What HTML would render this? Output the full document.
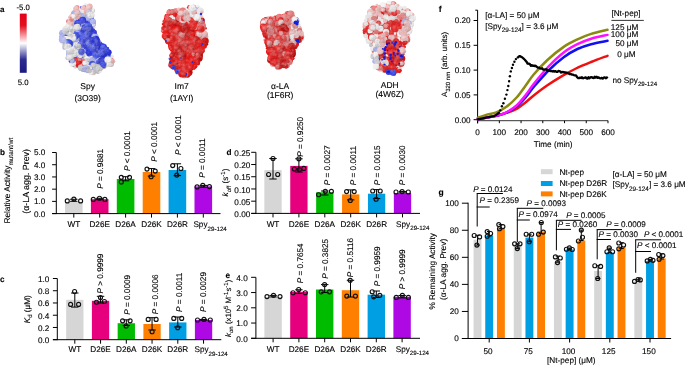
<!DOCTYPE html>
<html><head><meta charset="utf-8"><style>
html,body{margin:0;padding:0;background:#fff;}
body{width:685px;height:365px;overflow:hidden;font-family:"Liberation Sans", sans-serif;}
svg{display:block;will-change:transform;}
text{stroke:#000;stroke-width:0.12px;text-rendering:geometricPrecision;}
</style></head><body>
<svg width="685" height="365" viewBox="0 0 685 365" font-family='"Liberation Sans", sans-serif' font-size="8.2" fill="#000">
<defs><radialGradient id="sh" cx="0.35" cy="0.32" r="0.75"><stop offset="0" stop-color="#fff" stop-opacity="0.14"/><stop offset="0.5" stop-color="#fff" stop-opacity="0"/><stop offset="1" stop-color="#000" stop-opacity="0.1"/></radialGradient><filter id="bl" x="-10%" y="-10%" width="120%" height="120%"><feGaussianBlur stdDeviation="0.55"/></filter></defs>
<g filter="url(#bl)"><g>
<polygon points="83.52,5.63 88.2,5.07 91.89,7.58 93.78,12.42 93.87,18.28 94.5,24.04 95.13,29.9 96.93,36.69 102.87,43.48 107.82,49.24 110.7,55.1 112.5,60.87 109.71,64.78 102.24,66.73 98.46,71.56 90.99,72.49 83.52,69.61 75.96,66.73 70.38,62.82 66.6,56.96 66.6,51.2 63.81,45.34 61.92,39.57 61.02,33.71 64.71,29.9 67.5,24.04 70.38,16.32 74.07,10.46 78.75,6.65" fill="#3242ec"/>
<circle cx="92.9" cy="10.75" r="2.13" fill="#c8c8cd"/>
<circle cx="77.87" cy="11.23" r="3.71" fill="#f2f0f0"/>
<circle cx="79.81" cy="10.4" r="2.05" fill="#f1bbbb"/>
<circle cx="75.77" cy="14.85" r="3.12" fill="#c3c3c8"/>
<circle cx="80.01" cy="11.92" r="2.83" fill="#eae8e8"/>
<circle cx="72.76" cy="16.75" r="3.44" fill="#f0bbbb"/>
<circle cx="83.45" cy="11.04" r="3.08" fill="#e2aeae"/>
<circle cx="84.52" cy="16.26" r="2.54" fill="#202ad9"/>
<circle cx="88.92" cy="8.92" r="3.49" fill="#e7b2b2"/>
<circle cx="83.05" cy="13.95" r="3.29" fill="#eae8e8"/>
<circle cx="89.53" cy="20.65" r="2.49" fill="#3c4bed"/>
<circle cx="92.5" cy="15.58" r="2.04" fill="#eeecec"/>
<circle cx="89.51" cy="21.77" r="2.19" fill="#2f3edf"/>
<circle cx="91.23" cy="10.73" r="3.03" fill="#f2f1f1"/>
<circle cx="83.6" cy="28.89" r="3.35" fill="#a1a8e3"/>
<circle cx="85.41" cy="4.18" r="1.22" fill="#f1efef"/>
<circle cx="75.12" cy="20.87" r="2.86" fill="#ebe9e9"/>
<circle cx="64.23" cy="29.58" r="1.91" fill="#a4abe7"/>
<circle cx="77.53" cy="12.85" r="2.46" fill="#f3f1f1"/>
<circle cx="78.72" cy="14.2" r="2.8" fill="#acb4f0"/>
<circle cx="74.67" cy="20.78" r="2.76" fill="#a0a8e2"/>
<circle cx="72.68" cy="19.43" r="2.38" fill="#e4e2e2"/>
<circle cx="78" cy="7.54" r="2.29" fill="#f1efef"/>
<circle cx="68.38" cy="20.67" r="2.39" fill="#f3f1f1"/>
<circle cx="86.54" cy="26.43" r="2.23" fill="#303fe2"/>
<circle cx="84.56" cy="22.02" r="2.99" fill="#303fe2"/>
<circle cx="80.64" cy="24.74" r="2.59" fill="#1e28cf"/>
<circle cx="74.8" cy="13.77" r="3.75" fill="#a4abe7"/>
<circle cx="73.58" cy="18.04" r="2.66" fill="#eceaea"/>
<circle cx="88.17" cy="6.91" r="2.64" fill="#f2f0f0"/>
<circle cx="78.6" cy="12.53" r="2.23" fill="#e67474"/>
<circle cx="91.24" cy="25.79" r="3.14" fill="#3140e6"/>
<circle cx="80.93" cy="27.05" r="2.46" fill="#3242eb"/>
<circle cx="89.1" cy="7.88" r="2.43" fill="#f3f1f1"/>
<circle cx="93.37" cy="27.33" r="2.1" fill="#e4e2e2"/>
<circle cx="73.44" cy="29.52" r="2.42" fill="#edebeb"/>
<circle cx="75.62" cy="26.74" r="2.98" fill="#efeded"/>
<circle cx="81.16" cy="38.39" r="2.68" fill="#2630db"/>
<circle cx="75.82" cy="37.85" r="3.71" fill="#3a4aed"/>
<circle cx="92.02" cy="23.32" r="3.8" fill="#a1a9e3"/>
<circle cx="80.81" cy="14.85" r="2.9" fill="#a2aae5"/>
<circle cx="85.47" cy="39.65" r="2.64" fill="#3141e9"/>
<circle cx="89.06" cy="30.83" r="2.01" fill="#2f3edf"/>
<circle cx="86.99" cy="32.78" r="2.3" fill="#3747ec"/>
<circle cx="77.17" cy="12.61" r="2.45" fill="#cfcfd4"/>
<circle cx="69.57" cy="28.58" r="3.58" fill="#f2f0f0"/>
<circle cx="86.96" cy="40.64" r="2.27" fill="#3342ec"/>
<circle cx="84.04" cy="36.66" r="3.5" fill="#303fe2"/>
<circle cx="86.01" cy="31.08" r="2.97" fill="#3242eb"/>
<circle cx="83.5" cy="41.8" r="3.03" fill="#3a4aed"/>
<circle cx="64.41" cy="39.79" r="3.65" fill="#c1c1c6"/>
<circle cx="88.1" cy="31.01" r="2.88" fill="#2933dc"/>
<circle cx="84.59" cy="23.51" r="2.04" fill="#3444ec"/>
<circle cx="104.94" cy="46.4" r="1.58" fill="#1f28d2"/>
<circle cx="77.04" cy="7.49" r="2.26" fill="#e67474"/>
<circle cx="89.25" cy="33.47" r="3.6" fill="#2c35dc"/>
<circle cx="90.67" cy="29.21" r="2.72" fill="#acb4f0"/>
<circle cx="61.38" cy="36.45" r="2.2" fill="#a1a9e3"/>
<circle cx="82.6" cy="20.29" r="3" fill="#3242eb"/>
<circle cx="89.71" cy="6.41" r="2.92" fill="#ecb6b6"/>
<circle cx="76.59" cy="45.44" r="2.83" fill="#3444ec"/>
<circle cx="81.9" cy="16.95" r="3.58" fill="#a9b1ee"/>
<circle cx="68.61" cy="26.24" r="2.56" fill="#a7afec"/>
<circle cx="89.98" cy="30.87" r="2.35" fill="#abb3f0"/>
<circle cx="77.89" cy="44.2" r="3.51" fill="#ceced3"/>
<circle cx="82.38" cy="10.88" r="2.3" fill="#f2f0f0"/>
<circle cx="64.29" cy="47.86" r="1.92" fill="#adb5f1"/>
<circle cx="88.26" cy="44.23" r="3.79" fill="#3241ea"/>
<circle cx="97.61" cy="43.3" r="3.63" fill="#2f3fe0"/>
<circle cx="85.25" cy="38.22" r="3.39" fill="#2b34dc"/>
<circle cx="73.05" cy="39.75" r="3.33" fill="#adb4f0"/>
<circle cx="95.41" cy="48.15" r="2.73" fill="#3242eb"/>
<circle cx="88.3" cy="9.05" r="3.44" fill="#f1bcbc"/>
<circle cx="91.14" cy="29.02" r="2.53" fill="#1f29d4"/>
<circle cx="66.04" cy="42.46" r="2.19" fill="#adb4f0"/>
<circle cx="84.76" cy="44.55" r="2.38" fill="#1f28d0"/>
<circle cx="75.15" cy="48.44" r="2.09" fill="#f2f0f0"/>
<circle cx="90.06" cy="35.32" r="2.6" fill="#2630db"/>
<circle cx="87.34" cy="11.31" r="3.63" fill="#edb6b6"/>
<circle cx="73.93" cy="44.97" r="2.45" fill="#e9b4b4"/>
<circle cx="93.66" cy="34.37" r="3.47" fill="#2f3edf"/>
<circle cx="64.2" cy="42.58" r="2.76" fill="#f2f0f0"/>
<circle cx="86.89" cy="26.09" r="3.57" fill="#3040e4"/>
<circle cx="78.47" cy="26.08" r="3.35" fill="#a3abe7"/>
<circle cx="104.51" cy="48.06" r="2.48" fill="#242ddb"/>
<circle cx="83.32" cy="49.04" r="2.64" fill="#3242eb"/>
<circle cx="86.29" cy="34.82" r="2.83" fill="#202ad9"/>
<circle cx="70.98" cy="34.25" r="2.89" fill="#cfcfd4"/>
<circle cx="79.56" cy="53.34" r="3.33" fill="#abb3f0"/>
<circle cx="82.75" cy="35.7" r="2.99" fill="#1e28ce"/>
<circle cx="76.72" cy="36.85" r="2.04" fill="#2f3edf"/>
<circle cx="84.92" cy="39.29" r="2.3" fill="#3343ec"/>
<circle cx="73.48" cy="22.71" r="2.86" fill="#acb4f0"/>
<circle cx="81.88" cy="43.13" r="3.63" fill="#3b4aed"/>
<circle cx="68.14" cy="21.37" r="2.13" fill="#e77b7b"/>
<circle cx="95.66" cy="54.22" r="3.47" fill="#2933dc"/>
<circle cx="89.05" cy="16.88" r="2.77" fill="#a0a8e2"/>
<circle cx="77.8" cy="47.1" r="3.41" fill="#a8b0ed"/>
<circle cx="77.17" cy="15.58" r="3.64" fill="#e8b3b3"/>
<circle cx="98.6" cy="51.67" r="2.98" fill="#1f28d1"/>
<circle cx="90.47" cy="28.43" r="2.29" fill="#3343ec"/>
<circle cx="67.42" cy="58.04" r="2.15" fill="#c5c5c9"/>
<circle cx="83.41" cy="39.36" r="3.4" fill="#1f29d3"/>
<circle cx="76.51" cy="41.26" r="2.81" fill="#3646ec"/>
<circle cx="99.75" cy="53.27" r="3.24" fill="#f0eeee"/>
<circle cx="64.16" cy="39.85" r="2.92" fill="#abb3f0"/>
<circle cx="68.44" cy="44.87" r="3.55" fill="#3141e9"/>
<circle cx="89.43" cy="41.99" r="3.52" fill="#3140e6"/>
<circle cx="66.97" cy="43.6" r="3.52" fill="#f3f1f1"/>
<circle cx="88.37" cy="41.8" r="3.47" fill="#3a4aed"/>
<circle cx="103.14" cy="53.46" r="3.34" fill="#a3abe6"/>
<circle cx="90.39" cy="15" r="3.42" fill="#f3f1f1"/>
<circle cx="70.07" cy="51.38" r="2.78" fill="#f2f0f0"/>
<circle cx="84.01" cy="24.6" r="2.72" fill="#303fe3"/>
<circle cx="100.82" cy="54.78" r="3.35" fill="#f2f0f0"/>
<circle cx="91.42" cy="45.71" r="2.44" fill="#1f29d6"/>
<circle cx="83.07" cy="7.88" r="2.37" fill="#f1bcbc"/>
<circle cx="76.54" cy="56.26" r="3.02" fill="#a6adea"/>
<circle cx="80.41" cy="33.02" r="2.34" fill="#3343ec"/>
<circle cx="87.77" cy="25.83" r="3.71" fill="#252fdb"/>
<circle cx="88.47" cy="14.69" r="2.49" fill="#e4e2e2"/>
<circle cx="73.6" cy="41.69" r="2.79" fill="#a5ade9"/>
<circle cx="69.79" cy="26.26" r="3.78" fill="#a3abe6"/>
<circle cx="96.94" cy="41.97" r="3.7" fill="#adb5f1"/>
<circle cx="90.28" cy="48.57" r="3.3" fill="#1e28cd"/>
<circle cx="78" cy="45.24" r="2.8" fill="#303fe1"/>
<circle cx="83.6" cy="63.06" r="2.1" fill="#e71414"/>
<circle cx="76.1" cy="38.97" r="2.64" fill="#303fe1"/>
<circle cx="74.01" cy="53.7" r="2.74" fill="#f2f0f0"/>
<circle cx="76.35" cy="61.39" r="3.72" fill="#da6d6d"/>
<circle cx="69.88" cy="56.6" r="2.21" fill="#f1efef"/>
<circle cx="80.56" cy="33.38" r="2.73" fill="#1f29d2"/>
<circle cx="76.76" cy="28" r="2.71" fill="#a2aae5"/>
<circle cx="86.02" cy="36.36" r="2.08" fill="#2a34dc"/>
<circle cx="72.7" cy="16.62" r="2.63" fill="#efeded"/>
<circle cx="78.58" cy="32.6" r="2.03" fill="#3a49ed"/>
<circle cx="103.97" cy="60.29" r="3.47" fill="#3141e8"/>
<circle cx="95.68" cy="41.41" r="2.45" fill="#3747ec"/>
<circle cx="72.11" cy="56.44" r="2.19" fill="#cbcbd0"/>
<circle cx="91.68" cy="23.69" r="2.99" fill="#303fe2"/>
<circle cx="103.09" cy="52.05" r="2.89" fill="#3d4ced"/>
<circle cx="87.76" cy="14.45" r="3.31" fill="#e4afaf"/>
<circle cx="89.43" cy="13.53" r="3.5" fill="#d0d0d5"/>
<circle cx="94.33" cy="24.81" r="1.53" fill="#afb6f1"/>
<circle cx="66.11" cy="38.78" r="3.03" fill="#f2f0f0"/>
<circle cx="69.75" cy="23.91" r="2.99" fill="#a2aae5"/>
<circle cx="66.85" cy="45.23" r="3.53" fill="#f3f1f1"/>
<circle cx="80.47" cy="34.65" r="2.33" fill="#3545ec"/>
<circle cx="73.12" cy="62.6" r="2.72" fill="#3747ec"/>
<circle cx="91.25" cy="46.62" r="3.22" fill="#3140e6"/>
<circle cx="74.15" cy="59.56" r="3.49" fill="#303fe2"/>
<circle cx="88.62" cy="36.81" r="2.73" fill="#3242ec"/>
<circle cx="70.12" cy="23.15" r="2.98" fill="#e4e3e3"/>
<circle cx="80.17" cy="60.7" r="2.78" fill="#e61414"/>
<circle cx="101.76" cy="63.57" r="2.41" fill="#3c4bed"/>
<circle cx="75.21" cy="45.75" r="2.81" fill="#ceced2"/>
<circle cx="81.18" cy="66.3" r="3.37" fill="#eb1e1e"/>
<circle cx="88.23" cy="29.2" r="2.92" fill="#2b34dc"/>
<circle cx="86.9" cy="61.25" r="2.01" fill="#f2f0f0"/>
<circle cx="71.98" cy="58.69" r="3.68" fill="#d0d0d4"/>
<circle cx="78.46" cy="60.76" r="3.15" fill="#e57373"/>
<circle cx="69.16" cy="34.31" r="2.04" fill="#e4e2e2"/>
<circle cx="80.92" cy="30.71" r="2.36" fill="#3140e6"/>
<circle cx="89.78" cy="38.83" r="2.86" fill="#202ad7"/>
<circle cx="70.25" cy="17.56" r="2.16" fill="#e9b4b4"/>
<circle cx="74.21" cy="32.63" r="3.07" fill="#f1bdbd"/>
<circle cx="95.6" cy="49.15" r="3.69" fill="#2029d7"/>
<circle cx="78.69" cy="49.93" r="3.02" fill="#efeded"/>
<circle cx="83.17" cy="29.78" r="2.53" fill="#3847ed"/>
<circle cx="92.51" cy="66.42" r="3.49" fill="#f2f0f0"/>
<circle cx="79.51" cy="42.66" r="3.57" fill="#3747ec"/>
<circle cx="87.36" cy="28.33" r="2.49" fill="#1f29d5"/>
<circle cx="99.38" cy="54.59" r="2.55" fill="#aeb5f1"/>
<circle cx="111.31" cy="63.38" r="2.27" fill="#e77676"/>
<circle cx="80.04" cy="49.97" r="3.32" fill="#ceced2"/>
<circle cx="87.48" cy="17.66" r="3.09" fill="#a6aeeb"/>
<circle cx="110.75" cy="60.14" r="3.01" fill="#e77878"/>
<circle cx="89.28" cy="24.78" r="2.44" fill="#3848ed"/>
<circle cx="93.61" cy="24.84" r="1.8" fill="#f2f1f1"/>
<circle cx="67.49" cy="26.06" r="2.39" fill="#f2f0f0"/>
<circle cx="76.07" cy="8.77" r="2.89" fill="#eeb7b7"/>
<circle cx="71.17" cy="61.3" r="2.39" fill="#3b4aed"/>
<circle cx="76.11" cy="39.53" r="3.62" fill="#a0a8e2"/>
<circle cx="90.28" cy="12.32" r="2.12" fill="#adb5f0"/>
<circle cx="87.2" cy="45.2" r="2.06" fill="#3848ed"/>
<circle cx="101.28" cy="56.3" r="2.55" fill="#3141e9"/>
<circle cx="72.43" cy="63.97" r="2.59" fill="#f3f1f1"/>
<circle cx="70.78" cy="19.97" r="2.36" fill="#f2f0f0"/>
<circle cx="82.98" cy="69.72" r="2.39" fill="#cfcfd4"/>
<circle cx="76.41" cy="33.8" r="3.37" fill="#3444ec"/>
<circle cx="88.67" cy="28.56" r="2.01" fill="#222cda"/>
<circle cx="85.81" cy="32.63" r="2.13" fill="#a5ade9"/>
<circle cx="106.47" cy="49.34" r="2.71" fill="#3948ed"/>
<circle cx="64.39" cy="31.28" r="2.89" fill="#f3f1f1"/>
<circle cx="67.72" cy="26.1" r="2.23" fill="#e8e6e6"/>
<circle cx="83.05" cy="57.77" r="2" fill="#efeded"/>
<circle cx="87.26" cy="45" r="2.99" fill="#3c4bed"/>
<circle cx="85.14" cy="29.34" r="3.77" fill="#242edb"/>
<circle cx="70.35" cy="22.59" r="2.86" fill="#f0baba"/>
<circle cx="86.64" cy="35.09" r="3.17" fill="#3d4ced"/>
<circle cx="94.82" cy="51.19" r="3.66" fill="#2029d7"/>
<circle cx="86.97" cy="65.59" r="3.35" fill="#adb5f1"/>
<circle cx="87.72" cy="37.81" r="2.73" fill="#1f28d1"/>
<circle cx="77.56" cy="29.21" r="2.99" fill="#a5ade9"/>
<circle cx="62.44" cy="42.46" r="2.13" fill="#ebe9e9"/>
<circle cx="87.66" cy="25.52" r="3.09" fill="#303fe1"/>
<circle cx="68.86" cy="32.31" r="3.31" fill="#cfcfd4"/>
<circle cx="80.22" cy="44.57" r="3.65" fill="#f3f1f1"/>
<circle cx="90.13" cy="60.4" r="2.12" fill="#cfcfd4"/>
<circle cx="71.07" cy="49.52" r="2.71" fill="#e6e4e4"/>
<circle cx="97.33" cy="45.35" r="2.23" fill="#303fe1"/>
<circle cx="73.73" cy="46.7" r="2.42" fill="#f2f0f0"/>
<circle cx="95.06" cy="37.84" r="2.61" fill="#3141ea"/>
<circle cx="80.13" cy="23.21" r="3.19" fill="#a2aae5"/>
<circle cx="88.51" cy="17.68" r="2.52" fill="#aeb6f1"/>
<circle cx="92.98" cy="21.49" r="2.95" fill="#abb3f0"/>
<circle cx="81.97" cy="22.78" r="3.25" fill="#a3abe6"/>
<circle cx="84.48" cy="47.98" r="2.24" fill="#3b4bed"/>
<circle cx="67.28" cy="29.35" r="2.94" fill="#a3abe7"/>
<circle cx="88.09" cy="32.7" r="3.6" fill="#2029d7"/>
<circle cx="81.24" cy="46.9" r="2.42" fill="#adb5f1"/>
<circle cx="84.7" cy="63.01" r="2.74" fill="#e17171"/>
<circle cx="93.17" cy="51.65" r="3.56" fill="#3d4ced"/>
<circle cx="88.49" cy="43.42" r="2.96" fill="#1e28ce"/>
<circle cx="69.73" cy="39.09" r="2.87" fill="#f2f0f0"/>
<circle cx="79.36" cy="63.95" r="3.28" fill="#de1313"/>
<circle cx="78.71" cy="27.59" r="2.97" fill="#2f3edf"/>
<circle cx="81.35" cy="28.58" r="2.09" fill="#eceaea"/>
<circle cx="74.19" cy="65.21" r="2.05" fill="#3d4ced"/>
<circle cx="96.04" cy="53.28" r="2.8" fill="#3242eb"/>
<circle cx="87.41" cy="29.9" r="2.62" fill="#3d4ded"/>
<circle cx="89.74" cy="41.25" r="2.62" fill="#3545ec"/>
<circle cx="90.94" cy="30.29" r="2.51" fill="#202ada"/>
<circle cx="82.67" cy="20.23" r="3.49" fill="#2c35dc"/>
<circle cx="90.92" cy="14.93" r="3.56" fill="#f2f0f0"/>
<circle cx="83.02" cy="65.68" r="3.05" fill="#e81414"/>
<circle cx="84.86" cy="60.2" r="2.67" fill="#e07070"/>
<circle cx="69.26" cy="28.31" r="3.73" fill="#f2f0f0"/>
<circle cx="71.63" cy="19.24" r="2.39" fill="#e77a7a"/>
<circle cx="76.38" cy="37.33" r="2.07" fill="#3040e4"/>
<circle cx="98.13" cy="47.87" r="2.69" fill="#3040e4"/>
<circle cx="83.71" cy="53.21" r="3.67" fill="#3141e8"/>
<circle cx="73.27" cy="48.33" r="2.95" fill="#f2f0f0"/>
<circle cx="73.43" cy="53.83" r="3.57" fill="#f2f0f0"/>
<circle cx="86.36" cy="29.42" r="2.71" fill="#2f3edf"/>
<circle cx="110.72" cy="63.75" r="3.23" fill="#f0b9b9"/>
<circle cx="85.22" cy="27.03" r="3.09" fill="#3040e4"/>
<circle cx="84.04" cy="30.76" r="3.64" fill="#1f29d3"/>
<circle cx="73.55" cy="16.73" r="2.1" fill="#f3f1f1"/>
<circle cx="94.99" cy="37.22" r="3.76" fill="#adb5f0"/>
<circle cx="82.35" cy="40.66" r="2.83" fill="#3948ed"/>
<circle cx="89.36" cy="43.97" r="2.99" fill="#3949ed"/>
<circle cx="70.69" cy="33.1" r="2.05" fill="#eae8e8"/>
<circle cx="98.3" cy="48.53" r="2.93" fill="#1f28d1"/>
<circle cx="97.81" cy="72.06" r="1.86" fill="#adb5f1"/>
<circle cx="62.54" cy="32.96" r="3.26" fill="#adb5f1"/>
<circle cx="72.78" cy="37.28" r="3.71" fill="#ebe9e9"/>
<circle cx="97.4" cy="59.85" r="3.46" fill="#a6aeeb"/>
<circle cx="86.95" cy="49.54" r="2.79" fill="#3444ec"/>
<circle cx="78.28" cy="22.74" r="2.84" fill="#3040e4"/>
<circle cx="88.18" cy="43.61" r="3.57" fill="#2b34dc"/>
<circle cx="86.62" cy="37.21" r="2.41" fill="#2f3ede"/>
<circle cx="111.05" cy="60.6" r="2.24" fill="#f1bdbd"/>
<circle cx="81.13" cy="54.95" r="3.5" fill="#3746ec"/>
<circle cx="92.85" cy="71.69" r="3.6" fill="#f3f1f1"/>
<circle cx="75.64" cy="44.64" r="2.56" fill="#f2f0f0"/>
<circle cx="102.87" cy="45.9" r="2.76" fill="#3141e8"/>
<circle cx="108.79" cy="60.23" r="3.05" fill="#e9e7e7"/>
<circle cx="77.76" cy="23.61" r="3.56" fill="#2c35dc"/>
<circle cx="69.83" cy="57.84" r="2.68" fill="#edebeb"/>
<circle cx="93.07" cy="47.27" r="3.13" fill="#3141e8"/>
<circle cx="70.25" cy="36.1" r="2.52" fill="#ceced3"/>
<circle cx="104.74" cy="67.13" r="1.54" fill="#f0bbbb"/>
<circle cx="101.19" cy="66.8" r="2.07" fill="#eeecec"/>
<circle cx="92.25" cy="68.44" r="3.79" fill="#f2f1f1"/>
<circle cx="86.37" cy="64.54" r="3.38" fill="#3040e4"/>
<circle cx="76.42" cy="63.92" r="3.61" fill="#e61414"/>
<circle cx="77.18" cy="27.05" r="3.41" fill="#e4e2e2"/>
<circle cx="102.12" cy="50.87" r="3.44" fill="#3d4ced"/>
<circle cx="103.13" cy="61.99" r="3.6" fill="#3848ed"/>
<circle cx="87.06" cy="64.51" r="3.74" fill="#3343ec"/>
<circle cx="106.05" cy="53.34" r="2.96" fill="#a8b0ee"/>
<circle cx="89.27" cy="64.22" r="2.82" fill="#a1a9e4"/>
<circle cx="86.78" cy="51.46" r="2.06" fill="#222cda"/>
<circle cx="76.95" cy="52.53" r="3.16" fill="#3242eb"/>
<circle cx="84.4" cy="28.01" r="2.71" fill="#202ada"/>
<circle cx="70.58" cy="57.58" r="2.61" fill="#f2f1f1"/>
<circle cx="104.39" cy="46.54" r="2.47" fill="#3c4bed"/>
<circle cx="94.19" cy="46.41" r="3.5" fill="#3040e4"/>
<circle cx="66.98" cy="29.65" r="2.58" fill="#f2f0f0"/>
<circle cx="98.56" cy="61.58" r="3.74" fill="#3140e6"/>
<circle cx="72.23" cy="31.11" r="2.38" fill="#c7c7cc"/>
<circle cx="82.56" cy="50.52" r="3.28" fill="#a6aeea"/>
<circle cx="105.78" cy="51.1" r="2.55" fill="#1f29d6"/>
<circle cx="86.16" cy="34.79" r="3.33" fill="#3140e6"/>
<circle cx="80.94" cy="35.07" r="3.5" fill="#3c4bed"/>
<circle cx="65.74" cy="45.04" r="2.22" fill="#aab2f0"/>
<circle cx="80.28" cy="55.61" r="2.56" fill="#eceaea"/>
<circle cx="83.67" cy="68.7" r="3.31" fill="#a7aeeb"/>
<circle cx="69.17" cy="39.46" r="2.94" fill="#efeded"/>
<circle cx="95.11" cy="31.69" r="1.7" fill="#2c35dc"/>
<circle cx="82.8" cy="42.37" r="3.6" fill="#202ada"/>
<circle cx="74.93" cy="59.93" r="2.89" fill="#eb1f1f"/>
<circle cx="87.34" cy="65.6" r="3.54" fill="#f2f0f0"/>
<circle cx="98.01" cy="41.27" r="2.1" fill="#a6aeeb"/>
<circle cx="70.49" cy="51.4" r="3.51" fill="#eceaea"/>
<circle cx="66.05" cy="29.24" r="3.6" fill="#e7e5e5"/>
<circle cx="65.63" cy="31.15" r="3.27" fill="#ceced3"/>
<circle cx="86.48" cy="56.57" r="3.15" fill="#e4e2e2"/>
<circle cx="98.98" cy="70.39" r="2.76" fill="#eeecec"/>
<circle cx="109.6" cy="62.79" r="2.52" fill="#f2f0f0"/>
<circle cx="69.82" cy="56.64" r="3.39" fill="#e4e3e3"/>
<circle cx="67.91" cy="43.59" r="3.57" fill="#f0eeee"/>
<circle cx="100.85" cy="66.24" r="2" fill="#f2f1f1"/>
<circle cx="80.4" cy="68.14" r="2.36" fill="#adb5f1"/>
<circle cx="103.95" cy="55.12" r="3.47" fill="#1f29d2"/>
<circle cx="78.62" cy="50.12" r="2.04" fill="#3140e6"/>
<circle cx="73.73" cy="50.85" r="3.44" fill="#e5e3e3"/>
<circle cx="92.69" cy="40.09" r="2.04" fill="#3d4ced"/>
<circle cx="90.41" cy="33.39" r="2.1" fill="#242edb"/>
<circle cx="94.92" cy="57.71" r="2.39" fill="#cbcbd0"/>
<circle cx="91.78" cy="39.7" r="2.77" fill="#2d37dc"/>
<circle cx="96.95" cy="40.52" r="3.01" fill="#3444ec"/>
<circle cx="92" cy="59.55" r="3.57" fill="#a4ace7"/>
<circle cx="75.92" cy="51.97" r="2.28" fill="#a2a9e4"/>
<circle cx="68.68" cy="52.12" r="2.53" fill="#cbcbd0"/>
<circle cx="90.46" cy="56.3" r="2.3" fill="#adb5f1"/>
<circle cx="98.72" cy="63.67" r="2.05" fill="#f3f1f1"/>
<circle cx="94.59" cy="63.92" r="2.8" fill="#f0b9b9"/>
<circle cx="108.77" cy="52.32" r="2.87" fill="#242edb"/>
<circle cx="60.74" cy="33.14" r="1.68" fill="#a4ace8"/>
<circle cx="68.2" cy="42.29" r="3.27" fill="#3140e6"/>
<circle cx="76.14" cy="52.71" r="3.53" fill="#e6e4e4"/>
<circle cx="62.39" cy="39.6" r="3.58" fill="#adb4f0"/>
<circle cx="107.18" cy="64.28" r="2.1" fill="#a6aeea"/>
<circle cx="77.55" cy="35.57" r="2.21" fill="#2f3edf"/>
<circle cx="75.83" cy="64.74" r="2.56" fill="#e31313"/>
<circle cx="102.34" cy="51.89" r="2.07" fill="#1e28ce"/>
<circle cx="87.31" cy="43.82" r="3.26" fill="#2f3ede"/>
<circle cx="110.19" cy="63.45" r="3.34" fill="#e4e2e2"/>
<circle cx="80.59" cy="50.98" r="2.53" fill="#c3c3c8"/>
<circle cx="106.44" cy="64" r="2.6" fill="#f2f0f0"/>
<circle cx="97.22" cy="44.24" r="3.54" fill="#2831db"/>
<circle cx="89.08" cy="41.37" r="2.57" fill="#242edb"/>
<circle cx="91.95" cy="50.61" r="3.57" fill="#3747ed"/>
<circle cx="94.29" cy="48.45" r="3.69" fill="#202ad8"/>
<circle cx="75.09" cy="67.3" r="1.35" fill="#e4e2e2"/>
<circle cx="93.96" cy="46.9" r="2.82" fill="#232ddb"/>
<circle cx="84.27" cy="66.1" r="2.19" fill="#f1bcbc"/>
<circle cx="82.71" cy="45.18" r="2.57" fill="#3c4bed"/>
<circle cx="97.66" cy="50.48" r="2.47" fill="#202ad8"/>
<circle cx="82.13" cy="43.87" r="2.11" fill="#303fe0"/>
<circle cx="85.87" cy="46.98" r="2.48" fill="#212bda"/>
<circle cx="65.71" cy="43.06" r="2.82" fill="#acb4f0"/>
<circle cx="72.9" cy="63.53" r="3.21" fill="#f2f0f0"/>
<circle cx="95.86" cy="59.38" r="2.83" fill="#a5ade9"/>
<circle cx="102.95" cy="47.6" r="3.32" fill="#1f29d4"/>
<circle cx="112.03" cy="56.43" r="1.65" fill="#e8e6e6"/>
<circle cx="95.73" cy="39.44" r="3.78" fill="#1f29d6"/>
<circle cx="100.89" cy="52.29" r="3.52" fill="#3242ec"/>
<circle cx="100.15" cy="64.31" r="2.12" fill="#f3f1f1"/>
<circle cx="76.05" cy="46.33" r="2.08" fill="#a0a8e2"/>
<circle cx="103.69" cy="50.7" r="2.21" fill="#1f28d1"/>
<circle cx="88.78" cy="46.65" r="2.27" fill="#1f28d1"/>
<circle cx="95.76" cy="60.65" r="3.48" fill="#abb3f0"/>
<circle cx="83.78" cy="54.81" r="2.41" fill="#c7c7cc"/>
<circle cx="86.47" cy="67.39" r="2.98" fill="#cacacf"/>
<circle cx="91.12" cy="47.35" r="2.13" fill="#3b4aed"/>
<circle cx="94.55" cy="55.87" r="3.64" fill="#3d4ced"/>
<circle cx="79.92" cy="43.88" r="2.4" fill="#3b4aed"/>
<circle cx="103.68" cy="64.69" r="3.42" fill="#cfcfd4"/>
<circle cx="100.28" cy="67.6" r="3.35" fill="#c8c8cd"/>
<circle cx="97.29" cy="54.49" r="2.63" fill="#3b4aed"/>
<circle cx="97.64" cy="50.52" r="2.55" fill="#1f28d1"/>
<circle cx="106.96" cy="49.13" r="2.31" fill="#303fe2"/>
<circle cx="94.76" cy="44.75" r="2.87" fill="#1f29d4"/>
<circle cx="69.71" cy="43.65" r="3.59" fill="#3040e4"/>
<circle cx="91.91" cy="66.48" r="3.52" fill="#a1a8e3"/>
<circle cx="90.88" cy="57.44" r="2.09" fill="#e4e2e2"/>
<circle cx="90.38" cy="45.89" r="3.73" fill="#3545ec"/>
<circle cx="103.92" cy="66.7" r="1.77" fill="#3a49ed"/>
<circle cx="93.41" cy="72.46" r="2.38" fill="#eeb7b7"/>
<circle cx="89.17" cy="64.87" r="2.42" fill="#ceced3"/>
<circle cx="95.9" cy="69.62" r="3.74" fill="#c5c5ca"/>
<circle cx="78.3" cy="46.39" r="3.01" fill="#cacacf"/>
<circle cx="65.12" cy="46.05" r="2.73" fill="#c3c3c7"/>
<circle cx="72.15" cy="51.77" r="2.49" fill="#ceced3"/>
<circle cx="87.35" cy="68.12" r="2.21" fill="#f0baba"/>
<circle cx="103.02" cy="47.96" r="3.2" fill="#303fe1"/>
<circle cx="72.18" cy="60.31" r="2.75" fill="#2f3edf"/>
<circle cx="81.29" cy="52.45" r="3.09" fill="#a2aae5"/>
<circle cx="90.75" cy="72.81" r="2.31" fill="#f2f0f0"/>
<circle cx="68.01" cy="47.13" r="3.72" fill="#f2f0f0"/>
<circle cx="112.79" cy="61.34" r="2.4" fill="#e4b0b0"/>
<circle cx="87.49" cy="56.49" r="2.76" fill="#f2f0f0"/>
<circle cx="84.47" cy="67.16" r="2.42" fill="#aeb5f1"/>
<circle cx="97.57" cy="55.53" r="2.43" fill="#3d4ced"/>
<circle cx="92.16" cy="59.59" r="2.51" fill="#a4abe7"/>
<circle cx="87.31" cy="71.09" r="1.95" fill="#ceced3"/>
<circle cx="87.69" cy="71.55" r="1.82" fill="#a2aae5"/>
<circle cx="99.66" cy="52.13" r="2.05" fill="#3343ec"/>
<circle cx="98.79" cy="61.9" r="2.69" fill="#3140e6"/>
<circle cx="81.48" cy="51.73" r="3.12" fill="#2f3edf"/>
<circle cx="84.28" cy="65.89" r="3.19" fill="#f2f0f0"/>
<circle cx="103.06" cy="63.85" r="3.38" fill="#3747ec"/>
<circle cx="80.82" cy="67.63" r="3.14" fill="#c7c7cc"/>
<circle cx="92.31" cy="64.58" r="3.61" fill="#2f3fe0"/>
<circle cx="89.12" cy="53.46" r="3.01" fill="#2731db"/>
<circle cx="100.66" cy="61.16" r="2.93" fill="#1f29d3"/>
<circle cx="86.98" cy="60.14" r="2.14" fill="#cfcfd4"/>
<circle cx="70.48" cy="57.54" r="3.08" fill="#e5e3e3"/>
<circle cx="83.98" cy="64.33" r="2.07" fill="#e21313"/>
<circle cx="72.32" cy="61.1" r="2.43" fill="#a5ade9"/>
<circle cx="89.16" cy="68.01" r="2.98" fill="#f2f0f0"/>
<circle cx="107.84" cy="59.64" r="3.49" fill="#f2f0f0"/>
<circle cx="84.52" cy="62.97" r="2.32" fill="#f3f1f1"/>
<circle cx="85.74" cy="68.68" r="3.67" fill="#abb3f0"/>
<circle cx="93.51" cy="65.18" r="2.7" fill="#c3c3c7"/>
<circle cx="89.27" cy="70.59" r="2.69" fill="#c5c5ca"/>
<circle cx="96.61" cy="67.66" r="3.67" fill="#cbcbd0"/>
<circle cx="92.9" cy="10.75" r="2.13" fill="url(#sh)"/>
<circle cx="77.87" cy="11.23" r="3.71" fill="url(#sh)"/>
<circle cx="79.81" cy="10.4" r="2.05" fill="url(#sh)"/>
<circle cx="75.77" cy="14.85" r="3.12" fill="url(#sh)"/>
<circle cx="80.01" cy="11.92" r="2.83" fill="url(#sh)"/>
<circle cx="72.76" cy="16.75" r="3.44" fill="url(#sh)"/>
<circle cx="83.45" cy="11.04" r="3.08" fill="url(#sh)"/>
<circle cx="84.52" cy="16.26" r="2.54" fill="url(#sh)"/>
<circle cx="88.92" cy="8.92" r="3.49" fill="url(#sh)"/>
<circle cx="83.05" cy="13.95" r="3.29" fill="url(#sh)"/>
<circle cx="89.53" cy="20.65" r="2.49" fill="url(#sh)"/>
<circle cx="92.5" cy="15.58" r="2.04" fill="url(#sh)"/>
<circle cx="89.51" cy="21.77" r="2.19" fill="url(#sh)"/>
<circle cx="91.23" cy="10.73" r="3.03" fill="url(#sh)"/>
<circle cx="83.6" cy="28.89" r="3.35" fill="url(#sh)"/>
<circle cx="85.41" cy="4.18" r="1.22" fill="url(#sh)"/>
<circle cx="75.12" cy="20.87" r="2.86" fill="url(#sh)"/>
<circle cx="64.23" cy="29.58" r="1.91" fill="url(#sh)"/>
<circle cx="77.53" cy="12.85" r="2.46" fill="url(#sh)"/>
<circle cx="78.72" cy="14.2" r="2.8" fill="url(#sh)"/>
<circle cx="74.67" cy="20.78" r="2.76" fill="url(#sh)"/>
<circle cx="72.68" cy="19.43" r="2.38" fill="url(#sh)"/>
<circle cx="78" cy="7.54" r="2.29" fill="url(#sh)"/>
<circle cx="68.38" cy="20.67" r="2.39" fill="url(#sh)"/>
<circle cx="86.54" cy="26.43" r="2.23" fill="url(#sh)"/>
<circle cx="84.56" cy="22.02" r="2.99" fill="url(#sh)"/>
<circle cx="80.64" cy="24.74" r="2.59" fill="url(#sh)"/>
<circle cx="74.8" cy="13.77" r="3.75" fill="url(#sh)"/>
<circle cx="73.58" cy="18.04" r="2.66" fill="url(#sh)"/>
<circle cx="88.17" cy="6.91" r="2.64" fill="url(#sh)"/>
<circle cx="78.6" cy="12.53" r="2.23" fill="url(#sh)"/>
<circle cx="91.24" cy="25.79" r="3.14" fill="url(#sh)"/>
<circle cx="80.93" cy="27.05" r="2.46" fill="url(#sh)"/>
<circle cx="89.1" cy="7.88" r="2.43" fill="url(#sh)"/>
<circle cx="93.37" cy="27.33" r="2.1" fill="url(#sh)"/>
<circle cx="73.44" cy="29.52" r="2.42" fill="url(#sh)"/>
<circle cx="75.62" cy="26.74" r="2.98" fill="url(#sh)"/>
<circle cx="81.16" cy="38.39" r="2.68" fill="url(#sh)"/>
<circle cx="75.82" cy="37.85" r="3.71" fill="url(#sh)"/>
<circle cx="92.02" cy="23.32" r="3.8" fill="url(#sh)"/>
<circle cx="80.81" cy="14.85" r="2.9" fill="url(#sh)"/>
<circle cx="85.47" cy="39.65" r="2.64" fill="url(#sh)"/>
<circle cx="89.06" cy="30.83" r="2.01" fill="url(#sh)"/>
<circle cx="86.99" cy="32.78" r="2.3" fill="url(#sh)"/>
<circle cx="77.17" cy="12.61" r="2.45" fill="url(#sh)"/>
<circle cx="69.57" cy="28.58" r="3.58" fill="url(#sh)"/>
<circle cx="86.96" cy="40.64" r="2.27" fill="url(#sh)"/>
<circle cx="84.04" cy="36.66" r="3.5" fill="url(#sh)"/>
<circle cx="86.01" cy="31.08" r="2.97" fill="url(#sh)"/>
<circle cx="83.5" cy="41.8" r="3.03" fill="url(#sh)"/>
<circle cx="64.41" cy="39.79" r="3.65" fill="url(#sh)"/>
<circle cx="88.1" cy="31.01" r="2.88" fill="url(#sh)"/>
<circle cx="84.59" cy="23.51" r="2.04" fill="url(#sh)"/>
<circle cx="104.94" cy="46.4" r="1.58" fill="url(#sh)"/>
<circle cx="77.04" cy="7.49" r="2.26" fill="url(#sh)"/>
<circle cx="89.25" cy="33.47" r="3.6" fill="url(#sh)"/>
<circle cx="90.67" cy="29.21" r="2.72" fill="url(#sh)"/>
<circle cx="61.38" cy="36.45" r="2.2" fill="url(#sh)"/>
<circle cx="82.6" cy="20.29" r="3" fill="url(#sh)"/>
<circle cx="89.71" cy="6.41" r="2.92" fill="url(#sh)"/>
<circle cx="76.59" cy="45.44" r="2.83" fill="url(#sh)"/>
<circle cx="81.9" cy="16.95" r="3.58" fill="url(#sh)"/>
<circle cx="68.61" cy="26.24" r="2.56" fill="url(#sh)"/>
<circle cx="89.98" cy="30.87" r="2.35" fill="url(#sh)"/>
<circle cx="77.89" cy="44.2" r="3.51" fill="url(#sh)"/>
<circle cx="82.38" cy="10.88" r="2.3" fill="url(#sh)"/>
<circle cx="64.29" cy="47.86" r="1.92" fill="url(#sh)"/>
<circle cx="88.26" cy="44.23" r="3.79" fill="url(#sh)"/>
<circle cx="97.61" cy="43.3" r="3.63" fill="url(#sh)"/>
<circle cx="85.25" cy="38.22" r="3.39" fill="url(#sh)"/>
<circle cx="73.05" cy="39.75" r="3.33" fill="url(#sh)"/>
<circle cx="95.41" cy="48.15" r="2.73" fill="url(#sh)"/>
<circle cx="88.3" cy="9.05" r="3.44" fill="url(#sh)"/>
<circle cx="91.14" cy="29.02" r="2.53" fill="url(#sh)"/>
<circle cx="66.04" cy="42.46" r="2.19" fill="url(#sh)"/>
<circle cx="84.76" cy="44.55" r="2.38" fill="url(#sh)"/>
<circle cx="75.15" cy="48.44" r="2.09" fill="url(#sh)"/>
<circle cx="90.06" cy="35.32" r="2.6" fill="url(#sh)"/>
<circle cx="87.34" cy="11.31" r="3.63" fill="url(#sh)"/>
<circle cx="73.93" cy="44.97" r="2.45" fill="url(#sh)"/>
<circle cx="93.66" cy="34.37" r="3.47" fill="url(#sh)"/>
<circle cx="64.2" cy="42.58" r="2.76" fill="url(#sh)"/>
<circle cx="86.89" cy="26.09" r="3.57" fill="url(#sh)"/>
<circle cx="78.47" cy="26.08" r="3.35" fill="url(#sh)"/>
<circle cx="104.51" cy="48.06" r="2.48" fill="url(#sh)"/>
<circle cx="83.32" cy="49.04" r="2.64" fill="url(#sh)"/>
<circle cx="86.29" cy="34.82" r="2.83" fill="url(#sh)"/>
<circle cx="70.98" cy="34.25" r="2.89" fill="url(#sh)"/>
<circle cx="79.56" cy="53.34" r="3.33" fill="url(#sh)"/>
<circle cx="82.75" cy="35.7" r="2.99" fill="url(#sh)"/>
<circle cx="76.72" cy="36.85" r="2.04" fill="url(#sh)"/>
<circle cx="84.92" cy="39.29" r="2.3" fill="url(#sh)"/>
<circle cx="73.48" cy="22.71" r="2.86" fill="url(#sh)"/>
<circle cx="81.88" cy="43.13" r="3.63" fill="url(#sh)"/>
<circle cx="68.14" cy="21.37" r="2.13" fill="url(#sh)"/>
<circle cx="95.66" cy="54.22" r="3.47" fill="url(#sh)"/>
<circle cx="89.05" cy="16.88" r="2.77" fill="url(#sh)"/>
<circle cx="77.8" cy="47.1" r="3.41" fill="url(#sh)"/>
<circle cx="77.17" cy="15.58" r="3.64" fill="url(#sh)"/>
<circle cx="98.6" cy="51.67" r="2.98" fill="url(#sh)"/>
<circle cx="90.47" cy="28.43" r="2.29" fill="url(#sh)"/>
<circle cx="67.42" cy="58.04" r="2.15" fill="url(#sh)"/>
<circle cx="83.41" cy="39.36" r="3.4" fill="url(#sh)"/>
<circle cx="76.51" cy="41.26" r="2.81" fill="url(#sh)"/>
<circle cx="99.75" cy="53.27" r="3.24" fill="url(#sh)"/>
<circle cx="64.16" cy="39.85" r="2.92" fill="url(#sh)"/>
<circle cx="68.44" cy="44.87" r="3.55" fill="url(#sh)"/>
<circle cx="89.43" cy="41.99" r="3.52" fill="url(#sh)"/>
<circle cx="66.97" cy="43.6" r="3.52" fill="url(#sh)"/>
<circle cx="88.37" cy="41.8" r="3.47" fill="url(#sh)"/>
<circle cx="103.14" cy="53.46" r="3.34" fill="url(#sh)"/>
<circle cx="90.39" cy="15" r="3.42" fill="url(#sh)"/>
<circle cx="70.07" cy="51.38" r="2.78" fill="url(#sh)"/>
<circle cx="84.01" cy="24.6" r="2.72" fill="url(#sh)"/>
<circle cx="100.82" cy="54.78" r="3.35" fill="url(#sh)"/>
<circle cx="91.42" cy="45.71" r="2.44" fill="url(#sh)"/>
<circle cx="83.07" cy="7.88" r="2.37" fill="url(#sh)"/>
<circle cx="76.54" cy="56.26" r="3.02" fill="url(#sh)"/>
<circle cx="80.41" cy="33.02" r="2.34" fill="url(#sh)"/>
<circle cx="87.77" cy="25.83" r="3.71" fill="url(#sh)"/>
<circle cx="88.47" cy="14.69" r="2.49" fill="url(#sh)"/>
<circle cx="73.6" cy="41.69" r="2.79" fill="url(#sh)"/>
<circle cx="69.79" cy="26.26" r="3.78" fill="url(#sh)"/>
<circle cx="96.94" cy="41.97" r="3.7" fill="url(#sh)"/>
<circle cx="90.28" cy="48.57" r="3.3" fill="url(#sh)"/>
<circle cx="78" cy="45.24" r="2.8" fill="url(#sh)"/>
<circle cx="83.6" cy="63.06" r="2.1" fill="url(#sh)"/>
<circle cx="76.1" cy="38.97" r="2.64" fill="url(#sh)"/>
<circle cx="74.01" cy="53.7" r="2.74" fill="url(#sh)"/>
<circle cx="76.35" cy="61.39" r="3.72" fill="url(#sh)"/>
<circle cx="69.88" cy="56.6" r="2.21" fill="url(#sh)"/>
<circle cx="80.56" cy="33.38" r="2.73" fill="url(#sh)"/>
<circle cx="76.76" cy="28" r="2.71" fill="url(#sh)"/>
<circle cx="86.02" cy="36.36" r="2.08" fill="url(#sh)"/>
<circle cx="72.7" cy="16.62" r="2.63" fill="url(#sh)"/>
<circle cx="78.58" cy="32.6" r="2.03" fill="url(#sh)"/>
<circle cx="103.97" cy="60.29" r="3.47" fill="url(#sh)"/>
<circle cx="95.68" cy="41.41" r="2.45" fill="url(#sh)"/>
<circle cx="72.11" cy="56.44" r="2.19" fill="url(#sh)"/>
<circle cx="91.68" cy="23.69" r="2.99" fill="url(#sh)"/>
<circle cx="103.09" cy="52.05" r="2.89" fill="url(#sh)"/>
<circle cx="87.76" cy="14.45" r="3.31" fill="url(#sh)"/>
<circle cx="89.43" cy="13.53" r="3.5" fill="url(#sh)"/>
<circle cx="94.33" cy="24.81" r="1.53" fill="url(#sh)"/>
<circle cx="66.11" cy="38.78" r="3.03" fill="url(#sh)"/>
<circle cx="69.75" cy="23.91" r="2.99" fill="url(#sh)"/>
<circle cx="66.85" cy="45.23" r="3.53" fill="url(#sh)"/>
<circle cx="80.47" cy="34.65" r="2.33" fill="url(#sh)"/>
<circle cx="73.12" cy="62.6" r="2.72" fill="url(#sh)"/>
<circle cx="91.25" cy="46.62" r="3.22" fill="url(#sh)"/>
<circle cx="74.15" cy="59.56" r="3.49" fill="url(#sh)"/>
<circle cx="88.62" cy="36.81" r="2.73" fill="url(#sh)"/>
<circle cx="70.12" cy="23.15" r="2.98" fill="url(#sh)"/>
<circle cx="80.17" cy="60.7" r="2.78" fill="url(#sh)"/>
<circle cx="101.76" cy="63.57" r="2.41" fill="url(#sh)"/>
<circle cx="75.21" cy="45.75" r="2.81" fill="url(#sh)"/>
<circle cx="81.18" cy="66.3" r="3.37" fill="url(#sh)"/>
<circle cx="88.23" cy="29.2" r="2.92" fill="url(#sh)"/>
<circle cx="86.9" cy="61.25" r="2.01" fill="url(#sh)"/>
<circle cx="71.98" cy="58.69" r="3.68" fill="url(#sh)"/>
<circle cx="78.46" cy="60.76" r="3.15" fill="url(#sh)"/>
<circle cx="69.16" cy="34.31" r="2.04" fill="url(#sh)"/>
<circle cx="80.92" cy="30.71" r="2.36" fill="url(#sh)"/>
<circle cx="89.78" cy="38.83" r="2.86" fill="url(#sh)"/>
<circle cx="70.25" cy="17.56" r="2.16" fill="url(#sh)"/>
<circle cx="74.21" cy="32.63" r="3.07" fill="url(#sh)"/>
<circle cx="95.6" cy="49.15" r="3.69" fill="url(#sh)"/>
<circle cx="78.69" cy="49.93" r="3.02" fill="url(#sh)"/>
<circle cx="83.17" cy="29.78" r="2.53" fill="url(#sh)"/>
<circle cx="92.51" cy="66.42" r="3.49" fill="url(#sh)"/>
<circle cx="79.51" cy="42.66" r="3.57" fill="url(#sh)"/>
<circle cx="87.36" cy="28.33" r="2.49" fill="url(#sh)"/>
<circle cx="99.38" cy="54.59" r="2.55" fill="url(#sh)"/>
<circle cx="111.31" cy="63.38" r="2.27" fill="url(#sh)"/>
<circle cx="80.04" cy="49.97" r="3.32" fill="url(#sh)"/>
<circle cx="87.48" cy="17.66" r="3.09" fill="url(#sh)"/>
<circle cx="110.75" cy="60.14" r="3.01" fill="url(#sh)"/>
<circle cx="89.28" cy="24.78" r="2.44" fill="url(#sh)"/>
<circle cx="93.61" cy="24.84" r="1.8" fill="url(#sh)"/>
<circle cx="67.49" cy="26.06" r="2.39" fill="url(#sh)"/>
<circle cx="76.07" cy="8.77" r="2.89" fill="url(#sh)"/>
<circle cx="71.17" cy="61.3" r="2.39" fill="url(#sh)"/>
<circle cx="76.11" cy="39.53" r="3.62" fill="url(#sh)"/>
<circle cx="90.28" cy="12.32" r="2.12" fill="url(#sh)"/>
<circle cx="87.2" cy="45.2" r="2.06" fill="url(#sh)"/>
<circle cx="101.28" cy="56.3" r="2.55" fill="url(#sh)"/>
<circle cx="72.43" cy="63.97" r="2.59" fill="url(#sh)"/>
<circle cx="70.78" cy="19.97" r="2.36" fill="url(#sh)"/>
<circle cx="82.98" cy="69.72" r="2.39" fill="url(#sh)"/>
<circle cx="76.41" cy="33.8" r="3.37" fill="url(#sh)"/>
<circle cx="88.67" cy="28.56" r="2.01" fill="url(#sh)"/>
<circle cx="85.81" cy="32.63" r="2.13" fill="url(#sh)"/>
<circle cx="106.47" cy="49.34" r="2.71" fill="url(#sh)"/>
<circle cx="64.39" cy="31.28" r="2.89" fill="url(#sh)"/>
<circle cx="67.72" cy="26.1" r="2.23" fill="url(#sh)"/>
<circle cx="83.05" cy="57.77" r="2" fill="url(#sh)"/>
<circle cx="87.26" cy="45" r="2.99" fill="url(#sh)"/>
<circle cx="85.14" cy="29.34" r="3.77" fill="url(#sh)"/>
<circle cx="70.35" cy="22.59" r="2.86" fill="url(#sh)"/>
<circle cx="86.64" cy="35.09" r="3.17" fill="url(#sh)"/>
<circle cx="94.82" cy="51.19" r="3.66" fill="url(#sh)"/>
<circle cx="86.97" cy="65.59" r="3.35" fill="url(#sh)"/>
<circle cx="87.72" cy="37.81" r="2.73" fill="url(#sh)"/>
<circle cx="77.56" cy="29.21" r="2.99" fill="url(#sh)"/>
<circle cx="62.44" cy="42.46" r="2.13" fill="url(#sh)"/>
<circle cx="87.66" cy="25.52" r="3.09" fill="url(#sh)"/>
<circle cx="68.86" cy="32.31" r="3.31" fill="url(#sh)"/>
<circle cx="80.22" cy="44.57" r="3.65" fill="url(#sh)"/>
<circle cx="90.13" cy="60.4" r="2.12" fill="url(#sh)"/>
<circle cx="71.07" cy="49.52" r="2.71" fill="url(#sh)"/>
<circle cx="97.33" cy="45.35" r="2.23" fill="url(#sh)"/>
<circle cx="73.73" cy="46.7" r="2.42" fill="url(#sh)"/>
<circle cx="95.06" cy="37.84" r="2.61" fill="url(#sh)"/>
<circle cx="80.13" cy="23.21" r="3.19" fill="url(#sh)"/>
<circle cx="88.51" cy="17.68" r="2.52" fill="url(#sh)"/>
<circle cx="92.98" cy="21.49" r="2.95" fill="url(#sh)"/>
<circle cx="81.97" cy="22.78" r="3.25" fill="url(#sh)"/>
<circle cx="84.48" cy="47.98" r="2.24" fill="url(#sh)"/>
<circle cx="67.28" cy="29.35" r="2.94" fill="url(#sh)"/>
<circle cx="88.09" cy="32.7" r="3.6" fill="url(#sh)"/>
<circle cx="81.24" cy="46.9" r="2.42" fill="url(#sh)"/>
<circle cx="84.7" cy="63.01" r="2.74" fill="url(#sh)"/>
<circle cx="93.17" cy="51.65" r="3.56" fill="url(#sh)"/>
<circle cx="88.49" cy="43.42" r="2.96" fill="url(#sh)"/>
<circle cx="69.73" cy="39.09" r="2.87" fill="url(#sh)"/>
<circle cx="79.36" cy="63.95" r="3.28" fill="url(#sh)"/>
<circle cx="78.71" cy="27.59" r="2.97" fill="url(#sh)"/>
<circle cx="81.35" cy="28.58" r="2.09" fill="url(#sh)"/>
<circle cx="74.19" cy="65.21" r="2.05" fill="url(#sh)"/>
<circle cx="96.04" cy="53.28" r="2.8" fill="url(#sh)"/>
<circle cx="87.41" cy="29.9" r="2.62" fill="url(#sh)"/>
<circle cx="89.74" cy="41.25" r="2.62" fill="url(#sh)"/>
<circle cx="90.94" cy="30.29" r="2.51" fill="url(#sh)"/>
<circle cx="82.67" cy="20.23" r="3.49" fill="url(#sh)"/>
<circle cx="90.92" cy="14.93" r="3.56" fill="url(#sh)"/>
<circle cx="83.02" cy="65.68" r="3.05" fill="url(#sh)"/>
<circle cx="84.86" cy="60.2" r="2.67" fill="url(#sh)"/>
<circle cx="69.26" cy="28.31" r="3.73" fill="url(#sh)"/>
<circle cx="71.63" cy="19.24" r="2.39" fill="url(#sh)"/>
<circle cx="76.38" cy="37.33" r="2.07" fill="url(#sh)"/>
<circle cx="98.13" cy="47.87" r="2.69" fill="url(#sh)"/>
<circle cx="83.71" cy="53.21" r="3.67" fill="url(#sh)"/>
<circle cx="73.27" cy="48.33" r="2.95" fill="url(#sh)"/>
<circle cx="73.43" cy="53.83" r="3.57" fill="url(#sh)"/>
<circle cx="86.36" cy="29.42" r="2.71" fill="url(#sh)"/>
<circle cx="110.72" cy="63.75" r="3.23" fill="url(#sh)"/>
<circle cx="85.22" cy="27.03" r="3.09" fill="url(#sh)"/>
<circle cx="84.04" cy="30.76" r="3.64" fill="url(#sh)"/>
<circle cx="73.55" cy="16.73" r="2.1" fill="url(#sh)"/>
<circle cx="94.99" cy="37.22" r="3.76" fill="url(#sh)"/>
<circle cx="82.35" cy="40.66" r="2.83" fill="url(#sh)"/>
<circle cx="89.36" cy="43.97" r="2.99" fill="url(#sh)"/>
<circle cx="70.69" cy="33.1" r="2.05" fill="url(#sh)"/>
<circle cx="98.3" cy="48.53" r="2.93" fill="url(#sh)"/>
<circle cx="97.81" cy="72.06" r="1.86" fill="url(#sh)"/>
<circle cx="62.54" cy="32.96" r="3.26" fill="url(#sh)"/>
<circle cx="72.78" cy="37.28" r="3.71" fill="url(#sh)"/>
<circle cx="97.4" cy="59.85" r="3.46" fill="url(#sh)"/>
<circle cx="86.95" cy="49.54" r="2.79" fill="url(#sh)"/>
<circle cx="78.28" cy="22.74" r="2.84" fill="url(#sh)"/>
<circle cx="88.18" cy="43.61" r="3.57" fill="url(#sh)"/>
<circle cx="86.62" cy="37.21" r="2.41" fill="url(#sh)"/>
<circle cx="111.05" cy="60.6" r="2.24" fill="url(#sh)"/>
<circle cx="81.13" cy="54.95" r="3.5" fill="url(#sh)"/>
<circle cx="92.85" cy="71.69" r="3.6" fill="url(#sh)"/>
<circle cx="75.64" cy="44.64" r="2.56" fill="url(#sh)"/>
<circle cx="102.87" cy="45.9" r="2.76" fill="url(#sh)"/>
<circle cx="108.79" cy="60.23" r="3.05" fill="url(#sh)"/>
<circle cx="77.76" cy="23.61" r="3.56" fill="url(#sh)"/>
<circle cx="69.83" cy="57.84" r="2.68" fill="url(#sh)"/>
<circle cx="93.07" cy="47.27" r="3.13" fill="url(#sh)"/>
<circle cx="70.25" cy="36.1" r="2.52" fill="url(#sh)"/>
<circle cx="104.74" cy="67.13" r="1.54" fill="url(#sh)"/>
<circle cx="101.19" cy="66.8" r="2.07" fill="url(#sh)"/>
<circle cx="92.25" cy="68.44" r="3.79" fill="url(#sh)"/>
<circle cx="86.37" cy="64.54" r="3.38" fill="url(#sh)"/>
<circle cx="76.42" cy="63.92" r="3.61" fill="url(#sh)"/>
<circle cx="77.18" cy="27.05" r="3.41" fill="url(#sh)"/>
<circle cx="102.12" cy="50.87" r="3.44" fill="url(#sh)"/>
<circle cx="103.13" cy="61.99" r="3.6" fill="url(#sh)"/>
<circle cx="87.06" cy="64.51" r="3.74" fill="url(#sh)"/>
<circle cx="106.05" cy="53.34" r="2.96" fill="url(#sh)"/>
<circle cx="89.27" cy="64.22" r="2.82" fill="url(#sh)"/>
<circle cx="86.78" cy="51.46" r="2.06" fill="url(#sh)"/>
<circle cx="76.95" cy="52.53" r="3.16" fill="url(#sh)"/>
<circle cx="84.4" cy="28.01" r="2.71" fill="url(#sh)"/>
<circle cx="70.58" cy="57.58" r="2.61" fill="url(#sh)"/>
<circle cx="104.39" cy="46.54" r="2.47" fill="url(#sh)"/>
<circle cx="94.19" cy="46.41" r="3.5" fill="url(#sh)"/>
<circle cx="66.98" cy="29.65" r="2.58" fill="url(#sh)"/>
<circle cx="98.56" cy="61.58" r="3.74" fill="url(#sh)"/>
<circle cx="72.23" cy="31.11" r="2.38" fill="url(#sh)"/>
<circle cx="82.56" cy="50.52" r="3.28" fill="url(#sh)"/>
<circle cx="105.78" cy="51.1" r="2.55" fill="url(#sh)"/>
<circle cx="86.16" cy="34.79" r="3.33" fill="url(#sh)"/>
<circle cx="80.94" cy="35.07" r="3.5" fill="url(#sh)"/>
<circle cx="65.74" cy="45.04" r="2.22" fill="url(#sh)"/>
<circle cx="80.28" cy="55.61" r="2.56" fill="url(#sh)"/>
<circle cx="83.67" cy="68.7" r="3.31" fill="url(#sh)"/>
<circle cx="69.17" cy="39.46" r="2.94" fill="url(#sh)"/>
<circle cx="95.11" cy="31.69" r="1.7" fill="url(#sh)"/>
<circle cx="82.8" cy="42.37" r="3.6" fill="url(#sh)"/>
<circle cx="74.93" cy="59.93" r="2.89" fill="url(#sh)"/>
<circle cx="87.34" cy="65.6" r="3.54" fill="url(#sh)"/>
<circle cx="98.01" cy="41.27" r="2.1" fill="url(#sh)"/>
<circle cx="70.49" cy="51.4" r="3.51" fill="url(#sh)"/>
<circle cx="66.05" cy="29.24" r="3.6" fill="url(#sh)"/>
<circle cx="65.63" cy="31.15" r="3.27" fill="url(#sh)"/>
<circle cx="86.48" cy="56.57" r="3.15" fill="url(#sh)"/>
<circle cx="98.98" cy="70.39" r="2.76" fill="url(#sh)"/>
<circle cx="109.6" cy="62.79" r="2.52" fill="url(#sh)"/>
<circle cx="69.82" cy="56.64" r="3.39" fill="url(#sh)"/>
<circle cx="67.91" cy="43.59" r="3.57" fill="url(#sh)"/>
<circle cx="100.85" cy="66.24" r="2" fill="url(#sh)"/>
<circle cx="80.4" cy="68.14" r="2.36" fill="url(#sh)"/>
<circle cx="103.95" cy="55.12" r="3.47" fill="url(#sh)"/>
<circle cx="78.62" cy="50.12" r="2.04" fill="url(#sh)"/>
<circle cx="73.73" cy="50.85" r="3.44" fill="url(#sh)"/>
<circle cx="92.69" cy="40.09" r="2.04" fill="url(#sh)"/>
<circle cx="90.41" cy="33.39" r="2.1" fill="url(#sh)"/>
<circle cx="94.92" cy="57.71" r="2.39" fill="url(#sh)"/>
<circle cx="91.78" cy="39.7" r="2.77" fill="url(#sh)"/>
<circle cx="96.95" cy="40.52" r="3.01" fill="url(#sh)"/>
<circle cx="92" cy="59.55" r="3.57" fill="url(#sh)"/>
<circle cx="75.92" cy="51.97" r="2.28" fill="url(#sh)"/>
<circle cx="68.68" cy="52.12" r="2.53" fill="url(#sh)"/>
<circle cx="90.46" cy="56.3" r="2.3" fill="url(#sh)"/>
<circle cx="98.72" cy="63.67" r="2.05" fill="url(#sh)"/>
<circle cx="94.59" cy="63.92" r="2.8" fill="url(#sh)"/>
<circle cx="108.77" cy="52.32" r="2.87" fill="url(#sh)"/>
<circle cx="60.74" cy="33.14" r="1.68" fill="url(#sh)"/>
<circle cx="68.2" cy="42.29" r="3.27" fill="url(#sh)"/>
<circle cx="76.14" cy="52.71" r="3.53" fill="url(#sh)"/>
<circle cx="62.39" cy="39.6" r="3.58" fill="url(#sh)"/>
<circle cx="107.18" cy="64.28" r="2.1" fill="url(#sh)"/>
<circle cx="77.55" cy="35.57" r="2.21" fill="url(#sh)"/>
<circle cx="75.83" cy="64.74" r="2.56" fill="url(#sh)"/>
<circle cx="102.34" cy="51.89" r="2.07" fill="url(#sh)"/>
<circle cx="87.31" cy="43.82" r="3.26" fill="url(#sh)"/>
<circle cx="110.19" cy="63.45" r="3.34" fill="url(#sh)"/>
<circle cx="80.59" cy="50.98" r="2.53" fill="url(#sh)"/>
<circle cx="106.44" cy="64" r="2.6" fill="url(#sh)"/>
<circle cx="97.22" cy="44.24" r="3.54" fill="url(#sh)"/>
<circle cx="89.08" cy="41.37" r="2.57" fill="url(#sh)"/>
<circle cx="91.95" cy="50.61" r="3.57" fill="url(#sh)"/>
<circle cx="94.29" cy="48.45" r="3.69" fill="url(#sh)"/>
<circle cx="75.09" cy="67.3" r="1.35" fill="url(#sh)"/>
<circle cx="93.96" cy="46.9" r="2.82" fill="url(#sh)"/>
<circle cx="84.27" cy="66.1" r="2.19" fill="url(#sh)"/>
<circle cx="82.71" cy="45.18" r="2.57" fill="url(#sh)"/>
<circle cx="97.66" cy="50.48" r="2.47" fill="url(#sh)"/>
<circle cx="82.13" cy="43.87" r="2.11" fill="url(#sh)"/>
<circle cx="85.87" cy="46.98" r="2.48" fill="url(#sh)"/>
<circle cx="65.71" cy="43.06" r="2.82" fill="url(#sh)"/>
<circle cx="72.9" cy="63.53" r="3.21" fill="url(#sh)"/>
<circle cx="95.86" cy="59.38" r="2.83" fill="url(#sh)"/>
<circle cx="102.95" cy="47.6" r="3.32" fill="url(#sh)"/>
<circle cx="112.03" cy="56.43" r="1.65" fill="url(#sh)"/>
<circle cx="95.73" cy="39.44" r="3.78" fill="url(#sh)"/>
<circle cx="100.89" cy="52.29" r="3.52" fill="url(#sh)"/>
<circle cx="100.15" cy="64.31" r="2.12" fill="url(#sh)"/>
<circle cx="76.05" cy="46.33" r="2.08" fill="url(#sh)"/>
<circle cx="103.69" cy="50.7" r="2.21" fill="url(#sh)"/>
<circle cx="88.78" cy="46.65" r="2.27" fill="url(#sh)"/>
<circle cx="95.76" cy="60.65" r="3.48" fill="url(#sh)"/>
<circle cx="83.78" cy="54.81" r="2.41" fill="url(#sh)"/>
<circle cx="86.47" cy="67.39" r="2.98" fill="url(#sh)"/>
<circle cx="91.12" cy="47.35" r="2.13" fill="url(#sh)"/>
<circle cx="94.55" cy="55.87" r="3.64" fill="url(#sh)"/>
<circle cx="79.92" cy="43.88" r="2.4" fill="url(#sh)"/>
<circle cx="103.68" cy="64.69" r="3.42" fill="url(#sh)"/>
<circle cx="100.28" cy="67.6" r="3.35" fill="url(#sh)"/>
<circle cx="97.29" cy="54.49" r="2.63" fill="url(#sh)"/>
<circle cx="97.64" cy="50.52" r="2.55" fill="url(#sh)"/>
<circle cx="106.96" cy="49.13" r="2.31" fill="url(#sh)"/>
<circle cx="94.76" cy="44.75" r="2.87" fill="url(#sh)"/>
<circle cx="69.71" cy="43.65" r="3.59" fill="url(#sh)"/>
<circle cx="91.91" cy="66.48" r="3.52" fill="url(#sh)"/>
<circle cx="90.88" cy="57.44" r="2.09" fill="url(#sh)"/>
<circle cx="90.38" cy="45.89" r="3.73" fill="url(#sh)"/>
<circle cx="103.92" cy="66.7" r="1.77" fill="url(#sh)"/>
<circle cx="93.41" cy="72.46" r="2.38" fill="url(#sh)"/>
<circle cx="89.17" cy="64.87" r="2.42" fill="url(#sh)"/>
<circle cx="95.9" cy="69.62" r="3.74" fill="url(#sh)"/>
<circle cx="78.3" cy="46.39" r="3.01" fill="url(#sh)"/>
<circle cx="65.12" cy="46.05" r="2.73" fill="url(#sh)"/>
<circle cx="72.15" cy="51.77" r="2.49" fill="url(#sh)"/>
<circle cx="87.35" cy="68.12" r="2.21" fill="url(#sh)"/>
<circle cx="103.02" cy="47.96" r="3.2" fill="url(#sh)"/>
<circle cx="72.18" cy="60.31" r="2.75" fill="url(#sh)"/>
<circle cx="81.29" cy="52.45" r="3.09" fill="url(#sh)"/>
<circle cx="90.75" cy="72.81" r="2.31" fill="url(#sh)"/>
<circle cx="68.01" cy="47.13" r="3.72" fill="url(#sh)"/>
<circle cx="112.79" cy="61.34" r="2.4" fill="url(#sh)"/>
<circle cx="87.49" cy="56.49" r="2.76" fill="url(#sh)"/>
<circle cx="84.47" cy="67.16" r="2.42" fill="url(#sh)"/>
<circle cx="97.57" cy="55.53" r="2.43" fill="url(#sh)"/>
<circle cx="92.16" cy="59.59" r="2.51" fill="url(#sh)"/>
<circle cx="87.31" cy="71.09" r="1.95" fill="url(#sh)"/>
<circle cx="87.69" cy="71.55" r="1.82" fill="url(#sh)"/>
<circle cx="99.66" cy="52.13" r="2.05" fill="url(#sh)"/>
<circle cx="98.79" cy="61.9" r="2.69" fill="url(#sh)"/>
<circle cx="81.48" cy="51.73" r="3.12" fill="url(#sh)"/>
<circle cx="84.28" cy="65.89" r="3.19" fill="url(#sh)"/>
<circle cx="103.06" cy="63.85" r="3.38" fill="url(#sh)"/>
<circle cx="80.82" cy="67.63" r="3.14" fill="url(#sh)"/>
<circle cx="92.31" cy="64.58" r="3.61" fill="url(#sh)"/>
<circle cx="89.12" cy="53.46" r="3.01" fill="url(#sh)"/>
<circle cx="100.66" cy="61.16" r="2.93" fill="url(#sh)"/>
<circle cx="86.98" cy="60.14" r="2.14" fill="url(#sh)"/>
<circle cx="70.48" cy="57.54" r="3.08" fill="url(#sh)"/>
<circle cx="83.98" cy="64.33" r="2.07" fill="url(#sh)"/>
<circle cx="72.32" cy="61.1" r="2.43" fill="url(#sh)"/>
<circle cx="89.16" cy="68.01" r="2.98" fill="url(#sh)"/>
<circle cx="107.84" cy="59.64" r="3.49" fill="url(#sh)"/>
<circle cx="84.52" cy="62.97" r="2.32" fill="url(#sh)"/>
<circle cx="85.74" cy="68.68" r="3.67" fill="url(#sh)"/>
<circle cx="93.51" cy="65.18" r="2.7" fill="url(#sh)"/>
<circle cx="89.27" cy="70.59" r="2.69" fill="url(#sh)"/>
<circle cx="96.61" cy="67.66" r="3.67" fill="url(#sh)"/>
</g></g>
<g filter="url(#bl)"><g>
<polygon points="170.07,11.17 176.1,10.15 182.22,8.66 190.32,6.99 198.42,6.99 201.39,11.17 202.02,19.54 204.45,27.91 206.43,36.28 205.44,44.65 202.38,50.89 200.4,57.12 197.34,63.44 192.3,69.67 188.25,74.88 182.22,74.88 177.09,71.81 173.13,67.63 169.08,63.44 170.07,57.12 172.05,50.89 169.08,44.65 165.03,38.33 162.96,32.1 163.95,23.73 166.02,17.41" fill="#ea1414"/>
<circle cx="193.47" cy="6.72" r="2.01" fill="#e4e3e3"/>
<circle cx="195.09" cy="8.24" r="2.59" fill="#aab2f0"/>
<circle cx="188.3" cy="15.07" r="2.79" fill="#dc6e6e"/>
<circle cx="190.62" cy="6.54" r="1.53" fill="#e5e3e3"/>
<circle cx="168.67" cy="17.8" r="3.21" fill="#dc1313"/>
<circle cx="188.67" cy="16.06" r="2.78" fill="#eb2121"/>
<circle cx="183.01" cy="18.96" r="2.07" fill="#eab4b4"/>
<circle cx="170.36" cy="18.69" r="3.04" fill="#e2aeae"/>
<circle cx="197.78" cy="6.24" r="1.65" fill="#f2f0f0"/>
<circle cx="167.11" cy="16.37" r="2.69" fill="#ea1414"/>
<circle cx="171.55" cy="14.71" r="3.73" fill="#eeb7b7"/>
<circle cx="202.64" cy="18.95" r="1.54" fill="#dd1313"/>
<circle cx="176.77" cy="11.09" r="2.34" fill="#e77979"/>
<circle cx="168.84" cy="17.18" r="3.11" fill="#f1bdbd"/>
<circle cx="172.64" cy="12.2" r="2.89" fill="#eb2222"/>
<circle cx="176.47" cy="22.3" r="3.49" fill="#e17070"/>
<circle cx="167.02" cy="24.63" r="3.15" fill="#c00606"/>
<circle cx="168.07" cy="24.09" r="2.48" fill="#eb1d1d"/>
<circle cx="190.96" cy="9.41" r="2.45" fill="#f2f0f0"/>
<circle cx="190.09" cy="25.64" r="3.77" fill="#eb1e1e"/>
<circle cx="200.84" cy="23.61" r="2.05" fill="#ebb5b5"/>
<circle cx="185.83" cy="12.27" r="2.71" fill="#e77a7a"/>
<circle cx="163.08" cy="24.04" r="1.3" fill="#e41313"/>
<circle cx="201.85" cy="22.37" r="2.38" fill="#e31313"/>
<circle cx="175.01" cy="20.38" r="3.66" fill="#dd6f6f"/>
<circle cx="193.18" cy="8.43" r="3.27" fill="#adb5f1"/>
<circle cx="163.87" cy="21.53" r="1.41" fill="#eb2222"/>
<circle cx="169.35" cy="11.35" r="2.07" fill="#e51414"/>
<circle cx="198.22" cy="18.88" r="2.33" fill="#f2f0f0"/>
<circle cx="199" cy="32.25" r="2.56" fill="#e07070"/>
<circle cx="180.34" cy="12.62" r="3.3" fill="#eab4b4"/>
<circle cx="167.05" cy="19.83" r="3.27" fill="#c90b0b"/>
<circle cx="168.19" cy="17.91" r="3.24" fill="#e77676"/>
<circle cx="165.23" cy="30.49" r="3.8" fill="#eb1f1f"/>
<circle cx="177.2" cy="33.36" r="3.08" fill="#eb2020"/>
<circle cx="171.38" cy="24.09" r="2.97" fill="#ea1919"/>
<circle cx="191.11" cy="20.36" r="2.25" fill="#eb2222"/>
<circle cx="181.95" cy="25.82" r="3.61" fill="#cb1313"/>
<circle cx="200.34" cy="23.21" r="2.88" fill="#edebeb"/>
<circle cx="181.22" cy="21.81" r="3.6" fill="#ecb6b6"/>
<circle cx="174.13" cy="17.69" r="3.36" fill="#e51414"/>
<circle cx="176.78" cy="23.99" r="2.91" fill="#df1313"/>
<circle cx="201.02" cy="26.34" r="2.02" fill="#eb2020"/>
<circle cx="191.23" cy="8.16" r="2.17" fill="#e8e6e6"/>
<circle cx="174.96" cy="35.95" r="2.77" fill="#ca1010"/>
<circle cx="175.6" cy="11.04" r="2.85" fill="#e57373"/>
<circle cx="177.54" cy="30.72" r="3.65" fill="#ea1515"/>
<circle cx="181.58" cy="23.02" r="3.02" fill="#eb2020"/>
<circle cx="174.93" cy="21.41" r="2.88" fill="#f1bdbd"/>
<circle cx="192.39" cy="6.73" r="1.8" fill="#efb8b8"/>
<circle cx="173.61" cy="20.51" r="3.35" fill="#e31313"/>
<circle cx="192.15" cy="29.67" r="2.33" fill="#eb2020"/>
<circle cx="180.91" cy="22.76" r="2.62" fill="#eb1e1e"/>
<circle cx="187.77" cy="39.01" r="2.51" fill="#ea1818"/>
<circle cx="176" cy="23.18" r="3.3" fill="#c20606"/>
<circle cx="188.95" cy="20.89" r="3.54" fill="#eb1c1c"/>
<circle cx="171.78" cy="20.37" r="2.94" fill="#e67575"/>
<circle cx="187.55" cy="10.82" r="3.21" fill="#dc1313"/>
<circle cx="202.38" cy="16.77" r="1.41" fill="#f3f1f1"/>
<circle cx="202.64" cy="27.02" r="3.17" fill="#f0bbbb"/>
<circle cx="178.65" cy="30.5" r="3.43" fill="#e31313"/>
<circle cx="188.29" cy="27.09" r="2.31" fill="#e41313"/>
<circle cx="193.09" cy="10.55" r="3.72" fill="#f2f0f0"/>
<circle cx="190.7" cy="10" r="3.48" fill="#f0baba"/>
<circle cx="195.15" cy="23.28" r="3.61" fill="#ea1515"/>
<circle cx="182.4" cy="34.48" r="2.87" fill="#c20606"/>
<circle cx="191.41" cy="15.49" r="2.57" fill="#e8b3b3"/>
<circle cx="167.27" cy="27.13" r="2.01" fill="#ea1515"/>
<circle cx="200.12" cy="17.06" r="2.68" fill="#f0b9b9"/>
<circle cx="173.01" cy="21.5" r="2.93" fill="#ea1616"/>
<circle cx="182.08" cy="22.81" r="3.06" fill="#f0bbbb"/>
<circle cx="173.13" cy="35.72" r="3.22" fill="#e51414"/>
<circle cx="170.99" cy="20.86" r="2.96" fill="#e61414"/>
<circle cx="179.69" cy="17.26" r="3.72" fill="#e67474"/>
<circle cx="185.25" cy="42.45" r="3.41" fill="#c10606"/>
<circle cx="198.63" cy="35.24" r="3.33" fill="#eb1e1e"/>
<circle cx="178.29" cy="42.4" r="3.66" fill="#eb2020"/>
<circle cx="178.75" cy="9.23" r="1.84" fill="#f1bcbc"/>
<circle cx="165.75" cy="21.44" r="2.62" fill="#eb1e1e"/>
<circle cx="182.22" cy="37.68" r="2.62" fill="#c80808"/>
<circle cx="205.04" cy="34.3" r="2.77" fill="#e77777"/>
<circle cx="194.06" cy="6.3" r="1.91" fill="#ebb5b5"/>
<circle cx="187.81" cy="47.83" r="3.13" fill="#cb1212"/>
<circle cx="183.97" cy="43.82" r="3.65" fill="#eb1e1e"/>
<circle cx="184.09" cy="39.51" r="3.14" fill="#e91414"/>
<circle cx="173.11" cy="44.99" r="2.61" fill="#c40606"/>
<circle cx="189.87" cy="12.31" r="3.41" fill="#f1bbbb"/>
<circle cx="191.88" cy="16.35" r="3.07" fill="#efeded"/>
<circle cx="199.76" cy="29.48" r="3.3" fill="#ea1414"/>
<circle cx="170.66" cy="47.48" r="2.13" fill="#eb1d1d"/>
<circle cx="194.24" cy="19.17" r="2.69" fill="#f1efef"/>
<circle cx="173.96" cy="21.99" r="2.44" fill="#ca0e0e"/>
<circle cx="201.76" cy="20.92" r="3.12" fill="#dc1313"/>
<circle cx="167.91" cy="26.35" r="3.74" fill="#df1313"/>
<circle cx="205.5" cy="28.31" r="1.31" fill="#e21313"/>
<circle cx="199.88" cy="27.06" r="2.75" fill="#f0bbbb"/>
<circle cx="186.48" cy="11.02" r="3.67" fill="#f2f0f0"/>
<circle cx="176.85" cy="31.71" r="3.38" fill="#eb1f1f"/>
<circle cx="201.86" cy="21.24" r="2.54" fill="#d96d6d"/>
<circle cx="173.59" cy="42.92" r="2.86" fill="#bc0606"/>
<circle cx="179.58" cy="42.08" r="2.26" fill="#e67474"/>
<circle cx="170.3" cy="29.17" r="2.56" fill="#e31313"/>
<circle cx="168.89" cy="15.52" r="2.19" fill="#e61414"/>
<circle cx="172.23" cy="11.78" r="2.33" fill="#da6d6d"/>
<circle cx="168.47" cy="12.2" r="2.08" fill="#e77979"/>
<circle cx="198" cy="29.26" r="3.69" fill="#e77878"/>
<circle cx="183.71" cy="13.94" r="2.26" fill="#e67474"/>
<circle cx="201.69" cy="35.87" r="3.4" fill="#e11313"/>
<circle cx="193" cy="54.22" r="2.79" fill="#eb1d1d"/>
<circle cx="172.09" cy="18.34" r="3.22" fill="#f3f1f1"/>
<circle cx="186.2" cy="22.46" r="2.47" fill="#f2f0f0"/>
<circle cx="172.51" cy="22.03" r="3.1" fill="#e21313"/>
<circle cx="200.1" cy="28.71" r="2.13" fill="#eb1d1d"/>
<circle cx="203.81" cy="33.91" r="3.64" fill="#ecb6b6"/>
<circle cx="166.72" cy="35.66" r="2.83" fill="#eb1b1b"/>
<circle cx="200.08" cy="11.11" r="3.7" fill="#e7e5e5"/>
<circle cx="189.49" cy="7.29" r="2.35" fill="#eb1c1c"/>
<circle cx="193.42" cy="38.47" r="3.41" fill="#e11313"/>
<circle cx="184.84" cy="23.12" r="2.5" fill="#e01313"/>
<circle cx="189.28" cy="34.91" r="2.58" fill="#be0606"/>
<circle cx="196.68" cy="52.17" r="3.73" fill="#c00606"/>
<circle cx="174.93" cy="52.48" r="2.31" fill="#c10606"/>
<circle cx="183.9" cy="34.06" r="3.28" fill="#ca0e0e"/>
<circle cx="176.28" cy="55.57" r="2.3" fill="#e31313"/>
<circle cx="197.65" cy="19.07" r="3.34" fill="#ebe9e9"/>
<circle cx="170.07" cy="44.88" r="2.04" fill="#c70606"/>
<circle cx="187.62" cy="31.23" r="3.3" fill="#e51414"/>
<circle cx="201.51" cy="38.21" r="3.19" fill="#e77a7a"/>
<circle cx="183.46" cy="23.08" r="2.34" fill="#ca1010"/>
<circle cx="167.3" cy="41.16" r="2.11" fill="#cb1515"/>
<circle cx="179.99" cy="42.07" r="2.18" fill="#e41313"/>
<circle cx="193.41" cy="20.57" r="3.42" fill="#f1bcbc"/>
<circle cx="183.43" cy="13.38" r="3.72" fill="#f1bbbb"/>
<circle cx="182.56" cy="12.84" r="3.7" fill="#e7b2b2"/>
<circle cx="190.12" cy="48.91" r="3.13" fill="#eb1f1f"/>
<circle cx="173.57" cy="31.91" r="2.49" fill="#e11313"/>
<circle cx="196.34" cy="33.23" r="3.5" fill="#e31313"/>
<circle cx="169.89" cy="46.22" r="1.62" fill="#e91414"/>
<circle cx="206.46" cy="44.22" r="1.68" fill="#c80606"/>
<circle cx="188.22" cy="42.2" r="2.79" fill="#e01313"/>
<circle cx="196.47" cy="59.32" r="3.56" fill="#c10606"/>
<circle cx="203.13" cy="35.37" r="3.29" fill="#f0baba"/>
<circle cx="186.19" cy="17.86" r="3.58" fill="#e61414"/>
<circle cx="192.36" cy="48.9" r="2.64" fill="#e61414"/>
<circle cx="184.76" cy="25.01" r="3.17" fill="#eb2020"/>
<circle cx="182.82" cy="11.05" r="3.51" fill="#e67474"/>
<circle cx="171.85" cy="37.9" r="2.42" fill="#e61414"/>
<circle cx="191.82" cy="21.5" r="3.12" fill="#e77878"/>
<circle cx="170.69" cy="55.82" r="1.33" fill="#ca0f0f"/>
<circle cx="195.46" cy="20.92" r="3.05" fill="#eb2020"/>
<circle cx="192.06" cy="47.42" r="2.56" fill="#e51414"/>
<circle cx="190.54" cy="33.72" r="3.64" fill="#df1313"/>
<circle cx="202.98" cy="26.75" r="3.03" fill="#e77b7b"/>
<circle cx="173.95" cy="55.6" r="2.7" fill="#eb2121"/>
<circle cx="180.05" cy="53.19" r="3.76" fill="#e31313"/>
<circle cx="198.49" cy="34.03" r="3.21" fill="#db6d6d"/>
<circle cx="170.99" cy="39.71" r="2.94" fill="#eb1b1b"/>
<circle cx="192.44" cy="13.41" r="3.26" fill="#f2f0f0"/>
<circle cx="183.35" cy="28.26" r="2" fill="#eb1b1b"/>
<circle cx="172.99" cy="35.38" r="2.95" fill="#c90808"/>
<circle cx="170.64" cy="41.87" r="3.68" fill="#e21313"/>
<circle cx="176.93" cy="60.58" r="3.1" fill="#ea1414"/>
<circle cx="193.01" cy="52.49" r="2.74" fill="#eb1e1e"/>
<circle cx="196.52" cy="17.12" r="3.64" fill="#e6e4e4"/>
<circle cx="181.73" cy="14.73" r="2.56" fill="#f0b9b9"/>
<circle cx="193.7" cy="11.88" r="2.55" fill="#f0baba"/>
<circle cx="184.71" cy="24.43" r="3.23" fill="#de1313"/>
<circle cx="182.56" cy="34.56" r="2.94" fill="#df1313"/>
<circle cx="185.27" cy="16.3" r="2.73" fill="#f2f0f0"/>
<circle cx="182.86" cy="55.84" r="2.73" fill="#c70606"/>
<circle cx="182.47" cy="14.97" r="2.96" fill="#e67575"/>
<circle cx="182.07" cy="53.81" r="3.58" fill="#eb1e1e"/>
<circle cx="182.56" cy="29.49" r="2.14" fill="#ea1919"/>
<circle cx="166.16" cy="25.94" r="3.42" fill="#e41313"/>
<circle cx="189.87" cy="35.14" r="2.03" fill="#e51414"/>
<circle cx="187.55" cy="14.76" r="2.1" fill="#e77a7a"/>
<circle cx="203.74" cy="24.87" r="2.02" fill="#e67474"/>
<circle cx="181.98" cy="40" r="3.18" fill="#e81414"/>
<circle cx="183.16" cy="19.46" r="3.74" fill="#f0baba"/>
<circle cx="183.77" cy="15.55" r="2.34" fill="#de6f6f"/>
<circle cx="199.45" cy="51.59" r="3.53" fill="#bc0606"/>
<circle cx="186.08" cy="33.93" r="2.21" fill="#c80707"/>
<circle cx="175.05" cy="14.8" r="2.2" fill="#ea1414"/>
<circle cx="171.52" cy="32.46" r="3.23" fill="#e91414"/>
<circle cx="180.49" cy="13.14" r="2.56" fill="#f0b9b9"/>
<circle cx="175.98" cy="32.24" r="3.61" fill="#ea1919"/>
<circle cx="188.91" cy="18.48" r="3.45" fill="#f2f0f0"/>
<circle cx="185.85" cy="66.82" r="3.73" fill="#ea1919"/>
<circle cx="192.5" cy="39.04" r="3.7" fill="#eb2121"/>
<circle cx="190.89" cy="19.85" r="2.68" fill="#e81414"/>
<circle cx="192.16" cy="33.19" r="3.51" fill="#c20606"/>
<circle cx="199.62" cy="42.94" r="3.44" fill="#c90b0b"/>
<circle cx="191.96" cy="8.13" r="3.62" fill="#f2f0f0"/>
<circle cx="169.35" cy="22.18" r="3.46" fill="#ea1818"/>
<circle cx="187.46" cy="43.53" r="2.83" fill="#e61414"/>
<circle cx="175.48" cy="48.73" r="3.09" fill="#c80808"/>
<circle cx="197.36" cy="58.83" r="2.16" fill="#ea1919"/>
<circle cx="185.91" cy="12.68" r="2.97" fill="#e6b1b1"/>
<circle cx="183.18" cy="17.95" r="2.09" fill="#e27171"/>
<circle cx="186.09" cy="33.93" r="3.65" fill="#ea1515"/>
<circle cx="168.21" cy="20.45" r="3.47" fill="#e41313"/>
<circle cx="169.62" cy="20.09" r="2.51" fill="#ca0d0d"/>
<circle cx="179.83" cy="62.74" r="3.46" fill="#2f3edf"/>
<circle cx="199.5" cy="26.01" r="3.04" fill="#db6d6d"/>
<circle cx="164.34" cy="37.89" r="1.38" fill="#e31313"/>
<circle cx="162.14" cy="30.95" r="1.39" fill="#e27171"/>
<circle cx="182.89" cy="43.22" r="2.88" fill="#df1313"/>
<circle cx="167.68" cy="34.92" r="2.12" fill="#eb1c1c"/>
<circle cx="192.84" cy="33.76" r="2.07" fill="#e81414"/>
<circle cx="165.53" cy="37.19" r="2.14" fill="#e01313"/>
<circle cx="178.86" cy="35.24" r="3.38" fill="#eb1d1d"/>
<circle cx="169.62" cy="28.9" r="3.41" fill="#c70606"/>
<circle cx="191.41" cy="46.09" r="2.45" fill="#e71414"/>
<circle cx="199.08" cy="58.11" r="3.63" fill="#c10606"/>
<circle cx="165.72" cy="30.1" r="2.31" fill="#eb1a1a"/>
<circle cx="198.18" cy="55.23" r="3.23" fill="#eb2222"/>
<circle cx="184.03" cy="68.2" r="2.36" fill="#dc1313"/>
<circle cx="180.99" cy="54.81" r="3.5" fill="#eb1e1e"/>
<circle cx="195.56" cy="40.02" r="2.4" fill="#e81414"/>
<circle cx="175.37" cy="62.75" r="2.02" fill="#eb1f1f"/>
<circle cx="196.95" cy="56.24" r="2.82" fill="#eb1a1a"/>
<circle cx="192.14" cy="24.44" r="2.41" fill="#eb1a1a"/>
<circle cx="166.97" cy="15.49" r="1.86" fill="#ea1818"/>
<circle cx="181.97" cy="38.4" r="2.76" fill="#e41313"/>
<circle cx="201.66" cy="51.29" r="2.24" fill="#eb1f1f"/>
<circle cx="177.76" cy="29.32" r="3.66" fill="#e31313"/>
<circle cx="193.55" cy="26.97" r="2.37" fill="#ca0d0d"/>
<circle cx="199.15" cy="29.96" r="2.26" fill="#ea1717"/>
<circle cx="194.54" cy="39.19" r="2.09" fill="#cb1111"/>
<circle cx="205.12" cy="36.77" r="3.15" fill="#e3afaf"/>
<circle cx="201.72" cy="12" r="1.51" fill="#f0baba"/>
<circle cx="194.52" cy="42.75" r="2.42" fill="#ca1010"/>
<circle cx="177.16" cy="36.66" r="2.75" fill="#e41313"/>
<circle cx="190.19" cy="47.55" r="2.19" fill="#c80808"/>
<circle cx="205.27" cy="41.06" r="3.5" fill="#cb1212"/>
<circle cx="183.01" cy="25.8" r="2.38" fill="#e31313"/>
<circle cx="172.27" cy="39.65" r="3.01" fill="#e21313"/>
<circle cx="201.36" cy="49.41" r="3.42" fill="#eb2020"/>
<circle cx="166.77" cy="30.12" r="2.04" fill="#ea1414"/>
<circle cx="200.3" cy="42.67" r="3.23" fill="#eb2121"/>
<circle cx="176.14" cy="43.75" r="3.11" fill="#e81414"/>
<circle cx="172.57" cy="53.01" r="2.07" fill="#e31313"/>
<circle cx="188.78" cy="36.06" r="2.97" fill="#eb2222"/>
<circle cx="181.68" cy="44.12" r="2.43" fill="#e11313"/>
<circle cx="180.94" cy="34.65" r="2.13" fill="#e01313"/>
<circle cx="190.75" cy="37.69" r="3.73" fill="#ea1414"/>
<circle cx="180.88" cy="41.39" r="3.62" fill="#eb1a1a"/>
<circle cx="189.42" cy="42.47" r="2.51" fill="#ea1717"/>
<circle cx="193.11" cy="26.02" r="3.63" fill="#eb2121"/>
<circle cx="180.26" cy="71.05" r="3.03" fill="#e21313"/>
<circle cx="184.77" cy="50.34" r="3.8" fill="#eb1a1a"/>
<circle cx="195.2" cy="44.19" r="2.06" fill="#c30606"/>
<circle cx="183.6" cy="18.53" r="2.84" fill="#eb2020"/>
<circle cx="171.86" cy="63.52" r="3.14" fill="#df1313"/>
<circle cx="198.14" cy="57.32" r="2.9" fill="#c20606"/>
<circle cx="183.42" cy="74.72" r="2.6" fill="#e37272"/>
<circle cx="197.02" cy="17.18" r="3.35" fill="#f1efef"/>
<circle cx="193.7" cy="47.13" r="2.84" fill="#e61414"/>
<circle cx="190.18" cy="48.11" r="3.07" fill="#ea1414"/>
<circle cx="190.67" cy="53.46" r="2.66" fill="#ea1717"/>
<circle cx="172.33" cy="34.39" r="2.78" fill="#eb2020"/>
<circle cx="177.87" cy="37.86" r="3.44" fill="#c90909"/>
<circle cx="190.68" cy="68.23" r="2.68" fill="#c60606"/>
<circle cx="178.92" cy="31.12" r="2.57" fill="#c90a0a"/>
<circle cx="201.2" cy="53.6" r="2.03" fill="#ca1111"/>
<circle cx="180.86" cy="62.21" r="2.29" fill="#3c4bed"/>
<circle cx="187.91" cy="52.19" r="2.53" fill="#eb2020"/>
<circle cx="179.93" cy="64.62" r="2.62" fill="#ea1414"/>
<circle cx="186.89" cy="18.11" r="3.72" fill="#ebb5b5"/>
<circle cx="188.66" cy="55.95" r="3.32" fill="#e61414"/>
<circle cx="192.7" cy="51.89" r="2.74" fill="#e61414"/>
<circle cx="164.66" cy="36.12" r="2.99" fill="#eb2222"/>
<circle cx="167.47" cy="19.42" r="2.45" fill="#eb1a1a"/>
<circle cx="192.37" cy="61.3" r="2.71" fill="#cb1515"/>
<circle cx="166.99" cy="38.19" r="3.09" fill="#ca0d0d"/>
<circle cx="174.33" cy="31.72" r="3.68" fill="#eb1f1f"/>
<circle cx="179.5" cy="36.34" r="3.75" fill="#c80606"/>
<circle cx="187.43" cy="36.06" r="2.7" fill="#c80808"/>
<circle cx="170.02" cy="28.14" r="2.53" fill="#e41414"/>
<circle cx="185.12" cy="69.63" r="2.29" fill="#ea1616"/>
<circle cx="190.34" cy="52.58" r="3.59" fill="#e91414"/>
<circle cx="175.11" cy="35.62" r="2.01" fill="#eb1e1e"/>
<circle cx="162.9" cy="27.93" r="1.65" fill="#de1313"/>
<circle cx="181.35" cy="57.48" r="3.2" fill="#ea1515"/>
<circle cx="184.83" cy="38.83" r="3.15" fill="#e81414"/>
<circle cx="184.95" cy="44.2" r="3.5" fill="#e11313"/>
<circle cx="196.61" cy="52.57" r="3.37" fill="#bc0606"/>
<circle cx="171.67" cy="55.83" r="1.95" fill="#ea1414"/>
<circle cx="175.29" cy="51.68" r="3.43" fill="#ca0e0e"/>
<circle cx="186.17" cy="29.14" r="3.36" fill="#ea1414"/>
<circle cx="183.81" cy="26.03" r="2.11" fill="#c80707"/>
<circle cx="184.93" cy="46.34" r="2.44" fill="#c70606"/>
<circle cx="202.87" cy="51.14" r="1.82" fill="#eb2020"/>
<circle cx="200.86" cy="32.96" r="2.51" fill="#f0baba"/>
<circle cx="203.96" cy="44.39" r="2.54" fill="#ea1414"/>
<circle cx="195.9" cy="59.86" r="2.96" fill="#de1313"/>
<circle cx="183.04" cy="26.02" r="2.02" fill="#de1313"/>
<circle cx="180.16" cy="51.72" r="3.41" fill="#e81414"/>
<circle cx="179.61" cy="45.62" r="3.34" fill="#e61414"/>
<circle cx="198.72" cy="35.1" r="3.5" fill="#e07070"/>
<circle cx="177.04" cy="65.66" r="2.01" fill="#c30606"/>
<circle cx="177.13" cy="63.36" r="2.4" fill="#dd1313"/>
<circle cx="184.07" cy="48.66" r="3.27" fill="#e81414"/>
<circle cx="179.49" cy="43.22" r="3.53" fill="#e91414"/>
<circle cx="186.54" cy="27.4" r="2.9" fill="#c20606"/>
<circle cx="183.03" cy="27.11" r="3.16" fill="#c80707"/>
<circle cx="204.19" cy="46.03" r="2.74" fill="#e81414"/>
<circle cx="175.53" cy="48.45" r="2.42" fill="#e81414"/>
<circle cx="172.08" cy="37.74" r="2.73" fill="#df1313"/>
<circle cx="170.99" cy="32.18" r="3.12" fill="#e61414"/>
<circle cx="178.79" cy="23.84" r="2.45" fill="#e01313"/>
<circle cx="180.03" cy="71.6" r="2.8" fill="#eb2121"/>
<circle cx="197.6" cy="54.3" r="2.15" fill="#c30606"/>
<circle cx="200.03" cy="33.76" r="3.27" fill="#f0b9b9"/>
<circle cx="188.9" cy="72.37" r="3.62" fill="#c20606"/>
<circle cx="179.55" cy="39.09" r="3.12" fill="#e47272"/>
<circle cx="197.05" cy="39.91" r="3.21" fill="#de1313"/>
<circle cx="169.41" cy="40.85" r="2.63" fill="#ea1515"/>
<circle cx="176.01" cy="63.84" r="2.83" fill="#e71414"/>
<circle cx="170.57" cy="65.77" r="2.06" fill="#3242ec"/>
<circle cx="180.56" cy="37.49" r="3.52" fill="#de1313"/>
<circle cx="185.98" cy="71.94" r="2.36" fill="#c00606"/>
<circle cx="190.75" cy="62.92" r="3.28" fill="#ea1919"/>
<circle cx="180.67" cy="57.09" r="2.82" fill="#c80707"/>
<circle cx="186.59" cy="32.41" r="2.8" fill="#c90909"/>
<circle cx="166.81" cy="26.14" r="2.42" fill="#c70606"/>
<circle cx="187.95" cy="42.37" r="3.06" fill="#ea1515"/>
<circle cx="180.3" cy="40.45" r="2.7" fill="#e01313"/>
<circle cx="167.43" cy="42.13" r="2" fill="#e91414"/>
<circle cx="182.87" cy="45.94" r="3.66" fill="#ea1414"/>
<circle cx="199.14" cy="50.41" r="2.55" fill="#e61414"/>
<circle cx="181.71" cy="34.51" r="3.18" fill="#e17171"/>
<circle cx="181.5" cy="57.85" r="3.22" fill="#dc1313"/>
<circle cx="166.06" cy="29.12" r="2.06" fill="#eb1d1d"/>
<circle cx="171.63" cy="49.66" r="1.89" fill="#ea1919"/>
<circle cx="200.86" cy="28.89" r="3.67" fill="#ea1919"/>
<circle cx="197.94" cy="63.39" r="2.03" fill="#ca1111"/>
<circle cx="195.41" cy="66.35" r="2.03" fill="#ea1818"/>
<circle cx="188.76" cy="51.61" r="2.51" fill="#ea1818"/>
<circle cx="176.23" cy="47.01" r="3.13" fill="#c90d0d"/>
<circle cx="187.52" cy="75.08" r="2.66" fill="#c80808"/>
<circle cx="183.44" cy="30.91" r="2.32" fill="#c20606"/>
<circle cx="177.69" cy="68.95" r="3.62" fill="#de1313"/>
<circle cx="176.69" cy="43.77" r="2.71" fill="#eb1c1c"/>
<circle cx="194.71" cy="41.31" r="2.93" fill="#eb1c1c"/>
<circle cx="177.61" cy="66.25" r="2.28" fill="#eb1e1e"/>
<circle cx="179.7" cy="65.59" r="2.02" fill="#bd0606"/>
<circle cx="195.26" cy="41.52" r="3.65" fill="#ea1919"/>
<circle cx="174.52" cy="59.25" r="3.59" fill="#dd1313"/>
<circle cx="176.91" cy="61.7" r="2.28" fill="#eb1a1a"/>
<circle cx="195.15" cy="67.44" r="1.28" fill="#e01313"/>
<circle cx="179.52" cy="39.16" r="2.68" fill="#dd1313"/>
<circle cx="186.33" cy="50.56" r="3.6" fill="#e51414"/>
<circle cx="177.7" cy="39.29" r="3.61" fill="#e61414"/>
<circle cx="181.55" cy="41.84" r="3.05" fill="#eb2020"/>
<circle cx="184.53" cy="62.96" r="3.65" fill="#e01313"/>
<circle cx="169.84" cy="58.87" r="1.26" fill="#3141e7"/>
<circle cx="195.68" cy="38.47" r="2.5" fill="#ca1010"/>
<circle cx="199.29" cy="53.92" r="3.4" fill="#ea1818"/>
<circle cx="184.88" cy="54.87" r="3.71" fill="#eb1b1b"/>
<circle cx="189" cy="43.82" r="3.77" fill="#c90a0a"/>
<circle cx="186.7" cy="49" r="2.78" fill="#eb2020"/>
<circle cx="187.06" cy="46.03" r="3.24" fill="#eb1b1b"/>
<circle cx="172.54" cy="56.49" r="2.66" fill="#c10606"/>
<circle cx="177.22" cy="49.41" r="3.34" fill="#df1313"/>
<circle cx="171.03" cy="54.91" r="1.59" fill="#eb2121"/>
<circle cx="165.36" cy="38.17" r="2.1" fill="#e11313"/>
<circle cx="180.94" cy="55.94" r="3.47" fill="#e01313"/>
<circle cx="182.27" cy="60.42" r="3.33" fill="#eb2121"/>
<circle cx="185.69" cy="43.71" r="2.48" fill="#ea1414"/>
<circle cx="173.47" cy="64.36" r="3.69" fill="#c90b0b"/>
<circle cx="167.74" cy="39.81" r="2.13" fill="#e27171"/>
<circle cx="191.76" cy="50.16" r="3.34" fill="#eb1f1f"/>
<circle cx="188.92" cy="65.92" r="3.75" fill="#eb2020"/>
<circle cx="179.61" cy="57.28" r="3.79" fill="#e91414"/>
<circle cx="186.06" cy="46.46" r="2.58" fill="#df1313"/>
<circle cx="175.24" cy="65.1" r="3.02" fill="#eb1a1a"/>
<circle cx="200.4" cy="55.67" r="2.5" fill="#c80808"/>
<circle cx="182.52" cy="74.59" r="2.11" fill="#ea1616"/>
<circle cx="170.85" cy="47.97" r="2.34" fill="#ea1717"/>
<circle cx="178.71" cy="52.1" r="2.78" fill="#de1313"/>
<circle cx="192.56" cy="49.84" r="3.28" fill="#e31313"/>
<circle cx="178.11" cy="48.67" r="3.32" fill="#ca1111"/>
<circle cx="195.83" cy="48.77" r="3.63" fill="#eb1b1b"/>
<circle cx="197.45" cy="62.15" r="2.64" fill="#e81414"/>
<circle cx="171.37" cy="49.2" r="1.38" fill="#eb1e1e"/>
<circle cx="191.99" cy="43.21" r="3.48" fill="#eb2020"/>
<circle cx="183.07" cy="55.36" r="3.42" fill="#c60606"/>
<circle cx="193.58" cy="54.39" r="2.06" fill="#e77878"/>
<circle cx="197.9" cy="55.11" r="3.42" fill="#c80707"/>
<circle cx="204.76" cy="43.17" r="2.27" fill="#c90808"/>
<circle cx="175.9" cy="65.65" r="3.08" fill="#c20606"/>
<circle cx="175.12" cy="45.85" r="3.58" fill="#e31313"/>
<circle cx="188.21" cy="61.36" r="2.41" fill="#eb1a1a"/>
<circle cx="198.5" cy="46.11" r="3.36" fill="#e31313"/>
<circle cx="185.99" cy="45.42" r="2.43" fill="#ca0d0d"/>
<circle cx="184.05" cy="65.61" r="3.19" fill="#c90909"/>
<circle cx="193.99" cy="68.48" r="1.42" fill="#ea1818"/>
<circle cx="181.01" cy="66.12" r="3.53" fill="#ea1515"/>
<circle cx="193.57" cy="47.85" r="2.07" fill="#c80606"/>
<circle cx="180.29" cy="51.5" r="3.55" fill="#ca1010"/>
<circle cx="200.88" cy="57.1" r="1.39" fill="#e71414"/>
<circle cx="187.18" cy="60.92" r="2.48" fill="#e91414"/>
<circle cx="192.1" cy="59.87" r="2.86" fill="#eb1d1d"/>
<circle cx="175.18" cy="58.25" r="2.16" fill="#de1313"/>
<circle cx="182.97" cy="59.51" r="2.71" fill="#e61414"/>
<circle cx="184.97" cy="71.76" r="3.75" fill="#ea1717"/>
<circle cx="197.58" cy="55.32" r="2.65" fill="#e21313"/>
<circle cx="188.9" cy="74.28" r="1.96" fill="#ea1414"/>
<circle cx="183.96" cy="65.99" r="3.38" fill="#e71414"/>
<circle cx="189.83" cy="67.29" r="2.4" fill="#eb2222"/>
<circle cx="170.34" cy="64.98" r="2.02" fill="#eb1a1a"/>
<circle cx="172.1" cy="67.49" r="1.83" fill="#eb1a1a"/>
<circle cx="190.19" cy="68.17" r="2.51" fill="#eb1c1c"/>
<circle cx="184.31" cy="74.52" r="3.71" fill="#e77777"/>
<circle cx="173.39" cy="67.74" r="2.01" fill="#2f3edf"/>
<circle cx="177.7" cy="71.67" r="2.61" fill="#3746ec"/>
<circle cx="183.71" cy="70.02" r="3.75" fill="#eb1c1c"/>
<circle cx="185.2" cy="75.11" r="2.05" fill="#cb1212"/>
<circle cx="181.73" cy="73.92" r="3.44" fill="#e11313"/>
<circle cx="193.47" cy="6.72" r="2.01" fill="url(#sh)"/>
<circle cx="195.09" cy="8.24" r="2.59" fill="url(#sh)"/>
<circle cx="188.3" cy="15.07" r="2.79" fill="url(#sh)"/>
<circle cx="190.62" cy="6.54" r="1.53" fill="url(#sh)"/>
<circle cx="168.67" cy="17.8" r="3.21" fill="url(#sh)"/>
<circle cx="188.67" cy="16.06" r="2.78" fill="url(#sh)"/>
<circle cx="183.01" cy="18.96" r="2.07" fill="url(#sh)"/>
<circle cx="170.36" cy="18.69" r="3.04" fill="url(#sh)"/>
<circle cx="197.78" cy="6.24" r="1.65" fill="url(#sh)"/>
<circle cx="167.11" cy="16.37" r="2.69" fill="url(#sh)"/>
<circle cx="171.55" cy="14.71" r="3.73" fill="url(#sh)"/>
<circle cx="202.64" cy="18.95" r="1.54" fill="url(#sh)"/>
<circle cx="176.77" cy="11.09" r="2.34" fill="url(#sh)"/>
<circle cx="168.84" cy="17.18" r="3.11" fill="url(#sh)"/>
<circle cx="172.64" cy="12.2" r="2.89" fill="url(#sh)"/>
<circle cx="176.47" cy="22.3" r="3.49" fill="url(#sh)"/>
<circle cx="167.02" cy="24.63" r="3.15" fill="url(#sh)"/>
<circle cx="168.07" cy="24.09" r="2.48" fill="url(#sh)"/>
<circle cx="190.96" cy="9.41" r="2.45" fill="url(#sh)"/>
<circle cx="190.09" cy="25.64" r="3.77" fill="url(#sh)"/>
<circle cx="200.84" cy="23.61" r="2.05" fill="url(#sh)"/>
<circle cx="185.83" cy="12.27" r="2.71" fill="url(#sh)"/>
<circle cx="163.08" cy="24.04" r="1.3" fill="url(#sh)"/>
<circle cx="201.85" cy="22.37" r="2.38" fill="url(#sh)"/>
<circle cx="175.01" cy="20.38" r="3.66" fill="url(#sh)"/>
<circle cx="193.18" cy="8.43" r="3.27" fill="url(#sh)"/>
<circle cx="163.87" cy="21.53" r="1.41" fill="url(#sh)"/>
<circle cx="169.35" cy="11.35" r="2.07" fill="url(#sh)"/>
<circle cx="198.22" cy="18.88" r="2.33" fill="url(#sh)"/>
<circle cx="199" cy="32.25" r="2.56" fill="url(#sh)"/>
<circle cx="180.34" cy="12.62" r="3.3" fill="url(#sh)"/>
<circle cx="167.05" cy="19.83" r="3.27" fill="url(#sh)"/>
<circle cx="168.19" cy="17.91" r="3.24" fill="url(#sh)"/>
<circle cx="165.23" cy="30.49" r="3.8" fill="url(#sh)"/>
<circle cx="177.2" cy="33.36" r="3.08" fill="url(#sh)"/>
<circle cx="171.38" cy="24.09" r="2.97" fill="url(#sh)"/>
<circle cx="191.11" cy="20.36" r="2.25" fill="url(#sh)"/>
<circle cx="181.95" cy="25.82" r="3.61" fill="url(#sh)"/>
<circle cx="200.34" cy="23.21" r="2.88" fill="url(#sh)"/>
<circle cx="181.22" cy="21.81" r="3.6" fill="url(#sh)"/>
<circle cx="174.13" cy="17.69" r="3.36" fill="url(#sh)"/>
<circle cx="176.78" cy="23.99" r="2.91" fill="url(#sh)"/>
<circle cx="201.02" cy="26.34" r="2.02" fill="url(#sh)"/>
<circle cx="191.23" cy="8.16" r="2.17" fill="url(#sh)"/>
<circle cx="174.96" cy="35.95" r="2.77" fill="url(#sh)"/>
<circle cx="175.6" cy="11.04" r="2.85" fill="url(#sh)"/>
<circle cx="177.54" cy="30.72" r="3.65" fill="url(#sh)"/>
<circle cx="181.58" cy="23.02" r="3.02" fill="url(#sh)"/>
<circle cx="174.93" cy="21.41" r="2.88" fill="url(#sh)"/>
<circle cx="192.39" cy="6.73" r="1.8" fill="url(#sh)"/>
<circle cx="173.61" cy="20.51" r="3.35" fill="url(#sh)"/>
<circle cx="192.15" cy="29.67" r="2.33" fill="url(#sh)"/>
<circle cx="180.91" cy="22.76" r="2.62" fill="url(#sh)"/>
<circle cx="187.77" cy="39.01" r="2.51" fill="url(#sh)"/>
<circle cx="176" cy="23.18" r="3.3" fill="url(#sh)"/>
<circle cx="188.95" cy="20.89" r="3.54" fill="url(#sh)"/>
<circle cx="171.78" cy="20.37" r="2.94" fill="url(#sh)"/>
<circle cx="187.55" cy="10.82" r="3.21" fill="url(#sh)"/>
<circle cx="202.38" cy="16.77" r="1.41" fill="url(#sh)"/>
<circle cx="202.64" cy="27.02" r="3.17" fill="url(#sh)"/>
<circle cx="178.65" cy="30.5" r="3.43" fill="url(#sh)"/>
<circle cx="188.29" cy="27.09" r="2.31" fill="url(#sh)"/>
<circle cx="193.09" cy="10.55" r="3.72" fill="url(#sh)"/>
<circle cx="190.7" cy="10" r="3.48" fill="url(#sh)"/>
<circle cx="195.15" cy="23.28" r="3.61" fill="url(#sh)"/>
<circle cx="182.4" cy="34.48" r="2.87" fill="url(#sh)"/>
<circle cx="191.41" cy="15.49" r="2.57" fill="url(#sh)"/>
<circle cx="167.27" cy="27.13" r="2.01" fill="url(#sh)"/>
<circle cx="200.12" cy="17.06" r="2.68" fill="url(#sh)"/>
<circle cx="173.01" cy="21.5" r="2.93" fill="url(#sh)"/>
<circle cx="182.08" cy="22.81" r="3.06" fill="url(#sh)"/>
<circle cx="173.13" cy="35.72" r="3.22" fill="url(#sh)"/>
<circle cx="170.99" cy="20.86" r="2.96" fill="url(#sh)"/>
<circle cx="179.69" cy="17.26" r="3.72" fill="url(#sh)"/>
<circle cx="185.25" cy="42.45" r="3.41" fill="url(#sh)"/>
<circle cx="198.63" cy="35.24" r="3.33" fill="url(#sh)"/>
<circle cx="178.29" cy="42.4" r="3.66" fill="url(#sh)"/>
<circle cx="178.75" cy="9.23" r="1.84" fill="url(#sh)"/>
<circle cx="165.75" cy="21.44" r="2.62" fill="url(#sh)"/>
<circle cx="182.22" cy="37.68" r="2.62" fill="url(#sh)"/>
<circle cx="205.04" cy="34.3" r="2.77" fill="url(#sh)"/>
<circle cx="194.06" cy="6.3" r="1.91" fill="url(#sh)"/>
<circle cx="187.81" cy="47.83" r="3.13" fill="url(#sh)"/>
<circle cx="183.97" cy="43.82" r="3.65" fill="url(#sh)"/>
<circle cx="184.09" cy="39.51" r="3.14" fill="url(#sh)"/>
<circle cx="173.11" cy="44.99" r="2.61" fill="url(#sh)"/>
<circle cx="189.87" cy="12.31" r="3.41" fill="url(#sh)"/>
<circle cx="191.88" cy="16.35" r="3.07" fill="url(#sh)"/>
<circle cx="199.76" cy="29.48" r="3.3" fill="url(#sh)"/>
<circle cx="170.66" cy="47.48" r="2.13" fill="url(#sh)"/>
<circle cx="194.24" cy="19.17" r="2.69" fill="url(#sh)"/>
<circle cx="173.96" cy="21.99" r="2.44" fill="url(#sh)"/>
<circle cx="201.76" cy="20.92" r="3.12" fill="url(#sh)"/>
<circle cx="167.91" cy="26.35" r="3.74" fill="url(#sh)"/>
<circle cx="205.5" cy="28.31" r="1.31" fill="url(#sh)"/>
<circle cx="199.88" cy="27.06" r="2.75" fill="url(#sh)"/>
<circle cx="186.48" cy="11.02" r="3.67" fill="url(#sh)"/>
<circle cx="176.85" cy="31.71" r="3.38" fill="url(#sh)"/>
<circle cx="201.86" cy="21.24" r="2.54" fill="url(#sh)"/>
<circle cx="173.59" cy="42.92" r="2.86" fill="url(#sh)"/>
<circle cx="179.58" cy="42.08" r="2.26" fill="url(#sh)"/>
<circle cx="170.3" cy="29.17" r="2.56" fill="url(#sh)"/>
<circle cx="168.89" cy="15.52" r="2.19" fill="url(#sh)"/>
<circle cx="172.23" cy="11.78" r="2.33" fill="url(#sh)"/>
<circle cx="168.47" cy="12.2" r="2.08" fill="url(#sh)"/>
<circle cx="198" cy="29.26" r="3.69" fill="url(#sh)"/>
<circle cx="183.71" cy="13.94" r="2.26" fill="url(#sh)"/>
<circle cx="201.69" cy="35.87" r="3.4" fill="url(#sh)"/>
<circle cx="193" cy="54.22" r="2.79" fill="url(#sh)"/>
<circle cx="172.09" cy="18.34" r="3.22" fill="url(#sh)"/>
<circle cx="186.2" cy="22.46" r="2.47" fill="url(#sh)"/>
<circle cx="172.51" cy="22.03" r="3.1" fill="url(#sh)"/>
<circle cx="200.1" cy="28.71" r="2.13" fill="url(#sh)"/>
<circle cx="203.81" cy="33.91" r="3.64" fill="url(#sh)"/>
<circle cx="166.72" cy="35.66" r="2.83" fill="url(#sh)"/>
<circle cx="200.08" cy="11.11" r="3.7" fill="url(#sh)"/>
<circle cx="189.49" cy="7.29" r="2.35" fill="url(#sh)"/>
<circle cx="193.42" cy="38.47" r="3.41" fill="url(#sh)"/>
<circle cx="184.84" cy="23.12" r="2.5" fill="url(#sh)"/>
<circle cx="189.28" cy="34.91" r="2.58" fill="url(#sh)"/>
<circle cx="196.68" cy="52.17" r="3.73" fill="url(#sh)"/>
<circle cx="174.93" cy="52.48" r="2.31" fill="url(#sh)"/>
<circle cx="183.9" cy="34.06" r="3.28" fill="url(#sh)"/>
<circle cx="176.28" cy="55.57" r="2.3" fill="url(#sh)"/>
<circle cx="197.65" cy="19.07" r="3.34" fill="url(#sh)"/>
<circle cx="170.07" cy="44.88" r="2.04" fill="url(#sh)"/>
<circle cx="187.62" cy="31.23" r="3.3" fill="url(#sh)"/>
<circle cx="201.51" cy="38.21" r="3.19" fill="url(#sh)"/>
<circle cx="183.46" cy="23.08" r="2.34" fill="url(#sh)"/>
<circle cx="167.3" cy="41.16" r="2.11" fill="url(#sh)"/>
<circle cx="179.99" cy="42.07" r="2.18" fill="url(#sh)"/>
<circle cx="193.41" cy="20.57" r="3.42" fill="url(#sh)"/>
<circle cx="183.43" cy="13.38" r="3.72" fill="url(#sh)"/>
<circle cx="182.56" cy="12.84" r="3.7" fill="url(#sh)"/>
<circle cx="190.12" cy="48.91" r="3.13" fill="url(#sh)"/>
<circle cx="173.57" cy="31.91" r="2.49" fill="url(#sh)"/>
<circle cx="196.34" cy="33.23" r="3.5" fill="url(#sh)"/>
<circle cx="169.89" cy="46.22" r="1.62" fill="url(#sh)"/>
<circle cx="206.46" cy="44.22" r="1.68" fill="url(#sh)"/>
<circle cx="188.22" cy="42.2" r="2.79" fill="url(#sh)"/>
<circle cx="196.47" cy="59.32" r="3.56" fill="url(#sh)"/>
<circle cx="203.13" cy="35.37" r="3.29" fill="url(#sh)"/>
<circle cx="186.19" cy="17.86" r="3.58" fill="url(#sh)"/>
<circle cx="192.36" cy="48.9" r="2.64" fill="url(#sh)"/>
<circle cx="184.76" cy="25.01" r="3.17" fill="url(#sh)"/>
<circle cx="182.82" cy="11.05" r="3.51" fill="url(#sh)"/>
<circle cx="171.85" cy="37.9" r="2.42" fill="url(#sh)"/>
<circle cx="191.82" cy="21.5" r="3.12" fill="url(#sh)"/>
<circle cx="170.69" cy="55.82" r="1.33" fill="url(#sh)"/>
<circle cx="195.46" cy="20.92" r="3.05" fill="url(#sh)"/>
<circle cx="192.06" cy="47.42" r="2.56" fill="url(#sh)"/>
<circle cx="190.54" cy="33.72" r="3.64" fill="url(#sh)"/>
<circle cx="202.98" cy="26.75" r="3.03" fill="url(#sh)"/>
<circle cx="173.95" cy="55.6" r="2.7" fill="url(#sh)"/>
<circle cx="180.05" cy="53.19" r="3.76" fill="url(#sh)"/>
<circle cx="198.49" cy="34.03" r="3.21" fill="url(#sh)"/>
<circle cx="170.99" cy="39.71" r="2.94" fill="url(#sh)"/>
<circle cx="192.44" cy="13.41" r="3.26" fill="url(#sh)"/>
<circle cx="183.35" cy="28.26" r="2" fill="url(#sh)"/>
<circle cx="172.99" cy="35.38" r="2.95" fill="url(#sh)"/>
<circle cx="170.64" cy="41.87" r="3.68" fill="url(#sh)"/>
<circle cx="176.93" cy="60.58" r="3.1" fill="url(#sh)"/>
<circle cx="193.01" cy="52.49" r="2.74" fill="url(#sh)"/>
<circle cx="196.52" cy="17.12" r="3.64" fill="url(#sh)"/>
<circle cx="181.73" cy="14.73" r="2.56" fill="url(#sh)"/>
<circle cx="193.7" cy="11.88" r="2.55" fill="url(#sh)"/>
<circle cx="184.71" cy="24.43" r="3.23" fill="url(#sh)"/>
<circle cx="182.56" cy="34.56" r="2.94" fill="url(#sh)"/>
<circle cx="185.27" cy="16.3" r="2.73" fill="url(#sh)"/>
<circle cx="182.86" cy="55.84" r="2.73" fill="url(#sh)"/>
<circle cx="182.47" cy="14.97" r="2.96" fill="url(#sh)"/>
<circle cx="182.07" cy="53.81" r="3.58" fill="url(#sh)"/>
<circle cx="182.56" cy="29.49" r="2.14" fill="url(#sh)"/>
<circle cx="166.16" cy="25.94" r="3.42" fill="url(#sh)"/>
<circle cx="189.87" cy="35.14" r="2.03" fill="url(#sh)"/>
<circle cx="187.55" cy="14.76" r="2.1" fill="url(#sh)"/>
<circle cx="203.74" cy="24.87" r="2.02" fill="url(#sh)"/>
<circle cx="181.98" cy="40" r="3.18" fill="url(#sh)"/>
<circle cx="183.16" cy="19.46" r="3.74" fill="url(#sh)"/>
<circle cx="183.77" cy="15.55" r="2.34" fill="url(#sh)"/>
<circle cx="199.45" cy="51.59" r="3.53" fill="url(#sh)"/>
<circle cx="186.08" cy="33.93" r="2.21" fill="url(#sh)"/>
<circle cx="175.05" cy="14.8" r="2.2" fill="url(#sh)"/>
<circle cx="171.52" cy="32.46" r="3.23" fill="url(#sh)"/>
<circle cx="180.49" cy="13.14" r="2.56" fill="url(#sh)"/>
<circle cx="175.98" cy="32.24" r="3.61" fill="url(#sh)"/>
<circle cx="188.91" cy="18.48" r="3.45" fill="url(#sh)"/>
<circle cx="185.85" cy="66.82" r="3.73" fill="url(#sh)"/>
<circle cx="192.5" cy="39.04" r="3.7" fill="url(#sh)"/>
<circle cx="190.89" cy="19.85" r="2.68" fill="url(#sh)"/>
<circle cx="192.16" cy="33.19" r="3.51" fill="url(#sh)"/>
<circle cx="199.62" cy="42.94" r="3.44" fill="url(#sh)"/>
<circle cx="191.96" cy="8.13" r="3.62" fill="url(#sh)"/>
<circle cx="169.35" cy="22.18" r="3.46" fill="url(#sh)"/>
<circle cx="187.46" cy="43.53" r="2.83" fill="url(#sh)"/>
<circle cx="175.48" cy="48.73" r="3.09" fill="url(#sh)"/>
<circle cx="197.36" cy="58.83" r="2.16" fill="url(#sh)"/>
<circle cx="185.91" cy="12.68" r="2.97" fill="url(#sh)"/>
<circle cx="183.18" cy="17.95" r="2.09" fill="url(#sh)"/>
<circle cx="186.09" cy="33.93" r="3.65" fill="url(#sh)"/>
<circle cx="168.21" cy="20.45" r="3.47" fill="url(#sh)"/>
<circle cx="169.62" cy="20.09" r="2.51" fill="url(#sh)"/>
<circle cx="179.83" cy="62.74" r="3.46" fill="url(#sh)"/>
<circle cx="199.5" cy="26.01" r="3.04" fill="url(#sh)"/>
<circle cx="164.34" cy="37.89" r="1.38" fill="url(#sh)"/>
<circle cx="162.14" cy="30.95" r="1.39" fill="url(#sh)"/>
<circle cx="182.89" cy="43.22" r="2.88" fill="url(#sh)"/>
<circle cx="167.68" cy="34.92" r="2.12" fill="url(#sh)"/>
<circle cx="192.84" cy="33.76" r="2.07" fill="url(#sh)"/>
<circle cx="165.53" cy="37.19" r="2.14" fill="url(#sh)"/>
<circle cx="178.86" cy="35.24" r="3.38" fill="url(#sh)"/>
<circle cx="169.62" cy="28.9" r="3.41" fill="url(#sh)"/>
<circle cx="191.41" cy="46.09" r="2.45" fill="url(#sh)"/>
<circle cx="199.08" cy="58.11" r="3.63" fill="url(#sh)"/>
<circle cx="165.72" cy="30.1" r="2.31" fill="url(#sh)"/>
<circle cx="198.18" cy="55.23" r="3.23" fill="url(#sh)"/>
<circle cx="184.03" cy="68.2" r="2.36" fill="url(#sh)"/>
<circle cx="180.99" cy="54.81" r="3.5" fill="url(#sh)"/>
<circle cx="195.56" cy="40.02" r="2.4" fill="url(#sh)"/>
<circle cx="175.37" cy="62.75" r="2.02" fill="url(#sh)"/>
<circle cx="196.95" cy="56.24" r="2.82" fill="url(#sh)"/>
<circle cx="192.14" cy="24.44" r="2.41" fill="url(#sh)"/>
<circle cx="166.97" cy="15.49" r="1.86" fill="url(#sh)"/>
<circle cx="181.97" cy="38.4" r="2.76" fill="url(#sh)"/>
<circle cx="201.66" cy="51.29" r="2.24" fill="url(#sh)"/>
<circle cx="177.76" cy="29.32" r="3.66" fill="url(#sh)"/>
<circle cx="193.55" cy="26.97" r="2.37" fill="url(#sh)"/>
<circle cx="199.15" cy="29.96" r="2.26" fill="url(#sh)"/>
<circle cx="194.54" cy="39.19" r="2.09" fill="url(#sh)"/>
<circle cx="205.12" cy="36.77" r="3.15" fill="url(#sh)"/>
<circle cx="201.72" cy="12" r="1.51" fill="url(#sh)"/>
<circle cx="194.52" cy="42.75" r="2.42" fill="url(#sh)"/>
<circle cx="177.16" cy="36.66" r="2.75" fill="url(#sh)"/>
<circle cx="190.19" cy="47.55" r="2.19" fill="url(#sh)"/>
<circle cx="205.27" cy="41.06" r="3.5" fill="url(#sh)"/>
<circle cx="183.01" cy="25.8" r="2.38" fill="url(#sh)"/>
<circle cx="172.27" cy="39.65" r="3.01" fill="url(#sh)"/>
<circle cx="201.36" cy="49.41" r="3.42" fill="url(#sh)"/>
<circle cx="166.77" cy="30.12" r="2.04" fill="url(#sh)"/>
<circle cx="200.3" cy="42.67" r="3.23" fill="url(#sh)"/>
<circle cx="176.14" cy="43.75" r="3.11" fill="url(#sh)"/>
<circle cx="172.57" cy="53.01" r="2.07" fill="url(#sh)"/>
<circle cx="188.78" cy="36.06" r="2.97" fill="url(#sh)"/>
<circle cx="181.68" cy="44.12" r="2.43" fill="url(#sh)"/>
<circle cx="180.94" cy="34.65" r="2.13" fill="url(#sh)"/>
<circle cx="190.75" cy="37.69" r="3.73" fill="url(#sh)"/>
<circle cx="180.88" cy="41.39" r="3.62" fill="url(#sh)"/>
<circle cx="189.42" cy="42.47" r="2.51" fill="url(#sh)"/>
<circle cx="193.11" cy="26.02" r="3.63" fill="url(#sh)"/>
<circle cx="180.26" cy="71.05" r="3.03" fill="url(#sh)"/>
<circle cx="184.77" cy="50.34" r="3.8" fill="url(#sh)"/>
<circle cx="195.2" cy="44.19" r="2.06" fill="url(#sh)"/>
<circle cx="183.6" cy="18.53" r="2.84" fill="url(#sh)"/>
<circle cx="171.86" cy="63.52" r="3.14" fill="url(#sh)"/>
<circle cx="198.14" cy="57.32" r="2.9" fill="url(#sh)"/>
<circle cx="183.42" cy="74.72" r="2.6" fill="url(#sh)"/>
<circle cx="197.02" cy="17.18" r="3.35" fill="url(#sh)"/>
<circle cx="193.7" cy="47.13" r="2.84" fill="url(#sh)"/>
<circle cx="190.18" cy="48.11" r="3.07" fill="url(#sh)"/>
<circle cx="190.67" cy="53.46" r="2.66" fill="url(#sh)"/>
<circle cx="172.33" cy="34.39" r="2.78" fill="url(#sh)"/>
<circle cx="177.87" cy="37.86" r="3.44" fill="url(#sh)"/>
<circle cx="190.68" cy="68.23" r="2.68" fill="url(#sh)"/>
<circle cx="178.92" cy="31.12" r="2.57" fill="url(#sh)"/>
<circle cx="201.2" cy="53.6" r="2.03" fill="url(#sh)"/>
<circle cx="180.86" cy="62.21" r="2.29" fill="url(#sh)"/>
<circle cx="187.91" cy="52.19" r="2.53" fill="url(#sh)"/>
<circle cx="179.93" cy="64.62" r="2.62" fill="url(#sh)"/>
<circle cx="186.89" cy="18.11" r="3.72" fill="url(#sh)"/>
<circle cx="188.66" cy="55.95" r="3.32" fill="url(#sh)"/>
<circle cx="192.7" cy="51.89" r="2.74" fill="url(#sh)"/>
<circle cx="164.66" cy="36.12" r="2.99" fill="url(#sh)"/>
<circle cx="167.47" cy="19.42" r="2.45" fill="url(#sh)"/>
<circle cx="192.37" cy="61.3" r="2.71" fill="url(#sh)"/>
<circle cx="166.99" cy="38.19" r="3.09" fill="url(#sh)"/>
<circle cx="174.33" cy="31.72" r="3.68" fill="url(#sh)"/>
<circle cx="179.5" cy="36.34" r="3.75" fill="url(#sh)"/>
<circle cx="187.43" cy="36.06" r="2.7" fill="url(#sh)"/>
<circle cx="170.02" cy="28.14" r="2.53" fill="url(#sh)"/>
<circle cx="185.12" cy="69.63" r="2.29" fill="url(#sh)"/>
<circle cx="190.34" cy="52.58" r="3.59" fill="url(#sh)"/>
<circle cx="175.11" cy="35.62" r="2.01" fill="url(#sh)"/>
<circle cx="162.9" cy="27.93" r="1.65" fill="url(#sh)"/>
<circle cx="181.35" cy="57.48" r="3.2" fill="url(#sh)"/>
<circle cx="184.83" cy="38.83" r="3.15" fill="url(#sh)"/>
<circle cx="184.95" cy="44.2" r="3.5" fill="url(#sh)"/>
<circle cx="196.61" cy="52.57" r="3.37" fill="url(#sh)"/>
<circle cx="171.67" cy="55.83" r="1.95" fill="url(#sh)"/>
<circle cx="175.29" cy="51.68" r="3.43" fill="url(#sh)"/>
<circle cx="186.17" cy="29.14" r="3.36" fill="url(#sh)"/>
<circle cx="183.81" cy="26.03" r="2.11" fill="url(#sh)"/>
<circle cx="184.93" cy="46.34" r="2.44" fill="url(#sh)"/>
<circle cx="202.87" cy="51.14" r="1.82" fill="url(#sh)"/>
<circle cx="200.86" cy="32.96" r="2.51" fill="url(#sh)"/>
<circle cx="203.96" cy="44.39" r="2.54" fill="url(#sh)"/>
<circle cx="195.9" cy="59.86" r="2.96" fill="url(#sh)"/>
<circle cx="183.04" cy="26.02" r="2.02" fill="url(#sh)"/>
<circle cx="180.16" cy="51.72" r="3.41" fill="url(#sh)"/>
<circle cx="179.61" cy="45.62" r="3.34" fill="url(#sh)"/>
<circle cx="198.72" cy="35.1" r="3.5" fill="url(#sh)"/>
<circle cx="177.04" cy="65.66" r="2.01" fill="url(#sh)"/>
<circle cx="177.13" cy="63.36" r="2.4" fill="url(#sh)"/>
<circle cx="184.07" cy="48.66" r="3.27" fill="url(#sh)"/>
<circle cx="179.49" cy="43.22" r="3.53" fill="url(#sh)"/>
<circle cx="186.54" cy="27.4" r="2.9" fill="url(#sh)"/>
<circle cx="183.03" cy="27.11" r="3.16" fill="url(#sh)"/>
<circle cx="204.19" cy="46.03" r="2.74" fill="url(#sh)"/>
<circle cx="175.53" cy="48.45" r="2.42" fill="url(#sh)"/>
<circle cx="172.08" cy="37.74" r="2.73" fill="url(#sh)"/>
<circle cx="170.99" cy="32.18" r="3.12" fill="url(#sh)"/>
<circle cx="178.79" cy="23.84" r="2.45" fill="url(#sh)"/>
<circle cx="180.03" cy="71.6" r="2.8" fill="url(#sh)"/>
<circle cx="197.6" cy="54.3" r="2.15" fill="url(#sh)"/>
<circle cx="200.03" cy="33.76" r="3.27" fill="url(#sh)"/>
<circle cx="188.9" cy="72.37" r="3.62" fill="url(#sh)"/>
<circle cx="179.55" cy="39.09" r="3.12" fill="url(#sh)"/>
<circle cx="197.05" cy="39.91" r="3.21" fill="url(#sh)"/>
<circle cx="169.41" cy="40.85" r="2.63" fill="url(#sh)"/>
<circle cx="176.01" cy="63.84" r="2.83" fill="url(#sh)"/>
<circle cx="170.57" cy="65.77" r="2.06" fill="url(#sh)"/>
<circle cx="180.56" cy="37.49" r="3.52" fill="url(#sh)"/>
<circle cx="185.98" cy="71.94" r="2.36" fill="url(#sh)"/>
<circle cx="190.75" cy="62.92" r="3.28" fill="url(#sh)"/>
<circle cx="180.67" cy="57.09" r="2.82" fill="url(#sh)"/>
<circle cx="186.59" cy="32.41" r="2.8" fill="url(#sh)"/>
<circle cx="166.81" cy="26.14" r="2.42" fill="url(#sh)"/>
<circle cx="187.95" cy="42.37" r="3.06" fill="url(#sh)"/>
<circle cx="180.3" cy="40.45" r="2.7" fill="url(#sh)"/>
<circle cx="167.43" cy="42.13" r="2" fill="url(#sh)"/>
<circle cx="182.87" cy="45.94" r="3.66" fill="url(#sh)"/>
<circle cx="199.14" cy="50.41" r="2.55" fill="url(#sh)"/>
<circle cx="181.71" cy="34.51" r="3.18" fill="url(#sh)"/>
<circle cx="181.5" cy="57.85" r="3.22" fill="url(#sh)"/>
<circle cx="166.06" cy="29.12" r="2.06" fill="url(#sh)"/>
<circle cx="171.63" cy="49.66" r="1.89" fill="url(#sh)"/>
<circle cx="200.86" cy="28.89" r="3.67" fill="url(#sh)"/>
<circle cx="197.94" cy="63.39" r="2.03" fill="url(#sh)"/>
<circle cx="195.41" cy="66.35" r="2.03" fill="url(#sh)"/>
<circle cx="188.76" cy="51.61" r="2.51" fill="url(#sh)"/>
<circle cx="176.23" cy="47.01" r="3.13" fill="url(#sh)"/>
<circle cx="187.52" cy="75.08" r="2.66" fill="url(#sh)"/>
<circle cx="183.44" cy="30.91" r="2.32" fill="url(#sh)"/>
<circle cx="177.69" cy="68.95" r="3.62" fill="url(#sh)"/>
<circle cx="176.69" cy="43.77" r="2.71" fill="url(#sh)"/>
<circle cx="194.71" cy="41.31" r="2.93" fill="url(#sh)"/>
<circle cx="177.61" cy="66.25" r="2.28" fill="url(#sh)"/>
<circle cx="179.7" cy="65.59" r="2.02" fill="url(#sh)"/>
<circle cx="195.26" cy="41.52" r="3.65" fill="url(#sh)"/>
<circle cx="174.52" cy="59.25" r="3.59" fill="url(#sh)"/>
<circle cx="176.91" cy="61.7" r="2.28" fill="url(#sh)"/>
<circle cx="195.15" cy="67.44" r="1.28" fill="url(#sh)"/>
<circle cx="179.52" cy="39.16" r="2.68" fill="url(#sh)"/>
<circle cx="186.33" cy="50.56" r="3.6" fill="url(#sh)"/>
<circle cx="177.7" cy="39.29" r="3.61" fill="url(#sh)"/>
<circle cx="181.55" cy="41.84" r="3.05" fill="url(#sh)"/>
<circle cx="184.53" cy="62.96" r="3.65" fill="url(#sh)"/>
<circle cx="169.84" cy="58.87" r="1.26" fill="url(#sh)"/>
<circle cx="195.68" cy="38.47" r="2.5" fill="url(#sh)"/>
<circle cx="199.29" cy="53.92" r="3.4" fill="url(#sh)"/>
<circle cx="184.88" cy="54.87" r="3.71" fill="url(#sh)"/>
<circle cx="189" cy="43.82" r="3.77" fill="url(#sh)"/>
<circle cx="186.7" cy="49" r="2.78" fill="url(#sh)"/>
<circle cx="187.06" cy="46.03" r="3.24" fill="url(#sh)"/>
<circle cx="172.54" cy="56.49" r="2.66" fill="url(#sh)"/>
<circle cx="177.22" cy="49.41" r="3.34" fill="url(#sh)"/>
<circle cx="171.03" cy="54.91" r="1.59" fill="url(#sh)"/>
<circle cx="165.36" cy="38.17" r="2.1" fill="url(#sh)"/>
<circle cx="180.94" cy="55.94" r="3.47" fill="url(#sh)"/>
<circle cx="182.27" cy="60.42" r="3.33" fill="url(#sh)"/>
<circle cx="185.69" cy="43.71" r="2.48" fill="url(#sh)"/>
<circle cx="173.47" cy="64.36" r="3.69" fill="url(#sh)"/>
<circle cx="167.74" cy="39.81" r="2.13" fill="url(#sh)"/>
<circle cx="191.76" cy="50.16" r="3.34" fill="url(#sh)"/>
<circle cx="188.92" cy="65.92" r="3.75" fill="url(#sh)"/>
<circle cx="179.61" cy="57.28" r="3.79" fill="url(#sh)"/>
<circle cx="186.06" cy="46.46" r="2.58" fill="url(#sh)"/>
<circle cx="175.24" cy="65.1" r="3.02" fill="url(#sh)"/>
<circle cx="200.4" cy="55.67" r="2.5" fill="url(#sh)"/>
<circle cx="182.52" cy="74.59" r="2.11" fill="url(#sh)"/>
<circle cx="170.85" cy="47.97" r="2.34" fill="url(#sh)"/>
<circle cx="178.71" cy="52.1" r="2.78" fill="url(#sh)"/>
<circle cx="192.56" cy="49.84" r="3.28" fill="url(#sh)"/>
<circle cx="178.11" cy="48.67" r="3.32" fill="url(#sh)"/>
<circle cx="195.83" cy="48.77" r="3.63" fill="url(#sh)"/>
<circle cx="197.45" cy="62.15" r="2.64" fill="url(#sh)"/>
<circle cx="171.37" cy="49.2" r="1.38" fill="url(#sh)"/>
<circle cx="191.99" cy="43.21" r="3.48" fill="url(#sh)"/>
<circle cx="183.07" cy="55.36" r="3.42" fill="url(#sh)"/>
<circle cx="193.58" cy="54.39" r="2.06" fill="url(#sh)"/>
<circle cx="197.9" cy="55.11" r="3.42" fill="url(#sh)"/>
<circle cx="204.76" cy="43.17" r="2.27" fill="url(#sh)"/>
<circle cx="175.9" cy="65.65" r="3.08" fill="url(#sh)"/>
<circle cx="175.12" cy="45.85" r="3.58" fill="url(#sh)"/>
<circle cx="188.21" cy="61.36" r="2.41" fill="url(#sh)"/>
<circle cx="198.5" cy="46.11" r="3.36" fill="url(#sh)"/>
<circle cx="185.99" cy="45.42" r="2.43" fill="url(#sh)"/>
<circle cx="184.05" cy="65.61" r="3.19" fill="url(#sh)"/>
<circle cx="193.99" cy="68.48" r="1.42" fill="url(#sh)"/>
<circle cx="181.01" cy="66.12" r="3.53" fill="url(#sh)"/>
<circle cx="193.57" cy="47.85" r="2.07" fill="url(#sh)"/>
<circle cx="180.29" cy="51.5" r="3.55" fill="url(#sh)"/>
<circle cx="200.88" cy="57.1" r="1.39" fill="url(#sh)"/>
<circle cx="187.18" cy="60.92" r="2.48" fill="url(#sh)"/>
<circle cx="192.1" cy="59.87" r="2.86" fill="url(#sh)"/>
<circle cx="175.18" cy="58.25" r="2.16" fill="url(#sh)"/>
<circle cx="182.97" cy="59.51" r="2.71" fill="url(#sh)"/>
<circle cx="184.97" cy="71.76" r="3.75" fill="url(#sh)"/>
<circle cx="197.58" cy="55.32" r="2.65" fill="url(#sh)"/>
<circle cx="188.9" cy="74.28" r="1.96" fill="url(#sh)"/>
<circle cx="183.96" cy="65.99" r="3.38" fill="url(#sh)"/>
<circle cx="189.83" cy="67.29" r="2.4" fill="url(#sh)"/>
<circle cx="170.34" cy="64.98" r="2.02" fill="url(#sh)"/>
<circle cx="172.1" cy="67.49" r="1.83" fill="url(#sh)"/>
<circle cx="190.19" cy="68.17" r="2.51" fill="url(#sh)"/>
<circle cx="184.31" cy="74.52" r="3.71" fill="url(#sh)"/>
<circle cx="173.39" cy="67.74" r="2.01" fill="url(#sh)"/>
<circle cx="177.7" cy="71.67" r="2.61" fill="url(#sh)"/>
<circle cx="183.71" cy="70.02" r="3.75" fill="url(#sh)"/>
<circle cx="185.2" cy="75.11" r="2.05" fill="url(#sh)"/>
<circle cx="181.73" cy="73.92" r="3.44" fill="url(#sh)"/>
<circle cx="170.5" cy="62.5" r="1.2" fill="#2030e0"/>
<circle cx="173.5" cy="67.5" r="1" fill="#2030e0"/>
<circle cx="177.5" cy="71.5" r="0.9" fill="#2030e0"/>
<circle cx="186.5" cy="74" r="0.9" fill="#2030e0"/>
<circle cx="202.5" cy="44" r="1" fill="#2030e0"/>
<circle cx="166" cy="41" r="0.9" fill="#2030e0"/>
<circle cx="201" cy="14" r="1.2" fill="#2030e0"/>
<circle cx="203.5" cy="20" r="0.9" fill="#2030e0"/>
<circle cx="181" cy="58" r="0.8" fill="#2030e0"/>
<circle cx="192.5" cy="62" r="0.9" fill="#2030e0"/>
</g></g>
<g filter="url(#bl)"><g>
<polygon points="262.85,21.44 266.36,18.84 271.49,17.91 276.71,16.98 281.84,15.21 285.35,13.44 290.48,12.51 294.8,15.21 297.41,21.44 299.12,28.6 301.73,35.76 301.73,40.23 297.41,42.83 294.8,48.23 293.9,55.29 290.48,62.45 285.35,66.92 278.42,66.92 272.39,64.22 268.97,58.92 268.07,51.76 266.36,42.83 263.75,33.9 262.04,26.84" fill="#e67373"/>
<circle cx="287.29" cy="13.66" r="2.65" fill="#db6d6d"/>
<circle cx="291.77" cy="20.79" r="2.71" fill="#e8e6e6"/>
<circle cx="274.96" cy="20.62" r="2.59" fill="#e77979"/>
<circle cx="292.9" cy="23.88" r="2.82" fill="#e9b4b4"/>
<circle cx="283.4" cy="21.71" r="2.32" fill="#e77676"/>
<circle cx="268.74" cy="19.97" r="3.76" fill="#e9b3b3"/>
<circle cx="278.99" cy="19.19" r="2.39" fill="#ea1414"/>
<circle cx="283.44" cy="17.33" r="2.89" fill="#ea1818"/>
<circle cx="290.28" cy="15.59" r="2.8" fill="#f1bcbc"/>
<circle cx="282.69" cy="27.61" r="2.61" fill="#e21313"/>
<circle cx="288.43" cy="24.78" r="2.09" fill="#e5b1b1"/>
<circle cx="277.61" cy="20.54" r="2.05" fill="#eb1f1f"/>
<circle cx="274.8" cy="17.2" r="1.44" fill="#e81414"/>
<circle cx="282.06" cy="25.16" r="3.38" fill="#cb1414"/>
<circle cx="266.25" cy="23.56" r="2.67" fill="#df6f6f"/>
<circle cx="289.32" cy="18.69" r="3.31" fill="#f0b9b9"/>
<circle cx="289.41" cy="14.45" r="3.36" fill="#e61414"/>
<circle cx="274.75" cy="22.19" r="3.02" fill="#e31313"/>
<circle cx="264.12" cy="21.15" r="2.9" fill="#ea1717"/>
<circle cx="276.01" cy="33.9" r="2.63" fill="#e91414"/>
<circle cx="266.04" cy="30.09" r="3.3" fill="#e77676"/>
<circle cx="286.21" cy="15.66" r="2.05" fill="#eb1e1e"/>
<circle cx="291.5" cy="21.59" r="2.48" fill="#ebb5b5"/>
<circle cx="271.7" cy="17.91" r="1.74" fill="#eb1b1b"/>
<circle cx="264.86" cy="33.51" r="2.6" fill="#dd1313"/>
<circle cx="264.94" cy="35.68" r="2.1" fill="#e81414"/>
<circle cx="298.07" cy="29.06" r="3.73" fill="#e4b0b0"/>
<circle cx="271.76" cy="30.96" r="2.75" fill="#df7070"/>
<circle cx="270.48" cy="21.79" r="2.47" fill="#ea1515"/>
<circle cx="294.64" cy="29.35" r="2.53" fill="#f1bcbc"/>
<circle cx="263.32" cy="21.15" r="2.67" fill="#db6d6d"/>
<circle cx="280.97" cy="35.39" r="3.61" fill="#dd1313"/>
<circle cx="292.93" cy="24.09" r="3.8" fill="#f1bcbc"/>
<circle cx="271.37" cy="18.48" r="1.81" fill="#ea1818"/>
<circle cx="290.49" cy="31.55" r="2.91" fill="#e9b3b3"/>
<circle cx="282.95" cy="34.9" r="3.69" fill="#e61414"/>
<circle cx="274.52" cy="32.35" r="2.13" fill="#d96c6c"/>
<circle cx="287.62" cy="21.18" r="3.6" fill="#eeb7b7"/>
<circle cx="296.42" cy="27.11" r="3.19" fill="#f3f1f1"/>
<circle cx="281.8" cy="33.18" r="3.53" fill="#ea1717"/>
<circle cx="273.91" cy="31.99" r="2.56" fill="#e91414"/>
<circle cx="280.82" cy="36.09" r="2.47" fill="#da6d6d"/>
<circle cx="268.41" cy="22.94" r="2.31" fill="#ea1414"/>
<circle cx="285.35" cy="19.42" r="2.77" fill="#e31313"/>
<circle cx="280.32" cy="23.73" r="3.49" fill="#ecb6b6"/>
<circle cx="285.87" cy="28.32" r="2.06" fill="#e41313"/>
<circle cx="275.42" cy="30.17" r="2.73" fill="#e37272"/>
<circle cx="295.82" cy="20.72" r="3.43" fill="#1f29d5"/>
<circle cx="283.63" cy="36.51" r="2.26" fill="#ea1414"/>
<circle cx="270.82" cy="26.25" r="3.47" fill="#db6d6d"/>
<circle cx="288.59" cy="23.03" r="3.36" fill="#eceaea"/>
<circle cx="283.88" cy="16.19" r="2.56" fill="#cb1313"/>
<circle cx="268.14" cy="35.07" r="3.34" fill="#ea1a1a"/>
<circle cx="285.63" cy="33.4" r="2.08" fill="#df1313"/>
<circle cx="267.79" cy="33.12" r="3.49" fill="#cb1212"/>
<circle cx="261.68" cy="26.23" r="1.6" fill="#e67575"/>
<circle cx="277.4" cy="32.49" r="3.17" fill="#c80808"/>
<circle cx="291.79" cy="26.64" r="2.4" fill="#f2f0f0"/>
<circle cx="271.24" cy="24.41" r="3.79" fill="#eb1e1e"/>
<circle cx="276.66" cy="16.96" r="1.62" fill="#e21313"/>
<circle cx="292.41" cy="39.05" r="3.33" fill="#e67575"/>
<circle cx="286.91" cy="18.86" r="2.15" fill="#eb1e1e"/>
<circle cx="286.67" cy="20.98" r="3.35" fill="#f0bbbb"/>
<circle cx="276.48" cy="43.5" r="2.78" fill="#e77676"/>
<circle cx="282.78" cy="42.78" r="2.02" fill="#eb1d1d"/>
<circle cx="273.24" cy="38.35" r="2.54" fill="#eb1f1f"/>
<circle cx="279.77" cy="38.65" r="2.96" fill="#e07070"/>
<circle cx="275.07" cy="17.95" r="2.09" fill="#ea1717"/>
<circle cx="277.5" cy="33.47" r="2.32" fill="#ea1a1a"/>
<circle cx="277.37" cy="40.38" r="2.54" fill="#eb1f1f"/>
<circle cx="276.94" cy="40.64" r="2.78" fill="#e81414"/>
<circle cx="294.44" cy="28.15" r="3.53" fill="#f2f0f0"/>
<circle cx="291.54" cy="32.17" r="2.67" fill="#eab4b4"/>
<circle cx="283.24" cy="46.97" r="2.64" fill="#dd1313"/>
<circle cx="275.47" cy="46.65" r="2.41" fill="#eb1d1d"/>
<circle cx="298.82" cy="37.09" r="2.41" fill="#e4b0b0"/>
<circle cx="297.58" cy="34.12" r="3.32" fill="#e37171"/>
<circle cx="266.06" cy="27.42" r="2.45" fill="#ea1616"/>
<circle cx="265.59" cy="19.2" r="2.23" fill="#e51414"/>
<circle cx="270.84" cy="22.62" r="2.28" fill="#dc1313"/>
<circle cx="301.68" cy="39.03" r="2.04" fill="#ebb5b5"/>
<circle cx="298.24" cy="30.94" r="3.09" fill="#eceaea"/>
<circle cx="275.64" cy="26.25" r="2.69" fill="#e37171"/>
<circle cx="286.94" cy="48.25" r="3.37" fill="#c40606"/>
<circle cx="293.59" cy="38.68" r="2.68" fill="#e77878"/>
<circle cx="271.77" cy="26.41" r="2.95" fill="#eb1b1b"/>
<circle cx="288.33" cy="45.02" r="2.65" fill="#c20606"/>
<circle cx="266.39" cy="42.53" r="1.92" fill="#eb2020"/>
<circle cx="293.23" cy="40.24" r="3.72" fill="#bf0606"/>
<circle cx="302.38" cy="36.22" r="1.88" fill="#f1bdbd"/>
<circle cx="286.75" cy="24.83" r="2.33" fill="#eb1c1c"/>
<circle cx="268.45" cy="34.58" r="3.04" fill="#eb1c1c"/>
<circle cx="283.11" cy="36.53" r="3.11" fill="#e57373"/>
<circle cx="273.24" cy="46.21" r="3.7" fill="#ea1818"/>
<circle cx="290.61" cy="46.83" r="3.76" fill="#e07070"/>
<circle cx="289.52" cy="40.68" r="3.73" fill="#df1313"/>
<circle cx="293.3" cy="33.63" r="2.37" fill="#f1bdbd"/>
<circle cx="289.52" cy="40.95" r="2.87" fill="#e77a7a"/>
<circle cx="283.01" cy="54.17" r="3.51" fill="#bf0606"/>
<circle cx="272.78" cy="41.09" r="3.15" fill="#eb2121"/>
<circle cx="287.37" cy="44.91" r="2.89" fill="#f1bdbd"/>
<circle cx="295.13" cy="47.14" r="1.67" fill="#f0bbbb"/>
<circle cx="294.15" cy="53.25" r="1.4" fill="#f1bcbc"/>
<circle cx="268.05" cy="51.93" r="2.13" fill="#dd1313"/>
<circle cx="294.43" cy="33.56" r="2.82" fill="#e2aeae"/>
<circle cx="282.66" cy="20.69" r="2.33" fill="#ea1717"/>
<circle cx="271.92" cy="49.63" r="2.2" fill="#e31313"/>
<circle cx="279.87" cy="43.78" r="2.52" fill="#e61414"/>
<circle cx="273.73" cy="29.1" r="2.63" fill="#e67575"/>
<circle cx="275.03" cy="24.15" r="2.75" fill="#be0606"/>
<circle cx="273.78" cy="33.25" r="3.76" fill="#de1313"/>
<circle cx="268.58" cy="44.96" r="2.57" fill="#c90a0a"/>
<circle cx="283.21" cy="42.05" r="2.3" fill="#e77878"/>
<circle cx="271.57" cy="28.57" r="2.22" fill="#eb1f1f"/>
<circle cx="300.07" cy="36.52" r="3.23" fill="#ea1818"/>
<circle cx="276.23" cy="20.14" r="2.56" fill="#eb1b1b"/>
<circle cx="284.89" cy="17.14" r="2.15" fill="#e41313"/>
<circle cx="297.15" cy="36.74" r="2.94" fill="#f0bbbb"/>
<circle cx="280.83" cy="22.56" r="2.61" fill="#e01313"/>
<circle cx="284.3" cy="52.59" r="2.68" fill="#ea1616"/>
<circle cx="269.07" cy="44.93" r="3.72" fill="#ea1717"/>
<circle cx="262.38" cy="24.71" r="1.83" fill="#e67575"/>
<circle cx="291.15" cy="43.49" r="2.7" fill="#eab5b5"/>
<circle cx="282.75" cy="51.56" r="2.57" fill="#cb1313"/>
<circle cx="286.8" cy="30.67" r="2.45" fill="#d96c6c"/>
<circle cx="287.54" cy="30.87" r="2.17" fill="#eb1b1b"/>
<circle cx="295.7" cy="45.95" r="1.65" fill="#c90d0d"/>
<circle cx="293.66" cy="38.94" r="2.22" fill="#e67474"/>
<circle cx="280.11" cy="22.02" r="2.95" fill="#ea1717"/>
<circle cx="280.01" cy="49.33" r="3.08" fill="#de6f6f"/>
<circle cx="264.82" cy="29.22" r="2.98" fill="#e77979"/>
<circle cx="295.35" cy="26.24" r="3.36" fill="#eeecec"/>
<circle cx="269.7" cy="37.17" r="3.44" fill="#eb1b1b"/>
<circle cx="275.7" cy="29.54" r="3.39" fill="#ca1111"/>
<circle cx="272.23" cy="18.39" r="2.45" fill="#f2f0f0"/>
<circle cx="273.94" cy="27.25" r="2.05" fill="#ecb6b6"/>
<circle cx="271.68" cy="40.46" r="2.67" fill="#e37171"/>
<circle cx="272.45" cy="21.81" r="3.48" fill="#e2aeae"/>
<circle cx="267.38" cy="28.24" r="3.19" fill="#e77777"/>
<circle cx="299.46" cy="36.32" r="2.7" fill="#e3afaf"/>
<circle cx="295.18" cy="33.43" r="3.45" fill="#e8b3b3"/>
<circle cx="287.3" cy="36.36" r="2.23" fill="#dd6f6f"/>
<circle cx="267.57" cy="21.79" r="3.48" fill="#e67474"/>
<circle cx="300.09" cy="33.93" r="2.38" fill="#f1bcbc"/>
<circle cx="292.42" cy="30.8" r="3.45" fill="#f0b9b9"/>
<circle cx="292.09" cy="30.65" r="3.16" fill="#efeded"/>
<circle cx="296.13" cy="22.58" r="2.17" fill="#2c36dc"/>
<circle cx="287.04" cy="39.67" r="2.94" fill="#e67474"/>
<circle cx="283.86" cy="45.65" r="2.52" fill="#e67575"/>
<circle cx="296.25" cy="30.1" r="2.75" fill="#e4b0b0"/>
<circle cx="296.56" cy="36.35" r="3.54" fill="#f3f1f1"/>
<circle cx="297.12" cy="32.66" r="2.65" fill="#f1bdbd"/>
<circle cx="293.64" cy="40.61" r="3.29" fill="#eb2222"/>
<circle cx="265.18" cy="39.92" r="1.72" fill="#e07070"/>
<circle cx="280.27" cy="42.18" r="2.8" fill="#eb1f1f"/>
<circle cx="273.28" cy="53.88" r="2.46" fill="#e77878"/>
<circle cx="280.67" cy="25.72" r="2.64" fill="#e67474"/>
<circle cx="281.11" cy="21.16" r="3.29" fill="#f1bcbc"/>
<circle cx="279.07" cy="54.98" r="2.87" fill="#c30606"/>
<circle cx="270.04" cy="38.12" r="3.54" fill="#e77b7b"/>
<circle cx="272.85" cy="51.96" r="2.74" fill="#dc1313"/>
<circle cx="275.32" cy="22.24" r="2.96" fill="#ea1818"/>
<circle cx="284.78" cy="21.35" r="3.16" fill="#eb2020"/>
<circle cx="279.45" cy="17.19" r="3.5" fill="#e77676"/>
<circle cx="295.11" cy="34.71" r="2.27" fill="#f0b9b9"/>
<circle cx="288.29" cy="36.69" r="3.02" fill="#e77a7a"/>
<circle cx="285.76" cy="27.49" r="3.46" fill="#c20606"/>
<circle cx="296.58" cy="27.77" r="2.64" fill="#f3f1f1"/>
<circle cx="290.08" cy="28.22" r="3.55" fill="#e4afaf"/>
<circle cx="267.27" cy="30.4" r="3.17" fill="#eb1b1b"/>
<circle cx="275.83" cy="42.09" r="2.63" fill="#eb1a1a"/>
<circle cx="288.12" cy="53.27" r="2.19" fill="#ca0f0f"/>
<circle cx="264.36" cy="28.21" r="2.74" fill="#ea1919"/>
<circle cx="291.89" cy="26.79" r="3.42" fill="#e77676"/>
<circle cx="294.25" cy="46.05" r="3.42" fill="#ca0f0f"/>
<circle cx="289.73" cy="53.7" r="2.63" fill="#ca1111"/>
<circle cx="262.02" cy="22.63" r="2.03" fill="#db6e6e"/>
<circle cx="271.61" cy="42.65" r="2.08" fill="#eb2020"/>
<circle cx="292.81" cy="58.37" r="1.6" fill="#e91414"/>
<circle cx="268.06" cy="36.16" r="3.26" fill="#c90c0c"/>
<circle cx="271.99" cy="29.08" r="3.69" fill="#efb8b8"/>
<circle cx="288.41" cy="39.11" r="2.35" fill="#da6d6d"/>
<circle cx="278.79" cy="23.37" r="2.18" fill="#e01313"/>
<circle cx="286.01" cy="34.37" r="3.73" fill="#e67373"/>
<circle cx="290.65" cy="23.3" r="3.21" fill="#f0baba"/>
<circle cx="275.28" cy="45.84" r="2.66" fill="#e71414"/>
<circle cx="275.33" cy="52.71" r="3.22" fill="#e91414"/>
<circle cx="279.3" cy="43.74" r="2.44" fill="#eb2020"/>
<circle cx="273.16" cy="63.61" r="3.19" fill="#e77979"/>
<circle cx="276.27" cy="29.31" r="2.65" fill="#e51414"/>
<circle cx="287.63" cy="58.54" r="2.01" fill="#c30606"/>
<circle cx="296.85" cy="20.52" r="2.48" fill="#f2f0f0"/>
<circle cx="283.5" cy="64.71" r="3.56" fill="#e77676"/>
<circle cx="282.22" cy="47.59" r="2.15" fill="#e91414"/>
<circle cx="285.39" cy="50.22" r="2.01" fill="#e77979"/>
<circle cx="279.98" cy="28.98" r="2.32" fill="#e01313"/>
<circle cx="276.86" cy="39.2" r="2.28" fill="#eb1b1b"/>
<circle cx="272.92" cy="24.89" r="3.45" fill="#eb1f1f"/>
<circle cx="274.1" cy="43.69" r="3.49" fill="#ea1919"/>
<circle cx="299.34" cy="32.8" r="2.83" fill="#ebe9e9"/>
<circle cx="286.52" cy="23.23" r="2.63" fill="#e67575"/>
<circle cx="275.66" cy="60.58" r="2.51" fill="#ea1515"/>
<circle cx="283.56" cy="65.09" r="2.58" fill="#cb1414"/>
<circle cx="292.65" cy="41.76" r="3.38" fill="#e11313"/>
<circle cx="285.9" cy="19.27" r="2.72" fill="#e67575"/>
<circle cx="284.67" cy="16.73" r="3.06" fill="#e77a7a"/>
<circle cx="277.04" cy="42.54" r="2.21" fill="#ea1414"/>
<circle cx="275.35" cy="52.06" r="3.33" fill="#e21313"/>
<circle cx="270.86" cy="26.11" r="3.25" fill="#e91414"/>
<circle cx="280.32" cy="65.28" r="2.54" fill="#eb1c1c"/>
<circle cx="276.43" cy="55.88" r="2.05" fill="#e77b7b"/>
<circle cx="283.93" cy="34.58" r="2.63" fill="#e61414"/>
<circle cx="273.74" cy="26.55" r="3.71" fill="#be0606"/>
<circle cx="280.73" cy="20.34" r="3.12" fill="#de1313"/>
<circle cx="272.97" cy="63.34" r="2.24" fill="#f0b9b9"/>
<circle cx="264.65" cy="20.54" r="2.88" fill="#db6d6d"/>
<circle cx="296.51" cy="21.44" r="2.49" fill="#2d37dc"/>
<circle cx="290.76" cy="14.09" r="3.66" fill="#e77a7a"/>
<circle cx="274.74" cy="53.54" r="3.05" fill="#e51414"/>
<circle cx="268.26" cy="42.08" r="3.75" fill="#e41414"/>
<circle cx="282.16" cy="35.92" r="3.3" fill="#e61414"/>
<circle cx="289.01" cy="53.73" r="2.94" fill="#dd1313"/>
<circle cx="267.3" cy="48.17" r="1.43" fill="#ca1010"/>
<circle cx="279.33" cy="65" r="2.46" fill="#c40606"/>
<circle cx="294.62" cy="40.47" r="3.5" fill="#ea1515"/>
<circle cx="293.37" cy="43.03" r="2.54" fill="#eab5b5"/>
<circle cx="292.53" cy="54.39" r="2.52" fill="#ea1515"/>
<circle cx="297.7" cy="41.05" r="2.62" fill="#1f29d6"/>
<circle cx="276.22" cy="39.72" r="3.27" fill="#e71414"/>
<circle cx="288.18" cy="22.11" r="3.66" fill="#dd6f6f"/>
<circle cx="273.25" cy="18.47" r="1.88" fill="#dc6e6e"/>
<circle cx="287.47" cy="37.98" r="3.22" fill="#ea1818"/>
<circle cx="293.42" cy="20.37" r="3.2" fill="#efb8b8"/>
<circle cx="288.7" cy="17.9" r="3.68" fill="#e37171"/>
<circle cx="284.14" cy="27.06" r="2.3" fill="#e77979"/>
<circle cx="284.9" cy="52.46" r="2.38" fill="#eb1b1b"/>
<circle cx="286.43" cy="20.13" r="2.25" fill="#e67575"/>
<circle cx="281.99" cy="36.02" r="2.36" fill="#e67474"/>
<circle cx="292.79" cy="27.74" r="2.02" fill="#f2f0f0"/>
<circle cx="288.15" cy="63.2" r="2.27" fill="#ea1818"/>
<circle cx="281.25" cy="56.25" r="2.79" fill="#c70606"/>
<circle cx="265.52" cy="27.78" r="3.43" fill="#c40606"/>
<circle cx="287.98" cy="19.51" r="3.14" fill="#e67474"/>
<circle cx="270.87" cy="37.39" r="3.07" fill="#dd6f6f"/>
<circle cx="278.09" cy="24.12" r="3.4" fill="#db6e6e"/>
<circle cx="287.35" cy="62.43" r="2.25" fill="#e91414"/>
<circle cx="276.3" cy="55.89" r="3.36" fill="#ca1111"/>
<circle cx="270.26" cy="60.05" r="3.16" fill="#c20606"/>
<circle cx="280.23" cy="62.58" r="3.45" fill="#e57373"/>
<circle cx="275.28" cy="44.93" r="3.05" fill="#d96d6d"/>
<circle cx="264.29" cy="29.54" r="2.6" fill="#c10606"/>
<circle cx="283.58" cy="37.85" r="3.31" fill="#e51414"/>
<circle cx="270.15" cy="52.68" r="3.22" fill="#e41313"/>
<circle cx="284.2" cy="64.72" r="2.65" fill="#ea1515"/>
<circle cx="276.08" cy="45.54" r="2.54" fill="#eb1b1b"/>
<circle cx="281" cy="26.46" r="2.31" fill="#cb1313"/>
<circle cx="270.61" cy="42.05" r="3.25" fill="#ea1919"/>
<circle cx="271.41" cy="51.71" r="2" fill="#c90d0d"/>
<circle cx="286.31" cy="64.93" r="3.29" fill="#e11313"/>
<circle cx="270.71" cy="18.64" r="2.02" fill="#ea1818"/>
<circle cx="286.43" cy="47.3" r="2.12" fill="#ea1919"/>
<circle cx="267.64" cy="22.38" r="3.72" fill="#f1bbbb"/>
<circle cx="273.62" cy="35.46" r="3.31" fill="#cb1414"/>
<circle cx="268.71" cy="25.33" r="3.41" fill="#ea1919"/>
<circle cx="285" cy="40.58" r="2.36" fill="#e6b1b1"/>
<circle cx="269.37" cy="45.03" r="2.23" fill="#dd6f6f"/>
<circle cx="279.5" cy="39.52" r="3.05" fill="#dd1313"/>
<circle cx="278.27" cy="66.16" r="3.63" fill="#e77979"/>
<circle cx="294.34" cy="19.09" r="2.83" fill="#f2f1f1"/>
<circle cx="299.54" cy="30.19" r="2.55" fill="#dc6e6e"/>
<circle cx="269.87" cy="22.21" r="3.09" fill="#eb1f1f"/>
<circle cx="280.23" cy="41.47" r="2.98" fill="#e17171"/>
<circle cx="277.38" cy="30.89" r="3.18" fill="#e81414"/>
<circle cx="296.47" cy="44.25" r="2.51" fill="#e31313"/>
<circle cx="291.14" cy="47.82" r="2.11" fill="#e67575"/>
<circle cx="267.9" cy="27" r="3.45" fill="#e11313"/>
<circle cx="280.87" cy="42.25" r="3.55" fill="#e77777"/>
<circle cx="269.93" cy="22.4" r="2.14" fill="#e67575"/>
<circle cx="280.94" cy="33.07" r="2.93" fill="#ca0e0e"/>
<circle cx="282.9" cy="44.27" r="2.15" fill="#eb1b1b"/>
<circle cx="270.28" cy="28.31" r="3.76" fill="#e27171"/>
<circle cx="272.21" cy="24.41" r="2.3" fill="#e71414"/>
<circle cx="273.69" cy="41.24" r="2.74" fill="#e77777"/>
<circle cx="271.97" cy="36" r="2.62" fill="#ea1515"/>
<circle cx="286.72" cy="19.84" r="2.08" fill="#ea1717"/>
<circle cx="270.29" cy="42.54" r="2.67" fill="#eb1c1c"/>
<circle cx="289.29" cy="32.42" r="2.93" fill="#da6d6d"/>
<circle cx="295.27" cy="25.76" r="2.98" fill="#dd6e6e"/>
<circle cx="277.19" cy="42.26" r="3.08" fill="#cb1515"/>
<circle cx="288.99" cy="39.47" r="2.94" fill="#e41313"/>
<circle cx="275.74" cy="28.29" r="2.91" fill="#eb2020"/>
<circle cx="276.3" cy="63.22" r="3.42" fill="#cb1414"/>
<circle cx="264.03" cy="29.17" r="3.03" fill="#e27171"/>
<circle cx="297.97" cy="38.36" r="3.29" fill="#ecb6b6"/>
<circle cx="263.24" cy="22.42" r="2.29" fill="#f0eeee"/>
<circle cx="270.48" cy="21.22" r="2.45" fill="#e17070"/>
<circle cx="285.97" cy="25.38" r="2.22" fill="#e67474"/>
<circle cx="281.19" cy="51.85" r="2.56" fill="#c70606"/>
<circle cx="276.48" cy="38.51" r="3.6" fill="#ea1616"/>
<circle cx="288.89" cy="58.26" r="3.21" fill="#eb1b1b"/>
<circle cx="263.21" cy="30.95" r="1.72" fill="#e11313"/>
<circle cx="278.61" cy="28.74" r="2.11" fill="#e81414"/>
<circle cx="281.07" cy="22.49" r="2.91" fill="#f0baba"/>
<circle cx="272.22" cy="51.57" r="2.31" fill="#cb1313"/>
<circle cx="278.74" cy="47.41" r="3.22" fill="#c30606"/>
<circle cx="271.36" cy="37.85" r="2.22" fill="#ea1515"/>
<circle cx="273.08" cy="40.37" r="2.69" fill="#ea1717"/>
<circle cx="282.53" cy="33.94" r="2.12" fill="#e71414"/>
<circle cx="279.86" cy="57.67" r="2.81" fill="#c20606"/>
<circle cx="300.42" cy="33.81" r="3.44" fill="#f0bbbb"/>
<circle cx="287.52" cy="49.3" r="2.79" fill="#eb1f1f"/>
<circle cx="293.3" cy="50.88" r="2.11" fill="#e77a7a"/>
<circle cx="286.96" cy="47.68" r="2.11" fill="#ea1414"/>
<circle cx="278.31" cy="34.66" r="3.66" fill="#de1313"/>
<circle cx="283.57" cy="27.35" r="3.77" fill="#c10606"/>
<circle cx="263.67" cy="27.87" r="3.53" fill="#eb2020"/>
<circle cx="281.72" cy="51.61" r="2.97" fill="#ea1616"/>
<circle cx="293.59" cy="51.54" r="2.03" fill="#ca0d0d"/>
<circle cx="292.23" cy="35.44" r="3.17" fill="#eab4b4"/>
<circle cx="277.74" cy="30.25" r="2.52" fill="#e77676"/>
<circle cx="302.15" cy="38.04" r="1.45" fill="#e31313"/>
<circle cx="284.46" cy="46.98" r="3.69" fill="#de1313"/>
<circle cx="286.8" cy="65.18" r="2.96" fill="#f0baba"/>
<circle cx="292.62" cy="33.88" r="3.58" fill="#f0baba"/>
<circle cx="298.95" cy="24.97" r="1.44" fill="#e6e4e4"/>
<circle cx="262.86" cy="26.36" r="2.87" fill="#eb1c1c"/>
<circle cx="280.91" cy="43.88" r="2.45" fill="#eb1a1a"/>
<circle cx="274.56" cy="36.22" r="2.87" fill="#eb2222"/>
<circle cx="298.08" cy="41.31" r="2" fill="#222bda"/>
<circle cx="292.12" cy="54.64" r="2.65" fill="#e61414"/>
<circle cx="269.32" cy="42.42" r="3.01" fill="#e81414"/>
<circle cx="278.89" cy="28.96" r="2.35" fill="#e31313"/>
<circle cx="284.37" cy="38.86" r="3.3" fill="#e01313"/>
<circle cx="300.22" cy="40.96" r="1.68" fill="#ea1414"/>
<circle cx="279.56" cy="34.55" r="3.27" fill="#ea1616"/>
<circle cx="288.97" cy="41.61" r="2.36" fill="#c90d0d"/>
<circle cx="286.28" cy="29.61" r="2.91" fill="#bf0606"/>
<circle cx="293.1" cy="37.11" r="3.34" fill="#eae9e9"/>
<circle cx="268.23" cy="29.93" r="2.22" fill="#c80606"/>
<circle cx="294.83" cy="39.96" r="2.18" fill="#e77878"/>
<circle cx="278.87" cy="30.49" r="2.09" fill="#df1313"/>
<circle cx="280.42" cy="49.63" r="3.67" fill="#ca1010"/>
<circle cx="279.72" cy="38.34" r="3.29" fill="#dd1313"/>
<circle cx="289.55" cy="48.55" r="2.26" fill="#eb1c1c"/>
<circle cx="284.95" cy="38.44" r="3.73" fill="#e37171"/>
<circle cx="274.8" cy="35.92" r="2.07" fill="#e77878"/>
<circle cx="288.49" cy="54.21" r="3.72" fill="#eb1b1b"/>
<circle cx="293.25" cy="50.32" r="2.17" fill="#ca1111"/>
<circle cx="285.5" cy="62.42" r="2.36" fill="#c70606"/>
<circle cx="270.65" cy="31.43" r="3.71" fill="#db6e6e"/>
<circle cx="293.07" cy="42.47" r="3.33" fill="#f0baba"/>
<circle cx="281.42" cy="44.57" r="2.48" fill="#dd1313"/>
<circle cx="278.11" cy="44.63" r="2.04" fill="#e71414"/>
<circle cx="283.68" cy="55.85" r="2.64" fill="#e57373"/>
<circle cx="297.8" cy="38.62" r="3.41" fill="#c00606"/>
<circle cx="278.42" cy="48.68" r="2.55" fill="#e31313"/>
<circle cx="278.45" cy="38.36" r="3.4" fill="#eb1c1c"/>
<circle cx="289.5" cy="59.62" r="3.71" fill="#e51414"/>
<circle cx="280.95" cy="33.09" r="2.31" fill="#e57272"/>
<circle cx="269.27" cy="42.8" r="3.59" fill="#c90c0c"/>
<circle cx="276.7" cy="43.03" r="3.05" fill="#eeb7b7"/>
<circle cx="272.76" cy="55.67" r="3.57" fill="#e91414"/>
<circle cx="285.34" cy="57.43" r="2.07" fill="#e77a7a"/>
<circle cx="287.5" cy="36.58" r="2.1" fill="#e67373"/>
<circle cx="284.04" cy="39.22" r="2.5" fill="#eb1e1e"/>
<circle cx="290.88" cy="54.22" r="3.12" fill="#c60606"/>
<circle cx="268.34" cy="41.56" r="3.02" fill="#e91414"/>
<circle cx="269.59" cy="58.52" r="2.27" fill="#e07070"/>
<circle cx="296.4" cy="35.4" r="2.57" fill="#f0b9b9"/>
<circle cx="286.15" cy="43.16" r="3.17" fill="#d86c6c"/>
<circle cx="275.34" cy="64.23" r="2.14" fill="#e37171"/>
<circle cx="272.68" cy="65.35" r="1.4" fill="#edb6b6"/>
<circle cx="270.04" cy="51.13" r="3.72" fill="#e31313"/>
<circle cx="277.22" cy="48.5" r="3.29" fill="#eb1b1b"/>
<circle cx="280.32" cy="45.9" r="2.05" fill="#eb2222"/>
<circle cx="281.15" cy="45.88" r="3.31" fill="#e11313"/>
<circle cx="286.02" cy="66.1" r="2.53" fill="#ea1414"/>
<circle cx="283.14" cy="45.59" r="2.4" fill="#e77878"/>
<circle cx="284.35" cy="54.32" r="3.66" fill="#c80707"/>
<circle cx="283.83" cy="38.73" r="2.89" fill="#eb2020"/>
<circle cx="286.01" cy="65.27" r="2.12" fill="#e31313"/>
<circle cx="280.95" cy="45.74" r="2.84" fill="#ea1616"/>
<circle cx="269.51" cy="43.6" r="2.76" fill="#e17070"/>
<circle cx="283.37" cy="59.43" r="2.36" fill="#dc1313"/>
<circle cx="280.83" cy="57.71" r="3.65" fill="#eb1a1a"/>
<circle cx="286.46" cy="56.48" r="2.68" fill="#e31313"/>
<circle cx="278.34" cy="51.31" r="2.83" fill="#c90c0c"/>
<circle cx="288.11" cy="57.87" r="2.62" fill="#eb2222"/>
<circle cx="290.56" cy="43.61" r="2.69" fill="#e77777"/>
<circle cx="278.81" cy="61.45" r="3.28" fill="#eb2121"/>
<circle cx="279.41" cy="65.43" r="3.58" fill="#ea1818"/>
<circle cx="289.65" cy="61.9" r="2.99" fill="#e77979"/>
<circle cx="292.79" cy="56.44" r="1.81" fill="#e01313"/>
<circle cx="272.83" cy="50.24" r="3.18" fill="#df1313"/>
<circle cx="291.58" cy="46.13" r="3.28" fill="#c80707"/>
<circle cx="271.5" cy="55.27" r="3.08" fill="#e61414"/>
<circle cx="269.61" cy="57.72" r="2.43" fill="#e47272"/>
<circle cx="282.74" cy="48.37" r="3.07" fill="#c60606"/>
<circle cx="283.56" cy="64.6" r="2.96" fill="#ca1010"/>
<circle cx="285.13" cy="59.01" r="2.64" fill="#ca0d0d"/>
<circle cx="274.4" cy="62.23" r="3.77" fill="#e81414"/>
<circle cx="282.03" cy="50.9" r="2.77" fill="#c50606"/>
<circle cx="279.43" cy="49.74" r="2.59" fill="#e21313"/>
<circle cx="279.33" cy="52.33" r="2.36" fill="#c40606"/>
<circle cx="282.96" cy="55.51" r="2.17" fill="#eb1d1d"/>
<circle cx="280.28" cy="54.99" r="2.72" fill="#dc1313"/>
<circle cx="281.46" cy="59.33" r="2.35" fill="#e81414"/>
<circle cx="293.01" cy="58.66" r="1.28" fill="#e71414"/>
<circle cx="287.52" cy="61.16" r="2.09" fill="#cb1111"/>
<circle cx="284.9" cy="53.71" r="2.56" fill="#e77878"/>
<circle cx="278.73" cy="49.91" r="3.58" fill="#e61414"/>
<circle cx="271.05" cy="62.4" r="1.81" fill="#dd1313"/>
<circle cx="292.42" cy="53.64" r="3.5" fill="#c30606"/>
<circle cx="279.64" cy="63.17" r="3.32" fill="#c90b0b"/>
<circle cx="286.96" cy="54.78" r="2.71" fill="#e61414"/>
<circle cx="274.63" cy="55.52" r="3.4" fill="#e11313"/>
<circle cx="270.7" cy="57.62" r="2.75" fill="#e81414"/>
<circle cx="286.01" cy="58.37" r="2.37" fill="#e31313"/>
<circle cx="280.54" cy="59.63" r="2.86" fill="#ca0d0d"/>
<circle cx="277.41" cy="66.61" r="2.19" fill="#d96c6c"/>
<circle cx="287.29" cy="13.66" r="2.65" fill="url(#sh)"/>
<circle cx="291.77" cy="20.79" r="2.71" fill="url(#sh)"/>
<circle cx="274.96" cy="20.62" r="2.59" fill="url(#sh)"/>
<circle cx="292.9" cy="23.88" r="2.82" fill="url(#sh)"/>
<circle cx="283.4" cy="21.71" r="2.32" fill="url(#sh)"/>
<circle cx="268.74" cy="19.97" r="3.76" fill="url(#sh)"/>
<circle cx="278.99" cy="19.19" r="2.39" fill="url(#sh)"/>
<circle cx="283.44" cy="17.33" r="2.89" fill="url(#sh)"/>
<circle cx="290.28" cy="15.59" r="2.8" fill="url(#sh)"/>
<circle cx="282.69" cy="27.61" r="2.61" fill="url(#sh)"/>
<circle cx="288.43" cy="24.78" r="2.09" fill="url(#sh)"/>
<circle cx="277.61" cy="20.54" r="2.05" fill="url(#sh)"/>
<circle cx="274.8" cy="17.2" r="1.44" fill="url(#sh)"/>
<circle cx="282.06" cy="25.16" r="3.38" fill="url(#sh)"/>
<circle cx="266.25" cy="23.56" r="2.67" fill="url(#sh)"/>
<circle cx="289.32" cy="18.69" r="3.31" fill="url(#sh)"/>
<circle cx="289.41" cy="14.45" r="3.36" fill="url(#sh)"/>
<circle cx="274.75" cy="22.19" r="3.02" fill="url(#sh)"/>
<circle cx="264.12" cy="21.15" r="2.9" fill="url(#sh)"/>
<circle cx="276.01" cy="33.9" r="2.63" fill="url(#sh)"/>
<circle cx="266.04" cy="30.09" r="3.3" fill="url(#sh)"/>
<circle cx="286.21" cy="15.66" r="2.05" fill="url(#sh)"/>
<circle cx="291.5" cy="21.59" r="2.48" fill="url(#sh)"/>
<circle cx="271.7" cy="17.91" r="1.74" fill="url(#sh)"/>
<circle cx="264.86" cy="33.51" r="2.6" fill="url(#sh)"/>
<circle cx="264.94" cy="35.68" r="2.1" fill="url(#sh)"/>
<circle cx="298.07" cy="29.06" r="3.73" fill="url(#sh)"/>
<circle cx="271.76" cy="30.96" r="2.75" fill="url(#sh)"/>
<circle cx="270.48" cy="21.79" r="2.47" fill="url(#sh)"/>
<circle cx="294.64" cy="29.35" r="2.53" fill="url(#sh)"/>
<circle cx="263.32" cy="21.15" r="2.67" fill="url(#sh)"/>
<circle cx="280.97" cy="35.39" r="3.61" fill="url(#sh)"/>
<circle cx="292.93" cy="24.09" r="3.8" fill="url(#sh)"/>
<circle cx="271.37" cy="18.48" r="1.81" fill="url(#sh)"/>
<circle cx="290.49" cy="31.55" r="2.91" fill="url(#sh)"/>
<circle cx="282.95" cy="34.9" r="3.69" fill="url(#sh)"/>
<circle cx="274.52" cy="32.35" r="2.13" fill="url(#sh)"/>
<circle cx="287.62" cy="21.18" r="3.6" fill="url(#sh)"/>
<circle cx="296.42" cy="27.11" r="3.19" fill="url(#sh)"/>
<circle cx="281.8" cy="33.18" r="3.53" fill="url(#sh)"/>
<circle cx="273.91" cy="31.99" r="2.56" fill="url(#sh)"/>
<circle cx="280.82" cy="36.09" r="2.47" fill="url(#sh)"/>
<circle cx="268.41" cy="22.94" r="2.31" fill="url(#sh)"/>
<circle cx="285.35" cy="19.42" r="2.77" fill="url(#sh)"/>
<circle cx="280.32" cy="23.73" r="3.49" fill="url(#sh)"/>
<circle cx="285.87" cy="28.32" r="2.06" fill="url(#sh)"/>
<circle cx="275.42" cy="30.17" r="2.73" fill="url(#sh)"/>
<circle cx="295.82" cy="20.72" r="3.43" fill="url(#sh)"/>
<circle cx="283.63" cy="36.51" r="2.26" fill="url(#sh)"/>
<circle cx="270.82" cy="26.25" r="3.47" fill="url(#sh)"/>
<circle cx="288.59" cy="23.03" r="3.36" fill="url(#sh)"/>
<circle cx="283.88" cy="16.19" r="2.56" fill="url(#sh)"/>
<circle cx="268.14" cy="35.07" r="3.34" fill="url(#sh)"/>
<circle cx="285.63" cy="33.4" r="2.08" fill="url(#sh)"/>
<circle cx="267.79" cy="33.12" r="3.49" fill="url(#sh)"/>
<circle cx="261.68" cy="26.23" r="1.6" fill="url(#sh)"/>
<circle cx="277.4" cy="32.49" r="3.17" fill="url(#sh)"/>
<circle cx="291.79" cy="26.64" r="2.4" fill="url(#sh)"/>
<circle cx="271.24" cy="24.41" r="3.79" fill="url(#sh)"/>
<circle cx="276.66" cy="16.96" r="1.62" fill="url(#sh)"/>
<circle cx="292.41" cy="39.05" r="3.33" fill="url(#sh)"/>
<circle cx="286.91" cy="18.86" r="2.15" fill="url(#sh)"/>
<circle cx="286.67" cy="20.98" r="3.35" fill="url(#sh)"/>
<circle cx="276.48" cy="43.5" r="2.78" fill="url(#sh)"/>
<circle cx="282.78" cy="42.78" r="2.02" fill="url(#sh)"/>
<circle cx="273.24" cy="38.35" r="2.54" fill="url(#sh)"/>
<circle cx="279.77" cy="38.65" r="2.96" fill="url(#sh)"/>
<circle cx="275.07" cy="17.95" r="2.09" fill="url(#sh)"/>
<circle cx="277.5" cy="33.47" r="2.32" fill="url(#sh)"/>
<circle cx="277.37" cy="40.38" r="2.54" fill="url(#sh)"/>
<circle cx="276.94" cy="40.64" r="2.78" fill="url(#sh)"/>
<circle cx="294.44" cy="28.15" r="3.53" fill="url(#sh)"/>
<circle cx="291.54" cy="32.17" r="2.67" fill="url(#sh)"/>
<circle cx="283.24" cy="46.97" r="2.64" fill="url(#sh)"/>
<circle cx="275.47" cy="46.65" r="2.41" fill="url(#sh)"/>
<circle cx="298.82" cy="37.09" r="2.41" fill="url(#sh)"/>
<circle cx="297.58" cy="34.12" r="3.32" fill="url(#sh)"/>
<circle cx="266.06" cy="27.42" r="2.45" fill="url(#sh)"/>
<circle cx="265.59" cy="19.2" r="2.23" fill="url(#sh)"/>
<circle cx="270.84" cy="22.62" r="2.28" fill="url(#sh)"/>
<circle cx="301.68" cy="39.03" r="2.04" fill="url(#sh)"/>
<circle cx="298.24" cy="30.94" r="3.09" fill="url(#sh)"/>
<circle cx="275.64" cy="26.25" r="2.69" fill="url(#sh)"/>
<circle cx="286.94" cy="48.25" r="3.37" fill="url(#sh)"/>
<circle cx="293.59" cy="38.68" r="2.68" fill="url(#sh)"/>
<circle cx="271.77" cy="26.41" r="2.95" fill="url(#sh)"/>
<circle cx="288.33" cy="45.02" r="2.65" fill="url(#sh)"/>
<circle cx="266.39" cy="42.53" r="1.92" fill="url(#sh)"/>
<circle cx="293.23" cy="40.24" r="3.72" fill="url(#sh)"/>
<circle cx="302.38" cy="36.22" r="1.88" fill="url(#sh)"/>
<circle cx="286.75" cy="24.83" r="2.33" fill="url(#sh)"/>
<circle cx="268.45" cy="34.58" r="3.04" fill="url(#sh)"/>
<circle cx="283.11" cy="36.53" r="3.11" fill="url(#sh)"/>
<circle cx="273.24" cy="46.21" r="3.7" fill="url(#sh)"/>
<circle cx="290.61" cy="46.83" r="3.76" fill="url(#sh)"/>
<circle cx="289.52" cy="40.68" r="3.73" fill="url(#sh)"/>
<circle cx="293.3" cy="33.63" r="2.37" fill="url(#sh)"/>
<circle cx="289.52" cy="40.95" r="2.87" fill="url(#sh)"/>
<circle cx="283.01" cy="54.17" r="3.51" fill="url(#sh)"/>
<circle cx="272.78" cy="41.09" r="3.15" fill="url(#sh)"/>
<circle cx="287.37" cy="44.91" r="2.89" fill="url(#sh)"/>
<circle cx="295.13" cy="47.14" r="1.67" fill="url(#sh)"/>
<circle cx="294.15" cy="53.25" r="1.4" fill="url(#sh)"/>
<circle cx="268.05" cy="51.93" r="2.13" fill="url(#sh)"/>
<circle cx="294.43" cy="33.56" r="2.82" fill="url(#sh)"/>
<circle cx="282.66" cy="20.69" r="2.33" fill="url(#sh)"/>
<circle cx="271.92" cy="49.63" r="2.2" fill="url(#sh)"/>
<circle cx="279.87" cy="43.78" r="2.52" fill="url(#sh)"/>
<circle cx="273.73" cy="29.1" r="2.63" fill="url(#sh)"/>
<circle cx="275.03" cy="24.15" r="2.75" fill="url(#sh)"/>
<circle cx="273.78" cy="33.25" r="3.76" fill="url(#sh)"/>
<circle cx="268.58" cy="44.96" r="2.57" fill="url(#sh)"/>
<circle cx="283.21" cy="42.05" r="2.3" fill="url(#sh)"/>
<circle cx="271.57" cy="28.57" r="2.22" fill="url(#sh)"/>
<circle cx="300.07" cy="36.52" r="3.23" fill="url(#sh)"/>
<circle cx="276.23" cy="20.14" r="2.56" fill="url(#sh)"/>
<circle cx="284.89" cy="17.14" r="2.15" fill="url(#sh)"/>
<circle cx="297.15" cy="36.74" r="2.94" fill="url(#sh)"/>
<circle cx="280.83" cy="22.56" r="2.61" fill="url(#sh)"/>
<circle cx="284.3" cy="52.59" r="2.68" fill="url(#sh)"/>
<circle cx="269.07" cy="44.93" r="3.72" fill="url(#sh)"/>
<circle cx="262.38" cy="24.71" r="1.83" fill="url(#sh)"/>
<circle cx="291.15" cy="43.49" r="2.7" fill="url(#sh)"/>
<circle cx="282.75" cy="51.56" r="2.57" fill="url(#sh)"/>
<circle cx="286.8" cy="30.67" r="2.45" fill="url(#sh)"/>
<circle cx="287.54" cy="30.87" r="2.17" fill="url(#sh)"/>
<circle cx="295.7" cy="45.95" r="1.65" fill="url(#sh)"/>
<circle cx="293.66" cy="38.94" r="2.22" fill="url(#sh)"/>
<circle cx="280.11" cy="22.02" r="2.95" fill="url(#sh)"/>
<circle cx="280.01" cy="49.33" r="3.08" fill="url(#sh)"/>
<circle cx="264.82" cy="29.22" r="2.98" fill="url(#sh)"/>
<circle cx="295.35" cy="26.24" r="3.36" fill="url(#sh)"/>
<circle cx="269.7" cy="37.17" r="3.44" fill="url(#sh)"/>
<circle cx="275.7" cy="29.54" r="3.39" fill="url(#sh)"/>
<circle cx="272.23" cy="18.39" r="2.45" fill="url(#sh)"/>
<circle cx="273.94" cy="27.25" r="2.05" fill="url(#sh)"/>
<circle cx="271.68" cy="40.46" r="2.67" fill="url(#sh)"/>
<circle cx="272.45" cy="21.81" r="3.48" fill="url(#sh)"/>
<circle cx="267.38" cy="28.24" r="3.19" fill="url(#sh)"/>
<circle cx="299.46" cy="36.32" r="2.7" fill="url(#sh)"/>
<circle cx="295.18" cy="33.43" r="3.45" fill="url(#sh)"/>
<circle cx="287.3" cy="36.36" r="2.23" fill="url(#sh)"/>
<circle cx="267.57" cy="21.79" r="3.48" fill="url(#sh)"/>
<circle cx="300.09" cy="33.93" r="2.38" fill="url(#sh)"/>
<circle cx="292.42" cy="30.8" r="3.45" fill="url(#sh)"/>
<circle cx="292.09" cy="30.65" r="3.16" fill="url(#sh)"/>
<circle cx="296.13" cy="22.58" r="2.17" fill="url(#sh)"/>
<circle cx="287.04" cy="39.67" r="2.94" fill="url(#sh)"/>
<circle cx="283.86" cy="45.65" r="2.52" fill="url(#sh)"/>
<circle cx="296.25" cy="30.1" r="2.75" fill="url(#sh)"/>
<circle cx="296.56" cy="36.35" r="3.54" fill="url(#sh)"/>
<circle cx="297.12" cy="32.66" r="2.65" fill="url(#sh)"/>
<circle cx="293.64" cy="40.61" r="3.29" fill="url(#sh)"/>
<circle cx="265.18" cy="39.92" r="1.72" fill="url(#sh)"/>
<circle cx="280.27" cy="42.18" r="2.8" fill="url(#sh)"/>
<circle cx="273.28" cy="53.88" r="2.46" fill="url(#sh)"/>
<circle cx="280.67" cy="25.72" r="2.64" fill="url(#sh)"/>
<circle cx="281.11" cy="21.16" r="3.29" fill="url(#sh)"/>
<circle cx="279.07" cy="54.98" r="2.87" fill="url(#sh)"/>
<circle cx="270.04" cy="38.12" r="3.54" fill="url(#sh)"/>
<circle cx="272.85" cy="51.96" r="2.74" fill="url(#sh)"/>
<circle cx="275.32" cy="22.24" r="2.96" fill="url(#sh)"/>
<circle cx="284.78" cy="21.35" r="3.16" fill="url(#sh)"/>
<circle cx="279.45" cy="17.19" r="3.5" fill="url(#sh)"/>
<circle cx="295.11" cy="34.71" r="2.27" fill="url(#sh)"/>
<circle cx="288.29" cy="36.69" r="3.02" fill="url(#sh)"/>
<circle cx="285.76" cy="27.49" r="3.46" fill="url(#sh)"/>
<circle cx="296.58" cy="27.77" r="2.64" fill="url(#sh)"/>
<circle cx="290.08" cy="28.22" r="3.55" fill="url(#sh)"/>
<circle cx="267.27" cy="30.4" r="3.17" fill="url(#sh)"/>
<circle cx="275.83" cy="42.09" r="2.63" fill="url(#sh)"/>
<circle cx="288.12" cy="53.27" r="2.19" fill="url(#sh)"/>
<circle cx="264.36" cy="28.21" r="2.74" fill="url(#sh)"/>
<circle cx="291.89" cy="26.79" r="3.42" fill="url(#sh)"/>
<circle cx="294.25" cy="46.05" r="3.42" fill="url(#sh)"/>
<circle cx="289.73" cy="53.7" r="2.63" fill="url(#sh)"/>
<circle cx="262.02" cy="22.63" r="2.03" fill="url(#sh)"/>
<circle cx="271.61" cy="42.65" r="2.08" fill="url(#sh)"/>
<circle cx="292.81" cy="58.37" r="1.6" fill="url(#sh)"/>
<circle cx="268.06" cy="36.16" r="3.26" fill="url(#sh)"/>
<circle cx="271.99" cy="29.08" r="3.69" fill="url(#sh)"/>
<circle cx="288.41" cy="39.11" r="2.35" fill="url(#sh)"/>
<circle cx="278.79" cy="23.37" r="2.18" fill="url(#sh)"/>
<circle cx="286.01" cy="34.37" r="3.73" fill="url(#sh)"/>
<circle cx="290.65" cy="23.3" r="3.21" fill="url(#sh)"/>
<circle cx="275.28" cy="45.84" r="2.66" fill="url(#sh)"/>
<circle cx="275.33" cy="52.71" r="3.22" fill="url(#sh)"/>
<circle cx="279.3" cy="43.74" r="2.44" fill="url(#sh)"/>
<circle cx="273.16" cy="63.61" r="3.19" fill="url(#sh)"/>
<circle cx="276.27" cy="29.31" r="2.65" fill="url(#sh)"/>
<circle cx="287.63" cy="58.54" r="2.01" fill="url(#sh)"/>
<circle cx="296.85" cy="20.52" r="2.48" fill="url(#sh)"/>
<circle cx="283.5" cy="64.71" r="3.56" fill="url(#sh)"/>
<circle cx="282.22" cy="47.59" r="2.15" fill="url(#sh)"/>
<circle cx="285.39" cy="50.22" r="2.01" fill="url(#sh)"/>
<circle cx="279.98" cy="28.98" r="2.32" fill="url(#sh)"/>
<circle cx="276.86" cy="39.2" r="2.28" fill="url(#sh)"/>
<circle cx="272.92" cy="24.89" r="3.45" fill="url(#sh)"/>
<circle cx="274.1" cy="43.69" r="3.49" fill="url(#sh)"/>
<circle cx="299.34" cy="32.8" r="2.83" fill="url(#sh)"/>
<circle cx="286.52" cy="23.23" r="2.63" fill="url(#sh)"/>
<circle cx="275.66" cy="60.58" r="2.51" fill="url(#sh)"/>
<circle cx="283.56" cy="65.09" r="2.58" fill="url(#sh)"/>
<circle cx="292.65" cy="41.76" r="3.38" fill="url(#sh)"/>
<circle cx="285.9" cy="19.27" r="2.72" fill="url(#sh)"/>
<circle cx="284.67" cy="16.73" r="3.06" fill="url(#sh)"/>
<circle cx="277.04" cy="42.54" r="2.21" fill="url(#sh)"/>
<circle cx="275.35" cy="52.06" r="3.33" fill="url(#sh)"/>
<circle cx="270.86" cy="26.11" r="3.25" fill="url(#sh)"/>
<circle cx="280.32" cy="65.28" r="2.54" fill="url(#sh)"/>
<circle cx="276.43" cy="55.88" r="2.05" fill="url(#sh)"/>
<circle cx="283.93" cy="34.58" r="2.63" fill="url(#sh)"/>
<circle cx="273.74" cy="26.55" r="3.71" fill="url(#sh)"/>
<circle cx="280.73" cy="20.34" r="3.12" fill="url(#sh)"/>
<circle cx="272.97" cy="63.34" r="2.24" fill="url(#sh)"/>
<circle cx="264.65" cy="20.54" r="2.88" fill="url(#sh)"/>
<circle cx="296.51" cy="21.44" r="2.49" fill="url(#sh)"/>
<circle cx="290.76" cy="14.09" r="3.66" fill="url(#sh)"/>
<circle cx="274.74" cy="53.54" r="3.05" fill="url(#sh)"/>
<circle cx="268.26" cy="42.08" r="3.75" fill="url(#sh)"/>
<circle cx="282.16" cy="35.92" r="3.3" fill="url(#sh)"/>
<circle cx="289.01" cy="53.73" r="2.94" fill="url(#sh)"/>
<circle cx="267.3" cy="48.17" r="1.43" fill="url(#sh)"/>
<circle cx="279.33" cy="65" r="2.46" fill="url(#sh)"/>
<circle cx="294.62" cy="40.47" r="3.5" fill="url(#sh)"/>
<circle cx="293.37" cy="43.03" r="2.54" fill="url(#sh)"/>
<circle cx="292.53" cy="54.39" r="2.52" fill="url(#sh)"/>
<circle cx="297.7" cy="41.05" r="2.62" fill="url(#sh)"/>
<circle cx="276.22" cy="39.72" r="3.27" fill="url(#sh)"/>
<circle cx="288.18" cy="22.11" r="3.66" fill="url(#sh)"/>
<circle cx="273.25" cy="18.47" r="1.88" fill="url(#sh)"/>
<circle cx="287.47" cy="37.98" r="3.22" fill="url(#sh)"/>
<circle cx="293.42" cy="20.37" r="3.2" fill="url(#sh)"/>
<circle cx="288.7" cy="17.9" r="3.68" fill="url(#sh)"/>
<circle cx="284.14" cy="27.06" r="2.3" fill="url(#sh)"/>
<circle cx="284.9" cy="52.46" r="2.38" fill="url(#sh)"/>
<circle cx="286.43" cy="20.13" r="2.25" fill="url(#sh)"/>
<circle cx="281.99" cy="36.02" r="2.36" fill="url(#sh)"/>
<circle cx="292.79" cy="27.74" r="2.02" fill="url(#sh)"/>
<circle cx="288.15" cy="63.2" r="2.27" fill="url(#sh)"/>
<circle cx="281.25" cy="56.25" r="2.79" fill="url(#sh)"/>
<circle cx="265.52" cy="27.78" r="3.43" fill="url(#sh)"/>
<circle cx="287.98" cy="19.51" r="3.14" fill="url(#sh)"/>
<circle cx="270.87" cy="37.39" r="3.07" fill="url(#sh)"/>
<circle cx="278.09" cy="24.12" r="3.4" fill="url(#sh)"/>
<circle cx="287.35" cy="62.43" r="2.25" fill="url(#sh)"/>
<circle cx="276.3" cy="55.89" r="3.36" fill="url(#sh)"/>
<circle cx="270.26" cy="60.05" r="3.16" fill="url(#sh)"/>
<circle cx="280.23" cy="62.58" r="3.45" fill="url(#sh)"/>
<circle cx="275.28" cy="44.93" r="3.05" fill="url(#sh)"/>
<circle cx="264.29" cy="29.54" r="2.6" fill="url(#sh)"/>
<circle cx="283.58" cy="37.85" r="3.31" fill="url(#sh)"/>
<circle cx="270.15" cy="52.68" r="3.22" fill="url(#sh)"/>
<circle cx="284.2" cy="64.72" r="2.65" fill="url(#sh)"/>
<circle cx="276.08" cy="45.54" r="2.54" fill="url(#sh)"/>
<circle cx="281" cy="26.46" r="2.31" fill="url(#sh)"/>
<circle cx="270.61" cy="42.05" r="3.25" fill="url(#sh)"/>
<circle cx="271.41" cy="51.71" r="2" fill="url(#sh)"/>
<circle cx="286.31" cy="64.93" r="3.29" fill="url(#sh)"/>
<circle cx="270.71" cy="18.64" r="2.02" fill="url(#sh)"/>
<circle cx="286.43" cy="47.3" r="2.12" fill="url(#sh)"/>
<circle cx="267.64" cy="22.38" r="3.72" fill="url(#sh)"/>
<circle cx="273.62" cy="35.46" r="3.31" fill="url(#sh)"/>
<circle cx="268.71" cy="25.33" r="3.41" fill="url(#sh)"/>
<circle cx="285" cy="40.58" r="2.36" fill="url(#sh)"/>
<circle cx="269.37" cy="45.03" r="2.23" fill="url(#sh)"/>
<circle cx="279.5" cy="39.52" r="3.05" fill="url(#sh)"/>
<circle cx="278.27" cy="66.16" r="3.63" fill="url(#sh)"/>
<circle cx="294.34" cy="19.09" r="2.83" fill="url(#sh)"/>
<circle cx="299.54" cy="30.19" r="2.55" fill="url(#sh)"/>
<circle cx="269.87" cy="22.21" r="3.09" fill="url(#sh)"/>
<circle cx="280.23" cy="41.47" r="2.98" fill="url(#sh)"/>
<circle cx="277.38" cy="30.89" r="3.18" fill="url(#sh)"/>
<circle cx="296.47" cy="44.25" r="2.51" fill="url(#sh)"/>
<circle cx="291.14" cy="47.82" r="2.11" fill="url(#sh)"/>
<circle cx="267.9" cy="27" r="3.45" fill="url(#sh)"/>
<circle cx="280.87" cy="42.25" r="3.55" fill="url(#sh)"/>
<circle cx="269.93" cy="22.4" r="2.14" fill="url(#sh)"/>
<circle cx="280.94" cy="33.07" r="2.93" fill="url(#sh)"/>
<circle cx="282.9" cy="44.27" r="2.15" fill="url(#sh)"/>
<circle cx="270.28" cy="28.31" r="3.76" fill="url(#sh)"/>
<circle cx="272.21" cy="24.41" r="2.3" fill="url(#sh)"/>
<circle cx="273.69" cy="41.24" r="2.74" fill="url(#sh)"/>
<circle cx="271.97" cy="36" r="2.62" fill="url(#sh)"/>
<circle cx="286.72" cy="19.84" r="2.08" fill="url(#sh)"/>
<circle cx="270.29" cy="42.54" r="2.67" fill="url(#sh)"/>
<circle cx="289.29" cy="32.42" r="2.93" fill="url(#sh)"/>
<circle cx="295.27" cy="25.76" r="2.98" fill="url(#sh)"/>
<circle cx="277.19" cy="42.26" r="3.08" fill="url(#sh)"/>
<circle cx="288.99" cy="39.47" r="2.94" fill="url(#sh)"/>
<circle cx="275.74" cy="28.29" r="2.91" fill="url(#sh)"/>
<circle cx="276.3" cy="63.22" r="3.42" fill="url(#sh)"/>
<circle cx="264.03" cy="29.17" r="3.03" fill="url(#sh)"/>
<circle cx="297.97" cy="38.36" r="3.29" fill="url(#sh)"/>
<circle cx="263.24" cy="22.42" r="2.29" fill="url(#sh)"/>
<circle cx="270.48" cy="21.22" r="2.45" fill="url(#sh)"/>
<circle cx="285.97" cy="25.38" r="2.22" fill="url(#sh)"/>
<circle cx="281.19" cy="51.85" r="2.56" fill="url(#sh)"/>
<circle cx="276.48" cy="38.51" r="3.6" fill="url(#sh)"/>
<circle cx="288.89" cy="58.26" r="3.21" fill="url(#sh)"/>
<circle cx="263.21" cy="30.95" r="1.72" fill="url(#sh)"/>
<circle cx="278.61" cy="28.74" r="2.11" fill="url(#sh)"/>
<circle cx="281.07" cy="22.49" r="2.91" fill="url(#sh)"/>
<circle cx="272.22" cy="51.57" r="2.31" fill="url(#sh)"/>
<circle cx="278.74" cy="47.41" r="3.22" fill="url(#sh)"/>
<circle cx="271.36" cy="37.85" r="2.22" fill="url(#sh)"/>
<circle cx="273.08" cy="40.37" r="2.69" fill="url(#sh)"/>
<circle cx="282.53" cy="33.94" r="2.12" fill="url(#sh)"/>
<circle cx="279.86" cy="57.67" r="2.81" fill="url(#sh)"/>
<circle cx="300.42" cy="33.81" r="3.44" fill="url(#sh)"/>
<circle cx="287.52" cy="49.3" r="2.79" fill="url(#sh)"/>
<circle cx="293.3" cy="50.88" r="2.11" fill="url(#sh)"/>
<circle cx="286.96" cy="47.68" r="2.11" fill="url(#sh)"/>
<circle cx="278.31" cy="34.66" r="3.66" fill="url(#sh)"/>
<circle cx="283.57" cy="27.35" r="3.77" fill="url(#sh)"/>
<circle cx="263.67" cy="27.87" r="3.53" fill="url(#sh)"/>
<circle cx="281.72" cy="51.61" r="2.97" fill="url(#sh)"/>
<circle cx="293.59" cy="51.54" r="2.03" fill="url(#sh)"/>
<circle cx="292.23" cy="35.44" r="3.17" fill="url(#sh)"/>
<circle cx="277.74" cy="30.25" r="2.52" fill="url(#sh)"/>
<circle cx="302.15" cy="38.04" r="1.45" fill="url(#sh)"/>
<circle cx="284.46" cy="46.98" r="3.69" fill="url(#sh)"/>
<circle cx="286.8" cy="65.18" r="2.96" fill="url(#sh)"/>
<circle cx="292.62" cy="33.88" r="3.58" fill="url(#sh)"/>
<circle cx="298.95" cy="24.97" r="1.44" fill="url(#sh)"/>
<circle cx="262.86" cy="26.36" r="2.87" fill="url(#sh)"/>
<circle cx="280.91" cy="43.88" r="2.45" fill="url(#sh)"/>
<circle cx="274.56" cy="36.22" r="2.87" fill="url(#sh)"/>
<circle cx="298.08" cy="41.31" r="2" fill="url(#sh)"/>
<circle cx="292.12" cy="54.64" r="2.65" fill="url(#sh)"/>
<circle cx="269.32" cy="42.42" r="3.01" fill="url(#sh)"/>
<circle cx="278.89" cy="28.96" r="2.35" fill="url(#sh)"/>
<circle cx="284.37" cy="38.86" r="3.3" fill="url(#sh)"/>
<circle cx="300.22" cy="40.96" r="1.68" fill="url(#sh)"/>
<circle cx="279.56" cy="34.55" r="3.27" fill="url(#sh)"/>
<circle cx="288.97" cy="41.61" r="2.36" fill="url(#sh)"/>
<circle cx="286.28" cy="29.61" r="2.91" fill="url(#sh)"/>
<circle cx="293.1" cy="37.11" r="3.34" fill="url(#sh)"/>
<circle cx="268.23" cy="29.93" r="2.22" fill="url(#sh)"/>
<circle cx="294.83" cy="39.96" r="2.18" fill="url(#sh)"/>
<circle cx="278.87" cy="30.49" r="2.09" fill="url(#sh)"/>
<circle cx="280.42" cy="49.63" r="3.67" fill="url(#sh)"/>
<circle cx="279.72" cy="38.34" r="3.29" fill="url(#sh)"/>
<circle cx="289.55" cy="48.55" r="2.26" fill="url(#sh)"/>
<circle cx="284.95" cy="38.44" r="3.73" fill="url(#sh)"/>
<circle cx="274.8" cy="35.92" r="2.07" fill="url(#sh)"/>
<circle cx="288.49" cy="54.21" r="3.72" fill="url(#sh)"/>
<circle cx="293.25" cy="50.32" r="2.17" fill="url(#sh)"/>
<circle cx="285.5" cy="62.42" r="2.36" fill="url(#sh)"/>
<circle cx="270.65" cy="31.43" r="3.71" fill="url(#sh)"/>
<circle cx="293.07" cy="42.47" r="3.33" fill="url(#sh)"/>
<circle cx="281.42" cy="44.57" r="2.48" fill="url(#sh)"/>
<circle cx="278.11" cy="44.63" r="2.04" fill="url(#sh)"/>
<circle cx="283.68" cy="55.85" r="2.64" fill="url(#sh)"/>
<circle cx="297.8" cy="38.62" r="3.41" fill="url(#sh)"/>
<circle cx="278.42" cy="48.68" r="2.55" fill="url(#sh)"/>
<circle cx="278.45" cy="38.36" r="3.4" fill="url(#sh)"/>
<circle cx="289.5" cy="59.62" r="3.71" fill="url(#sh)"/>
<circle cx="280.95" cy="33.09" r="2.31" fill="url(#sh)"/>
<circle cx="269.27" cy="42.8" r="3.59" fill="url(#sh)"/>
<circle cx="276.7" cy="43.03" r="3.05" fill="url(#sh)"/>
<circle cx="272.76" cy="55.67" r="3.57" fill="url(#sh)"/>
<circle cx="285.34" cy="57.43" r="2.07" fill="url(#sh)"/>
<circle cx="287.5" cy="36.58" r="2.1" fill="url(#sh)"/>
<circle cx="284.04" cy="39.22" r="2.5" fill="url(#sh)"/>
<circle cx="290.88" cy="54.22" r="3.12" fill="url(#sh)"/>
<circle cx="268.34" cy="41.56" r="3.02" fill="url(#sh)"/>
<circle cx="269.59" cy="58.52" r="2.27" fill="url(#sh)"/>
<circle cx="296.4" cy="35.4" r="2.57" fill="url(#sh)"/>
<circle cx="286.15" cy="43.16" r="3.17" fill="url(#sh)"/>
<circle cx="275.34" cy="64.23" r="2.14" fill="url(#sh)"/>
<circle cx="272.68" cy="65.35" r="1.4" fill="url(#sh)"/>
<circle cx="270.04" cy="51.13" r="3.72" fill="url(#sh)"/>
<circle cx="277.22" cy="48.5" r="3.29" fill="url(#sh)"/>
<circle cx="280.32" cy="45.9" r="2.05" fill="url(#sh)"/>
<circle cx="281.15" cy="45.88" r="3.31" fill="url(#sh)"/>
<circle cx="286.02" cy="66.1" r="2.53" fill="url(#sh)"/>
<circle cx="283.14" cy="45.59" r="2.4" fill="url(#sh)"/>
<circle cx="284.35" cy="54.32" r="3.66" fill="url(#sh)"/>
<circle cx="283.83" cy="38.73" r="2.89" fill="url(#sh)"/>
<circle cx="286.01" cy="65.27" r="2.12" fill="url(#sh)"/>
<circle cx="280.95" cy="45.74" r="2.84" fill="url(#sh)"/>
<circle cx="269.51" cy="43.6" r="2.76" fill="url(#sh)"/>
<circle cx="283.37" cy="59.43" r="2.36" fill="url(#sh)"/>
<circle cx="280.83" cy="57.71" r="3.65" fill="url(#sh)"/>
<circle cx="286.46" cy="56.48" r="2.68" fill="url(#sh)"/>
<circle cx="278.34" cy="51.31" r="2.83" fill="url(#sh)"/>
<circle cx="288.11" cy="57.87" r="2.62" fill="url(#sh)"/>
<circle cx="290.56" cy="43.61" r="2.69" fill="url(#sh)"/>
<circle cx="278.81" cy="61.45" r="3.28" fill="url(#sh)"/>
<circle cx="279.41" cy="65.43" r="3.58" fill="url(#sh)"/>
<circle cx="289.65" cy="61.9" r="2.99" fill="url(#sh)"/>
<circle cx="292.79" cy="56.44" r="1.81" fill="url(#sh)"/>
<circle cx="272.83" cy="50.24" r="3.18" fill="url(#sh)"/>
<circle cx="291.58" cy="46.13" r="3.28" fill="url(#sh)"/>
<circle cx="271.5" cy="55.27" r="3.08" fill="url(#sh)"/>
<circle cx="269.61" cy="57.72" r="2.43" fill="url(#sh)"/>
<circle cx="282.74" cy="48.37" r="3.07" fill="url(#sh)"/>
<circle cx="283.56" cy="64.6" r="2.96" fill="url(#sh)"/>
<circle cx="285.13" cy="59.01" r="2.64" fill="url(#sh)"/>
<circle cx="274.4" cy="62.23" r="3.77" fill="url(#sh)"/>
<circle cx="282.03" cy="50.9" r="2.77" fill="url(#sh)"/>
<circle cx="279.43" cy="49.74" r="2.59" fill="url(#sh)"/>
<circle cx="279.33" cy="52.33" r="2.36" fill="url(#sh)"/>
<circle cx="282.96" cy="55.51" r="2.17" fill="url(#sh)"/>
<circle cx="280.28" cy="54.99" r="2.72" fill="url(#sh)"/>
<circle cx="281.46" cy="59.33" r="2.35" fill="url(#sh)"/>
<circle cx="293.01" cy="58.66" r="1.28" fill="url(#sh)"/>
<circle cx="287.52" cy="61.16" r="2.09" fill="url(#sh)"/>
<circle cx="284.9" cy="53.71" r="2.56" fill="url(#sh)"/>
<circle cx="278.73" cy="49.91" r="3.58" fill="url(#sh)"/>
<circle cx="271.05" cy="62.4" r="1.81" fill="url(#sh)"/>
<circle cx="292.42" cy="53.64" r="3.5" fill="url(#sh)"/>
<circle cx="279.64" cy="63.17" r="3.32" fill="url(#sh)"/>
<circle cx="286.96" cy="54.78" r="2.71" fill="url(#sh)"/>
<circle cx="274.63" cy="55.52" r="3.4" fill="url(#sh)"/>
<circle cx="270.7" cy="57.62" r="2.75" fill="url(#sh)"/>
<circle cx="286.01" cy="58.37" r="2.37" fill="url(#sh)"/>
<circle cx="280.54" cy="59.63" r="2.86" fill="url(#sh)"/>
<circle cx="277.41" cy="66.61" r="2.19" fill="url(#sh)"/>
<circle cx="295.8" cy="22.5" r="2.1" fill="#1020e0"/>
<circle cx="297.2" cy="24" r="1.4" fill="#1020e0"/>
<circle cx="297.6" cy="40.5" r="1.7" fill="#1020e0"/>
</g></g>
<g filter="url(#bl)"><g>
<polygon points="372.69,8.54 380.43,4.54 388.08,3.14 394.83,4.54 399.69,7.52 405.45,8.54 410.22,12.54 413.1,18.49 412.2,24.44 410.22,30.39 409.32,36.35 407.34,41.37 404.46,44.34 404.46,50.3 403.47,58.29 401.58,66.2 398.7,72.15 391.95,74.2 386.19,71.22 380.43,68.24 375.57,66.2 373.68,60.25 371.79,52.34 371.79,46.3 368.91,41.37 365.94,35.42 365.04,28.44 365.94,21.47 368.91,14.49" fill="#e67373"/>
<circle cx="383.73" cy="9.54" r="3.39" fill="#f0b9b9"/>
<circle cx="395.09" cy="13.9" r="2.01" fill="#eb1e1e"/>
<circle cx="393.23" cy="4.56" r="3.4" fill="#e77777"/>
<circle cx="376.99" cy="8.2" r="2.66" fill="#eb1e1e"/>
<circle cx="375.64" cy="15.94" r="2.13" fill="#f1bcbc"/>
<circle cx="395.58" cy="12.52" r="2.12" fill="#e7b2b2"/>
<circle cx="388.37" cy="11.2" r="2.84" fill="#eb1b1b"/>
<circle cx="396.21" cy="9.66" r="2.45" fill="#de1313"/>
<circle cx="381.29" cy="11.52" r="2.28" fill="#e77979"/>
<circle cx="400.91" cy="15.48" r="2.57" fill="#eae8e8"/>
<circle cx="386.91" cy="7.78" r="2.95" fill="#e8b3b3"/>
<circle cx="396.17" cy="20.41" r="3.32" fill="#f0bbbb"/>
<circle cx="394.68" cy="17.39" r="2.65" fill="#f0bbbb"/>
<circle cx="376.31" cy="19.21" r="3.34" fill="#df7070"/>
<circle cx="411.7" cy="19.84" r="2.53" fill="#abb3f0"/>
<circle cx="375.24" cy="16.5" r="2.42" fill="#edb7b7"/>
<circle cx="394.6" cy="20.47" r="2.32" fill="#e11313"/>
<circle cx="383.49" cy="10.92" r="3.47" fill="#e47272"/>
<circle cx="406" cy="16.03" r="3.65" fill="#a9b1ef"/>
<circle cx="405.04" cy="15.38" r="2.56" fill="#f3f1f1"/>
<circle cx="395.41" cy="20.16" r="2.92" fill="#e51414"/>
<circle cx="378.84" cy="18.2" r="2.59" fill="#ea1818"/>
<circle cx="368.44" cy="23.18" r="3" fill="#da6d6d"/>
<circle cx="395.45" cy="7.74" r="2.72" fill="#df7070"/>
<circle cx="391.45" cy="23.49" r="3.14" fill="#e61414"/>
<circle cx="382.97" cy="5.16" r="3.1" fill="#f3f1f1"/>
<circle cx="388.69" cy="26.47" r="2.98" fill="#e77676"/>
<circle cx="379.55" cy="25.03" r="3.42" fill="#f0bbbb"/>
<circle cx="388.38" cy="13.78" r="2.1" fill="#eb1d1d"/>
<circle cx="405.87" cy="23.38" r="2.7" fill="#e7b2b2"/>
<circle cx="377.28" cy="11.38" r="2.65" fill="#f2f0f0"/>
<circle cx="372.52" cy="10.37" r="3.56" fill="#de6f6f"/>
<circle cx="390.37" cy="10.71" r="3.49" fill="#eb1b1b"/>
<circle cx="393.07" cy="3.53" r="1.75" fill="#f0b9b9"/>
<circle cx="373.07" cy="8.33" r="2.89" fill="#de6f6f"/>
<circle cx="390.44" cy="14.44" r="3.11" fill="#eb2121"/>
<circle cx="395.9" cy="8.22" r="2.53" fill="#e77777"/>
<circle cx="409.72" cy="22.59" r="2.75" fill="#f1bcbc"/>
<circle cx="385.46" cy="26.36" r="2.79" fill="#f3f1f1"/>
<circle cx="402.99" cy="25.38" r="2.61" fill="#f2f0f0"/>
<circle cx="392.25" cy="13.14" r="3.43" fill="#da6d6d"/>
<circle cx="378.39" cy="21.38" r="2.79" fill="#f0b9b9"/>
<circle cx="388.5" cy="19.63" r="3.8" fill="#d96d6d"/>
<circle cx="395.03" cy="34.37" r="2.25" fill="#eb1f1f"/>
<circle cx="364.51" cy="24" r="1.98" fill="#f0bbbb"/>
<circle cx="395.46" cy="29.14" r="3.53" fill="#eab5b5"/>
<circle cx="365.87" cy="20.21" r="2.01" fill="#e9e7e7"/>
<circle cx="388.92" cy="3.02" r="2.46" fill="#f3f1f1"/>
<circle cx="366.41" cy="37.3" r="2.26" fill="#f2f0f0"/>
<circle cx="391.47" cy="16.58" r="2.42" fill="#ea1919"/>
<circle cx="399.03" cy="28.56" r="2.92" fill="#e37171"/>
<circle cx="383.31" cy="19.07" r="2.79" fill="#f2f0f0"/>
<circle cx="379.19" cy="23.53" r="2.57" fill="#e41414"/>
<circle cx="388.59" cy="32.49" r="2.7" fill="#e9b3b3"/>
<circle cx="412.04" cy="17.88" r="3.79" fill="#f2f0f0"/>
<circle cx="408.54" cy="16.58" r="2.85" fill="#e9e7e7"/>
<circle cx="395.49" cy="14.88" r="3.16" fill="#e4e2e2"/>
<circle cx="410.8" cy="30.11" r="1.77" fill="#f3f1f1"/>
<circle cx="403.63" cy="25" r="3.22" fill="#ea1616"/>
<circle cx="391.35" cy="28.55" r="3.55" fill="#f0bbbb"/>
<circle cx="390.59" cy="8.32" r="2.23" fill="#ea1414"/>
<circle cx="407.46" cy="15.02" r="2.35" fill="#f2f0f0"/>
<circle cx="378.97" cy="7.58" r="2.46" fill="#eeb7b7"/>
<circle cx="392.71" cy="7.05" r="2.91" fill="#e8b3b3"/>
<circle cx="365.37" cy="26.29" r="2.86" fill="#f0baba"/>
<circle cx="408.74" cy="11.43" r="2.09" fill="#de1313"/>
<circle cx="402.19" cy="25.1" r="3.01" fill="#edebeb"/>
<circle cx="388.64" cy="20.22" r="3.4" fill="#e3afaf"/>
<circle cx="366.37" cy="27.24" r="3.49" fill="#e2aeae"/>
<circle cx="374.95" cy="20.51" r="2.71" fill="#f2f0f0"/>
<circle cx="401.33" cy="30.58" r="2.16" fill="#df6f6f"/>
<circle cx="403.49" cy="12.43" r="3.47" fill="#eb1f1f"/>
<circle cx="407.48" cy="38.06" r="3.02" fill="#ebe9e9"/>
<circle cx="380.84" cy="17.43" r="3.1" fill="#e6e4e4"/>
<circle cx="391.46" cy="41.9" r="2.65" fill="#c90a0a"/>
<circle cx="388.18" cy="20.47" r="2.2" fill="#e67676"/>
<circle cx="394.77" cy="11.2" r="2.65" fill="#ea1414"/>
<circle cx="383.03" cy="10.45" r="2.85" fill="#e41313"/>
<circle cx="372.15" cy="37.17" r="3.58" fill="#f0baba"/>
<circle cx="388.34" cy="35.42" r="3.26" fill="#f3f1f1"/>
<circle cx="384.81" cy="34.87" r="3.17" fill="#f3f1f1"/>
<circle cx="388.16" cy="6.38" r="2.44" fill="#f0b9b9"/>
<circle cx="372.74" cy="32.14" r="2.36" fill="#f2f0f0"/>
<circle cx="369.03" cy="28.43" r="3.57" fill="#ea1616"/>
<circle cx="372.76" cy="23.7" r="3.51" fill="#e77979"/>
<circle cx="398.65" cy="42.4" r="3.73" fill="#db6e6e"/>
<circle cx="391.8" cy="38.99" r="2.28" fill="#e37272"/>
<circle cx="407.56" cy="27.86" r="3.38" fill="#f1bcbc"/>
<circle cx="406.27" cy="18.33" r="3" fill="#e5e3e3"/>
<circle cx="384.02" cy="38.75" r="3.77" fill="#ea1515"/>
<circle cx="387.83" cy="11.67" r="2.65" fill="#dc6e6e"/>
<circle cx="403.29" cy="40.56" r="2.02" fill="#ea1616"/>
<circle cx="389.52" cy="36.36" r="2.29" fill="#f0baba"/>
<circle cx="407.39" cy="10.07" r="2.13" fill="#f0baba"/>
<circle cx="389.45" cy="32.23" r="3.08" fill="#f0bbbb"/>
<circle cx="405.5" cy="18.51" r="3.61" fill="#f0bbbb"/>
<circle cx="406.33" cy="43.04" r="1.43" fill="#eb1c1c"/>
<circle cx="370.24" cy="18.81" r="2.54" fill="#e4b0b0"/>
<circle cx="376.39" cy="23.41" r="3.41" fill="#efeded"/>
<circle cx="382.16" cy="44.61" r="2.63" fill="#f2f0f0"/>
<circle cx="383.42" cy="22.42" r="3.55" fill="#eab4b4"/>
<circle cx="410.99" cy="23.91" r="3.16" fill="#edebeb"/>
<circle cx="370.69" cy="9.78" r="2.15" fill="#f3f1f1"/>
<circle cx="401.26" cy="23.77" r="2.34" fill="#eb1c1c"/>
<circle cx="392.3" cy="17.11" r="3.01" fill="#e47272"/>
<circle cx="396.54" cy="5.98" r="2.23" fill="#f2f0f0"/>
<circle cx="377.07" cy="13.79" r="2.19" fill="#da6d6d"/>
<circle cx="407.52" cy="14.3" r="3.29" fill="#eeb8b8"/>
<circle cx="380.48" cy="35.41" r="3.78" fill="#f1bcbc"/>
<circle cx="379.43" cy="14.3" r="2.56" fill="#f0baba"/>
<circle cx="405.95" cy="22.28" r="2.74" fill="#f1bcbc"/>
<circle cx="399.25" cy="30.43" r="2.98" fill="#ea1717"/>
<circle cx="398.8" cy="21.99" r="3.34" fill="#eb1c1c"/>
<circle cx="379.18" cy="43.6" r="3.11" fill="#edb7b7"/>
<circle cx="379.62" cy="25.67" r="3.77" fill="#dd1313"/>
<circle cx="390.59" cy="43.61" r="3.65" fill="#ea1919"/>
<circle cx="376.92" cy="4.91" r="1.27" fill="#f1bdbd"/>
<circle cx="385.32" cy="12.92" r="2.55" fill="#ea1414"/>
<circle cx="397.05" cy="47.44" r="2.34" fill="#ea1717"/>
<circle cx="382.33" cy="39.28" r="3.7" fill="#f0baba"/>
<circle cx="379.38" cy="48.5" r="2.72" fill="#e7e5e5"/>
<circle cx="372.52" cy="34.53" r="2.25" fill="#e3afaf"/>
<circle cx="403.23" cy="11.91" r="3.12" fill="#eae8e8"/>
<circle cx="412.29" cy="14.33" r="1.91" fill="#f0baba"/>
<circle cx="399.5" cy="9.52" r="3.76" fill="#eae8e8"/>
<circle cx="366.15" cy="33.71" r="2.14" fill="#f2f0f0"/>
<circle cx="390.79" cy="25.62" r="2.23" fill="#d96c6c"/>
<circle cx="408.99" cy="14.07" r="2.27" fill="#eceaea"/>
<circle cx="381.24" cy="32.84" r="2.75" fill="#ebe9e9"/>
<circle cx="399.52" cy="17.23" r="2.71" fill="#e77979"/>
<circle cx="403.47" cy="10.28" r="2.09" fill="#db6d6d"/>
<circle cx="385.6" cy="10.95" r="2.19" fill="#e77979"/>
<circle cx="372.96" cy="11.13" r="2.86" fill="#de1313"/>
<circle cx="402.9" cy="12.81" r="2.77" fill="#eae9e9"/>
<circle cx="377.83" cy="27.49" r="2.33" fill="#efeded"/>
<circle cx="383" cy="16.7" r="2.05" fill="#df1313"/>
<circle cx="385.84" cy="40.18" r="3.17" fill="#f0bbbb"/>
<circle cx="397.96" cy="48.76" r="2.92" fill="#c30606"/>
<circle cx="400.02" cy="28.27" r="2.77" fill="#f2f0f0"/>
<circle cx="401.42" cy="52.32" r="3.69" fill="#bd0606"/>
<circle cx="408.31" cy="25.69" r="2.7" fill="#f0b9b9"/>
<circle cx="381.8" cy="39.85" r="3.48" fill="#e6b2b2"/>
<circle cx="394.93" cy="12.7" r="2.91" fill="#eb2222"/>
<circle cx="374.05" cy="14.24" r="3.8" fill="#f0baba"/>
<circle cx="401.4" cy="22.81" r="2.16" fill="#e81414"/>
<circle cx="366.06" cy="34.54" r="3.13" fill="#e4e2e2"/>
<circle cx="395.91" cy="52" r="2.43" fill="#3343ec"/>
<circle cx="387.54" cy="26.4" r="2.38" fill="#e81414"/>
<circle cx="382.84" cy="16.41" r="2.45" fill="#f0b9b9"/>
<circle cx="380.33" cy="54.89" r="3.58" fill="#ea1818"/>
<circle cx="387.81" cy="19.08" r="2.74" fill="#e77b7b"/>
<circle cx="390.58" cy="10.37" r="2.31" fill="#f0baba"/>
<circle cx="395.54" cy="27.18" r="3.19" fill="#e77b7b"/>
<circle cx="402.64" cy="51.39" r="2.85" fill="#f2f0f0"/>
<circle cx="383.28" cy="11.26" r="2.68" fill="#e51414"/>
<circle cx="395.16" cy="18.74" r="2.6" fill="#f0bbbb"/>
<circle cx="384.94" cy="16.48" r="2.11" fill="#e77b7b"/>
<circle cx="411.83" cy="17.3" r="2.01" fill="#ebe9e9"/>
<circle cx="398.16" cy="25.86" r="3.61" fill="#e51414"/>
<circle cx="386.29" cy="25.65" r="3.64" fill="#ea1818"/>
<circle cx="371.97" cy="16.35" r="2.06" fill="#e5e3e3"/>
<circle cx="404.04" cy="38.04" r="2.78" fill="#f0b9b9"/>
<circle cx="385.06" cy="13.13" r="2.3" fill="#ea1818"/>
<circle cx="392.34" cy="44.91" r="3.75" fill="#e67474"/>
<circle cx="397.54" cy="20.47" r="2.17" fill="#e3afaf"/>
<circle cx="377.28" cy="38.64" r="2.05" fill="#f0bbbb"/>
<circle cx="379.09" cy="49.07" r="2.31" fill="#a3abe7"/>
<circle cx="400.8" cy="51.11" r="3.45" fill="#e31313"/>
<circle cx="373.49" cy="55.42" r="3.03" fill="#ebe9e9"/>
<circle cx="369.59" cy="31.74" r="3.45" fill="#eb1b1b"/>
<circle cx="389.56" cy="23.45" r="2.79" fill="#ea1616"/>
<circle cx="393.11" cy="37.22" r="3.37" fill="#df7070"/>
<circle cx="389.1" cy="53.68" r="2.44" fill="#ea1717"/>
<circle cx="398.82" cy="56.04" r="3.72" fill="#dd6e6e"/>
<circle cx="390.53" cy="47.5" r="3.79" fill="#dc1313"/>
<circle cx="394.27" cy="13.03" r="2.88" fill="#eb1d1d"/>
<circle cx="387.76" cy="55.5" r="2.33" fill="#e07070"/>
<circle cx="382.78" cy="9.59" r="2.39" fill="#e4b0b0"/>
<circle cx="398.26" cy="39.05" r="2.56" fill="#efeded"/>
<circle cx="380.94" cy="44.45" r="3.04" fill="#e17070"/>
<circle cx="395.08" cy="31.17" r="2.33" fill="#e77878"/>
<circle cx="368.83" cy="41.03" r="2.04" fill="#e9b3b3"/>
<circle cx="403.23" cy="15.81" r="3.22" fill="#e77a7a"/>
<circle cx="371.2" cy="20.98" r="3.36" fill="#eb1f1f"/>
<circle cx="402.7" cy="26.16" r="2.59" fill="#e31313"/>
<circle cx="373.56" cy="56.28" r="2.84" fill="#c3c3c8"/>
<circle cx="381.49" cy="58.58" r="2.94" fill="#e61414"/>
<circle cx="376.97" cy="28.61" r="2.12" fill="#f0bbbb"/>
<circle cx="399.04" cy="48.85" r="2.84" fill="#e61414"/>
<circle cx="380.99" cy="21.88" r="3.14" fill="#f2f0f0"/>
<circle cx="380.16" cy="32.37" r="2.71" fill="#eb2020"/>
<circle cx="379.96" cy="42.6" r="2" fill="#f3f1f1"/>
<circle cx="397.09" cy="52.2" r="3.34" fill="#c90909"/>
<circle cx="403.61" cy="36.62" r="2.95" fill="#e4e2e2"/>
<circle cx="385.82" cy="47.15" r="2.87" fill="#eb2222"/>
<circle cx="371.48" cy="17.02" r="3.72" fill="#f1bdbd"/>
<circle cx="374.9" cy="8.48" r="2.71" fill="#e77878"/>
<circle cx="381.23" cy="55.07" r="2.49" fill="#e67373"/>
<circle cx="393.66" cy="8.79" r="3.11" fill="#e67474"/>
<circle cx="403.07" cy="36.48" r="3.34" fill="#da6d6d"/>
<circle cx="397.93" cy="5.22" r="1.38" fill="#f0bbbb"/>
<circle cx="372.58" cy="37.89" r="2.78" fill="#ecb6b6"/>
<circle cx="370.44" cy="12.57" r="3.53" fill="#f1bdbd"/>
<circle cx="397.98" cy="65.01" r="2.19" fill="#f3f1f1"/>
<circle cx="388.79" cy="28.67" r="2.04" fill="#f2f0f0"/>
<circle cx="404.52" cy="7.94" r="2.1" fill="#eceaea"/>
<circle cx="374.78" cy="37.78" r="3.74" fill="#edebeb"/>
<circle cx="379.27" cy="51.75" r="3.6" fill="#ebe9e9"/>
<circle cx="404.82" cy="28.63" r="3.77" fill="#f2f0f0"/>
<circle cx="379.74" cy="23.56" r="2.04" fill="#ebb5b5"/>
<circle cx="388.44" cy="30.19" r="2.13" fill="#ea1717"/>
<circle cx="377.18" cy="63.8" r="3.38" fill="#edebeb"/>
<circle cx="403.69" cy="23.12" r="2.61" fill="#e5b1b1"/>
<circle cx="367.26" cy="16.71" r="2.14" fill="#e5e3e3"/>
<circle cx="380.66" cy="68.15" r="3.45" fill="#f0baba"/>
<circle cx="370.44" cy="37.19" r="2.48" fill="#e57272"/>
<circle cx="383.1" cy="60.07" r="2.94" fill="#c60606"/>
<circle cx="392.96" cy="8.19" r="3.55" fill="#e7e5e5"/>
<circle cx="406.03" cy="39.53" r="3.53" fill="#e37171"/>
<circle cx="393.07" cy="33.6" r="3.33" fill="#f2f0f0"/>
<circle cx="396.72" cy="60.2" r="3.3" fill="#eb1d1d"/>
<circle cx="396.61" cy="62.85" r="2.95" fill="#e91414"/>
<circle cx="371.78" cy="35.67" r="2.08" fill="#e4b0b0"/>
<circle cx="375.97" cy="30.5" r="3.23" fill="#e47272"/>
<circle cx="377.57" cy="10.24" r="2.82" fill="#f1bcbc"/>
<circle cx="376.02" cy="57.23" r="3.48" fill="#cacacf"/>
<circle cx="383.49" cy="45.31" r="3.29" fill="#f1bdbd"/>
<circle cx="375.17" cy="44.26" r="2.84" fill="#f2f0f0"/>
<circle cx="384.86" cy="61.59" r="2.3" fill="#e91414"/>
<circle cx="391.36" cy="44.96" r="3.03" fill="#ea1616"/>
<circle cx="403.13" cy="26.1" r="2.06" fill="#f0baba"/>
<circle cx="380.91" cy="28.63" r="3.04" fill="#f2f0f0"/>
<circle cx="380.42" cy="49.59" r="2.84" fill="#e5e3e3"/>
<circle cx="394.05" cy="37.95" r="3.56" fill="#e77777"/>
<circle cx="376.46" cy="55.37" r="3.02" fill="#f2f0f0"/>
<circle cx="408.37" cy="23.43" r="3.24" fill="#a6aeeb"/>
<circle cx="398.44" cy="12.03" r="2.07" fill="#e67373"/>
<circle cx="395.44" cy="63.09" r="2.53" fill="#e71414"/>
<circle cx="391.31" cy="18.95" r="3.43" fill="#f0bbbb"/>
<circle cx="397.28" cy="43.06" r="2.4" fill="#eb1c1c"/>
<circle cx="364.99" cy="30.58" r="2.4" fill="#eb2222"/>
<circle cx="406.76" cy="41.14" r="2.68" fill="#eceaea"/>
<circle cx="409.52" cy="26.85" r="3.28" fill="#f2f0f0"/>
<circle cx="371.19" cy="19.25" r="3.52" fill="#f2f0f0"/>
<circle cx="389.74" cy="59.57" r="2.11" fill="#df7070"/>
<circle cx="396.42" cy="46.42" r="3.62" fill="#df1313"/>
<circle cx="384.48" cy="39.25" r="3" fill="#f1bcbc"/>
<circle cx="380.41" cy="64.33" r="3.6" fill="#ebb5b5"/>
<circle cx="390.94" cy="19.51" r="3.12" fill="#e4e2e2"/>
<circle cx="386.22" cy="27.34" r="3.74" fill="#e67575"/>
<circle cx="395.78" cy="56.52" r="3.54" fill="#303fe1"/>
<circle cx="381.72" cy="54.7" r="3.7" fill="#eb2020"/>
<circle cx="369.14" cy="40.44" r="3.54" fill="#e8e6e6"/>
<circle cx="381.32" cy="37.45" r="3.55" fill="#e6b1b1"/>
<circle cx="379.2" cy="9.9" r="2.11" fill="#e3afaf"/>
<circle cx="386.15" cy="14.36" r="2.21" fill="#e77777"/>
<circle cx="378.14" cy="43.94" r="3.19" fill="#e6e4e4"/>
<circle cx="399.35" cy="43.6" r="2.83" fill="#e71414"/>
<circle cx="396.08" cy="21.71" r="2.64" fill="#ea1919"/>
<circle cx="366.11" cy="24" r="2.15" fill="#e4e2e2"/>
<circle cx="409.09" cy="13.63" r="3.23" fill="#f3f1f1"/>
<circle cx="391.42" cy="33.06" r="2.55" fill="#eb1a1a"/>
<circle cx="403.16" cy="17.56" r="2.97" fill="#e67676"/>
<circle cx="391.54" cy="23.54" r="3.64" fill="#ea1616"/>
<circle cx="369.94" cy="14.23" r="2.51" fill="#e8e6e6"/>
<circle cx="377.86" cy="40.15" r="2.76" fill="#f1bcbc"/>
<circle cx="403.47" cy="28.27" r="3.19" fill="#e77676"/>
<circle cx="406.11" cy="32.44" r="3" fill="#e9b4b4"/>
<circle cx="370.74" cy="20.16" r="3.09" fill="#efb8b8"/>
<circle cx="371.79" cy="36.78" r="2.16" fill="#eb1f1f"/>
<circle cx="380.81" cy="28.36" r="2.64" fill="#f3f1f1"/>
<circle cx="386.42" cy="26.02" r="2.55" fill="#e77777"/>
<circle cx="385.97" cy="17.2" r="2.86" fill="#f2f0f0"/>
<circle cx="410.31" cy="31.18" r="1.63" fill="#f0b9b9"/>
<circle cx="375.35" cy="21" r="2.24" fill="#f1bcbc"/>
<circle cx="394.65" cy="51.92" r="2.91" fill="#ca0d0d"/>
<circle cx="383.74" cy="70.73" r="2.06" fill="#e9e7e7"/>
<circle cx="404.95" cy="51.54" r="1.31" fill="#e6b2b2"/>
<circle cx="375.01" cy="39.64" r="3.04" fill="#eeb7b7"/>
<circle cx="380.96" cy="52.72" r="2" fill="#2f3fe0"/>
<circle cx="387.06" cy="27.79" r="2.8" fill="#e91414"/>
<circle cx="380.87" cy="39.44" r="3.36" fill="#e77878"/>
<circle cx="391.7" cy="67.73" r="2.36" fill="#e4e2e2"/>
<circle cx="398.32" cy="59.03" r="3.29" fill="#ea1414"/>
<circle cx="397.9" cy="44.97" r="3.47" fill="#df1313"/>
<circle cx="394.7" cy="28.43" r="3.78" fill="#eb1c1c"/>
<circle cx="378.16" cy="27.77" r="2.35" fill="#ebe9e9"/>
<circle cx="397.26" cy="53.01" r="2.48" fill="#eb1d1d"/>
<circle cx="392.34" cy="56.81" r="2.81" fill="#e11313"/>
<circle cx="408.62" cy="30.72" r="3.67" fill="#f3f1f1"/>
<circle cx="378.55" cy="22.85" r="2.38" fill="#ea1717"/>
<circle cx="385.85" cy="55.72" r="3.15" fill="#df1313"/>
<circle cx="407.39" cy="37.59" r="2.12" fill="#df6f6f"/>
<circle cx="374.76" cy="60.07" r="2.08" fill="#aab2f0"/>
<circle cx="374.01" cy="18.8" r="3.03" fill="#e27171"/>
<circle cx="395.46" cy="68.24" r="2.92" fill="#e31313"/>
<circle cx="400.26" cy="33.84" r="3.29" fill="#f2f0f0"/>
<circle cx="397.41" cy="57.79" r="3.62" fill="#e11313"/>
<circle cx="382.56" cy="52.57" r="3.72" fill="#df6f6f"/>
<circle cx="373.45" cy="23.39" r="2.18" fill="#e4b0b0"/>
<circle cx="392.75" cy="18.14" r="2.41" fill="#e5e4e4"/>
<circle cx="394.34" cy="46.38" r="3.3" fill="#df1313"/>
<circle cx="378.09" cy="51.46" r="3.25" fill="#abb3f0"/>
<circle cx="386.07" cy="31.79" r="3.08" fill="#f3f1f1"/>
<circle cx="405.14" cy="21.33" r="3.09" fill="#a4ace7"/>
<circle cx="383.44" cy="70.41" r="2.19" fill="#e7e5e5"/>
<circle cx="385.12" cy="20.85" r="2.18" fill="#f1bcbc"/>
<circle cx="380.75" cy="52.23" r="2.98" fill="#c30606"/>
<circle cx="371.41" cy="37.46" r="3.17" fill="#ea1616"/>
<circle cx="403.99" cy="39.11" r="3.22" fill="#f3f1f1"/>
<circle cx="364.27" cy="32.78" r="1.47" fill="#dc1313"/>
<circle cx="376.31" cy="40.66" r="2.28" fill="#d96c6c"/>
<circle cx="392.36" cy="62.5" r="3.56" fill="#e01313"/>
<circle cx="401.3" cy="32.61" r="2.67" fill="#e5b0b0"/>
<circle cx="371.69" cy="29.93" r="2.32" fill="#de1313"/>
<circle cx="371.99" cy="57.45" r="1.4" fill="#cfcfd4"/>
<circle cx="376.08" cy="26.2" r="2.97" fill="#efeded"/>
<circle cx="370.23" cy="30.99" r="2.66" fill="#f3f1f1"/>
<circle cx="402.76" cy="26.85" r="3.05" fill="#eb1c1c"/>
<circle cx="407.15" cy="23.18" r="3.18" fill="#efb8b8"/>
<circle cx="395.81" cy="64.92" r="2.58" fill="#f3f1f1"/>
<circle cx="386.64" cy="66.64" r="2.95" fill="#c00606"/>
<circle cx="371.27" cy="36.42" r="3.21" fill="#e21313"/>
<circle cx="398.16" cy="63.79" r="2.07" fill="#e67474"/>
<circle cx="405.61" cy="28.93" r="3.67" fill="#f0baba"/>
<circle cx="403.7" cy="31.96" r="3.7" fill="#f1bcbc"/>
<circle cx="372.07" cy="22.42" r="2.78" fill="#f0eeee"/>
<circle cx="407.97" cy="28.6" r="3.02" fill="#e3afaf"/>
<circle cx="379.84" cy="64.35" r="2.32" fill="#e51414"/>
<circle cx="404.47" cy="43.06" r="2.2" fill="#dc1313"/>
<circle cx="372.48" cy="27.21" r="3.77" fill="#e7b2b2"/>
<circle cx="381.99" cy="67.64" r="3.32" fill="#f0baba"/>
<circle cx="373.46" cy="37.58" r="2.53" fill="#f0bbbb"/>
<circle cx="381.98" cy="51.3" r="2.57" fill="#ea1515"/>
<circle cx="389.25" cy="45.49" r="2.72" fill="#de1313"/>
<circle cx="377.04" cy="58.34" r="2.73" fill="#e6e4e4"/>
<circle cx="392.04" cy="43.11" r="2.84" fill="#eb1d1d"/>
<circle cx="385.59" cy="26.51" r="2.3" fill="#db6d6d"/>
<circle cx="372.82" cy="36.6" r="2.21" fill="#ea1414"/>
<circle cx="404.29" cy="37.49" r="3.62" fill="#f1bdbd"/>
<circle cx="404.15" cy="28.31" r="2.52" fill="#f1bcbc"/>
<circle cx="377.28" cy="41.45" r="2.85" fill="#f3f1f1"/>
<circle cx="396.22" cy="44.09" r="3.34" fill="#eb1b1b"/>
<circle cx="377.39" cy="53.39" r="3.73" fill="#f3f1f1"/>
<circle cx="386.36" cy="33.67" r="2.44" fill="#e77878"/>
<circle cx="373.03" cy="27.52" r="2.65" fill="#e9e7e7"/>
<circle cx="389.58" cy="37.23" r="2.54" fill="#e11313"/>
<circle cx="385.48" cy="56.93" r="3" fill="#f1efef"/>
<circle cx="387.54" cy="60.03" r="2.23" fill="#e57373"/>
<circle cx="385.74" cy="48.99" r="2.23" fill="#eb1e1e"/>
<circle cx="401.7" cy="58.51" r="3.59" fill="#ca0e0e"/>
<circle cx="372.41" cy="37.74" r="3.32" fill="#f2f0f0"/>
<circle cx="400.27" cy="46.2" r="2.09" fill="#eb2020"/>
<circle cx="377.87" cy="62.34" r="3.15" fill="#cbcbd0"/>
<circle cx="383.28" cy="35.31" r="2.52" fill="#e7b2b2"/>
<circle cx="381.65" cy="61.17" r="2.18" fill="#3141e9"/>
<circle cx="391.15" cy="53.57" r="3.11" fill="#e91414"/>
<circle cx="401.57" cy="63.34" r="3.14" fill="#f1bcbc"/>
<circle cx="382.31" cy="42.27" r="3.08" fill="#e8b3b3"/>
<circle cx="402.01" cy="64.66" r="2.02" fill="#f0baba"/>
<circle cx="387.04" cy="60.17" r="3.57" fill="#eb1d1d"/>
<circle cx="391.4" cy="37.77" r="3.29" fill="#ecb6b6"/>
<circle cx="397.85" cy="52.55" r="2.8" fill="#ea1414"/>
<circle cx="392.34" cy="51.35" r="2.56" fill="#eb2121"/>
<circle cx="404.22" cy="46.79" r="1.79" fill="#eb1e1e"/>
<circle cx="378.83" cy="58.75" r="3.48" fill="#c5c5ca"/>
<circle cx="401.35" cy="50.66" r="3.71" fill="#db6e6e"/>
<circle cx="395.29" cy="64.11" r="2.55" fill="#c30606"/>
<circle cx="407.75" cy="39.93" r="2.51" fill="#e17070"/>
<circle cx="396.19" cy="41.12" r="2.95" fill="#e91414"/>
<circle cx="406.44" cy="39.51" r="2" fill="#eeb7b7"/>
<circle cx="392.59" cy="72.01" r="3.1" fill="#bf0606"/>
<circle cx="394.09" cy="73.91" r="1.91" fill="#303fe2"/>
<circle cx="399.16" cy="58.35" r="3.45" fill="#c90b0b"/>
<circle cx="372.69" cy="48.32" r="2.62" fill="#edebeb"/>
<circle cx="393.77" cy="46.07" r="2.97" fill="#e11313"/>
<circle cx="401.94" cy="51.7" r="2.46" fill="#f0eeee"/>
<circle cx="377.1" cy="45.47" r="2.21" fill="#ceced3"/>
<circle cx="399.54" cy="69.05" r="2.23" fill="#edb6b6"/>
<circle cx="381.72" cy="58.61" r="3.03" fill="#303fe2"/>
<circle cx="401.2" cy="56.45" r="2.37" fill="#3343ec"/>
<circle cx="383.2" cy="65.61" r="3.68" fill="#c50606"/>
<circle cx="378.62" cy="66.88" r="3.42" fill="#e77979"/>
<circle cx="381.57" cy="54.48" r="3.17" fill="#e51414"/>
<circle cx="375.49" cy="49.5" r="2.49" fill="#a2a9e4"/>
<circle cx="401.04" cy="63.56" r="3.27" fill="#eb1c1c"/>
<circle cx="391.63" cy="53.3" r="2.12" fill="#e41313"/>
<circle cx="385.47" cy="66.14" r="3.4" fill="#3a4aed"/>
<circle cx="388.9" cy="42.29" r="3.08" fill="#c90a0a"/>
<circle cx="382.56" cy="65.35" r="3.5" fill="#eb1b1b"/>
<circle cx="375.95" cy="66.15" r="3.19" fill="#f2f0f0"/>
<circle cx="405.96" cy="42.38" r="1.57" fill="#eb1a1a"/>
<circle cx="370.76" cy="45.23" r="1.73" fill="#c1c1c6"/>
<circle cx="400.1" cy="70.54" r="1.57" fill="#bd0606"/>
<circle cx="395.5" cy="71.22" r="2.51" fill="#eb2020"/>
<circle cx="384.04" cy="59.76" r="3.18" fill="#e37272"/>
<circle cx="396.49" cy="60.71" r="3.58" fill="#e11313"/>
<circle cx="380.27" cy="50.79" r="3.44" fill="#f1bcbc"/>
<circle cx="398.44" cy="47.17" r="2.56" fill="#eb1e1e"/>
<circle cx="382.62" cy="57.85" r="3.74" fill="#c30606"/>
<circle cx="389.98" cy="52.12" r="3.04" fill="#e91414"/>
<circle cx="374.3" cy="61.58" r="2.11" fill="#a9b1ef"/>
<circle cx="401.92" cy="50.29" r="3.6" fill="#f1bdbd"/>
<circle cx="382.65" cy="60.76" r="2.56" fill="#f2f0f0"/>
<circle cx="381.44" cy="68.15" r="2.11" fill="#dd6f6f"/>
<circle cx="392.2" cy="53.6" r="3.3" fill="#e91414"/>
<circle cx="394.7" cy="57.21" r="2.34" fill="#c10606"/>
<circle cx="397.46" cy="53.98" r="3.09" fill="#ea1616"/>
<circle cx="385.16" cy="63.15" r="3.65" fill="#e8e6e6"/>
<circle cx="384.14" cy="65.75" r="2.24" fill="#e71414"/>
<circle cx="389.87" cy="67.88" r="2.83" fill="#eb1c1c"/>
<circle cx="392.86" cy="68.01" r="3.53" fill="#ea1717"/>
<circle cx="384.97" cy="70.34" r="2.51" fill="#e31313"/>
<circle cx="401.8" cy="63.45" r="2.17" fill="#e4b0b0"/>
<circle cx="392.94" cy="72.26" r="3.37" fill="#3848ed"/>
<circle cx="376.89" cy="61.05" r="2.6" fill="#cfcfd4"/>
<circle cx="386.21" cy="67.91" r="2.3" fill="#e51414"/>
<circle cx="392.4" cy="67.92" r="2.52" fill="#dd1313"/>
<circle cx="399.3" cy="71.1" r="2.09" fill="#e71414"/>
<circle cx="388.46" cy="72.17" r="2.78" fill="#2f3edf"/>
<circle cx="383.73" cy="9.54" r="3.39" fill="url(#sh)"/>
<circle cx="395.09" cy="13.9" r="2.01" fill="url(#sh)"/>
<circle cx="393.23" cy="4.56" r="3.4" fill="url(#sh)"/>
<circle cx="376.99" cy="8.2" r="2.66" fill="url(#sh)"/>
<circle cx="375.64" cy="15.94" r="2.13" fill="url(#sh)"/>
<circle cx="395.58" cy="12.52" r="2.12" fill="url(#sh)"/>
<circle cx="388.37" cy="11.2" r="2.84" fill="url(#sh)"/>
<circle cx="396.21" cy="9.66" r="2.45" fill="url(#sh)"/>
<circle cx="381.29" cy="11.52" r="2.28" fill="url(#sh)"/>
<circle cx="400.91" cy="15.48" r="2.57" fill="url(#sh)"/>
<circle cx="386.91" cy="7.78" r="2.95" fill="url(#sh)"/>
<circle cx="396.17" cy="20.41" r="3.32" fill="url(#sh)"/>
<circle cx="394.68" cy="17.39" r="2.65" fill="url(#sh)"/>
<circle cx="376.31" cy="19.21" r="3.34" fill="url(#sh)"/>
<circle cx="411.7" cy="19.84" r="2.53" fill="url(#sh)"/>
<circle cx="375.24" cy="16.5" r="2.42" fill="url(#sh)"/>
<circle cx="394.6" cy="20.47" r="2.32" fill="url(#sh)"/>
<circle cx="383.49" cy="10.92" r="3.47" fill="url(#sh)"/>
<circle cx="406" cy="16.03" r="3.65" fill="url(#sh)"/>
<circle cx="405.04" cy="15.38" r="2.56" fill="url(#sh)"/>
<circle cx="395.41" cy="20.16" r="2.92" fill="url(#sh)"/>
<circle cx="378.84" cy="18.2" r="2.59" fill="url(#sh)"/>
<circle cx="368.44" cy="23.18" r="3" fill="url(#sh)"/>
<circle cx="395.45" cy="7.74" r="2.72" fill="url(#sh)"/>
<circle cx="391.45" cy="23.49" r="3.14" fill="url(#sh)"/>
<circle cx="382.97" cy="5.16" r="3.1" fill="url(#sh)"/>
<circle cx="388.69" cy="26.47" r="2.98" fill="url(#sh)"/>
<circle cx="379.55" cy="25.03" r="3.42" fill="url(#sh)"/>
<circle cx="388.38" cy="13.78" r="2.1" fill="url(#sh)"/>
<circle cx="405.87" cy="23.38" r="2.7" fill="url(#sh)"/>
<circle cx="377.28" cy="11.38" r="2.65" fill="url(#sh)"/>
<circle cx="372.52" cy="10.37" r="3.56" fill="url(#sh)"/>
<circle cx="390.37" cy="10.71" r="3.49" fill="url(#sh)"/>
<circle cx="393.07" cy="3.53" r="1.75" fill="url(#sh)"/>
<circle cx="373.07" cy="8.33" r="2.89" fill="url(#sh)"/>
<circle cx="390.44" cy="14.44" r="3.11" fill="url(#sh)"/>
<circle cx="395.9" cy="8.22" r="2.53" fill="url(#sh)"/>
<circle cx="409.72" cy="22.59" r="2.75" fill="url(#sh)"/>
<circle cx="385.46" cy="26.36" r="2.79" fill="url(#sh)"/>
<circle cx="402.99" cy="25.38" r="2.61" fill="url(#sh)"/>
<circle cx="392.25" cy="13.14" r="3.43" fill="url(#sh)"/>
<circle cx="378.39" cy="21.38" r="2.79" fill="url(#sh)"/>
<circle cx="388.5" cy="19.63" r="3.8" fill="url(#sh)"/>
<circle cx="395.03" cy="34.37" r="2.25" fill="url(#sh)"/>
<circle cx="364.51" cy="24" r="1.98" fill="url(#sh)"/>
<circle cx="395.46" cy="29.14" r="3.53" fill="url(#sh)"/>
<circle cx="365.87" cy="20.21" r="2.01" fill="url(#sh)"/>
<circle cx="388.92" cy="3.02" r="2.46" fill="url(#sh)"/>
<circle cx="366.41" cy="37.3" r="2.26" fill="url(#sh)"/>
<circle cx="391.47" cy="16.58" r="2.42" fill="url(#sh)"/>
<circle cx="399.03" cy="28.56" r="2.92" fill="url(#sh)"/>
<circle cx="383.31" cy="19.07" r="2.79" fill="url(#sh)"/>
<circle cx="379.19" cy="23.53" r="2.57" fill="url(#sh)"/>
<circle cx="388.59" cy="32.49" r="2.7" fill="url(#sh)"/>
<circle cx="412.04" cy="17.88" r="3.79" fill="url(#sh)"/>
<circle cx="408.54" cy="16.58" r="2.85" fill="url(#sh)"/>
<circle cx="395.49" cy="14.88" r="3.16" fill="url(#sh)"/>
<circle cx="410.8" cy="30.11" r="1.77" fill="url(#sh)"/>
<circle cx="403.63" cy="25" r="3.22" fill="url(#sh)"/>
<circle cx="391.35" cy="28.55" r="3.55" fill="url(#sh)"/>
<circle cx="390.59" cy="8.32" r="2.23" fill="url(#sh)"/>
<circle cx="407.46" cy="15.02" r="2.35" fill="url(#sh)"/>
<circle cx="378.97" cy="7.58" r="2.46" fill="url(#sh)"/>
<circle cx="392.71" cy="7.05" r="2.91" fill="url(#sh)"/>
<circle cx="365.37" cy="26.29" r="2.86" fill="url(#sh)"/>
<circle cx="408.74" cy="11.43" r="2.09" fill="url(#sh)"/>
<circle cx="402.19" cy="25.1" r="3.01" fill="url(#sh)"/>
<circle cx="388.64" cy="20.22" r="3.4" fill="url(#sh)"/>
<circle cx="366.37" cy="27.24" r="3.49" fill="url(#sh)"/>
<circle cx="374.95" cy="20.51" r="2.71" fill="url(#sh)"/>
<circle cx="401.33" cy="30.58" r="2.16" fill="url(#sh)"/>
<circle cx="403.49" cy="12.43" r="3.47" fill="url(#sh)"/>
<circle cx="407.48" cy="38.06" r="3.02" fill="url(#sh)"/>
<circle cx="380.84" cy="17.43" r="3.1" fill="url(#sh)"/>
<circle cx="391.46" cy="41.9" r="2.65" fill="url(#sh)"/>
<circle cx="388.18" cy="20.47" r="2.2" fill="url(#sh)"/>
<circle cx="394.77" cy="11.2" r="2.65" fill="url(#sh)"/>
<circle cx="383.03" cy="10.45" r="2.85" fill="url(#sh)"/>
<circle cx="372.15" cy="37.17" r="3.58" fill="url(#sh)"/>
<circle cx="388.34" cy="35.42" r="3.26" fill="url(#sh)"/>
<circle cx="384.81" cy="34.87" r="3.17" fill="url(#sh)"/>
<circle cx="388.16" cy="6.38" r="2.44" fill="url(#sh)"/>
<circle cx="372.74" cy="32.14" r="2.36" fill="url(#sh)"/>
<circle cx="369.03" cy="28.43" r="3.57" fill="url(#sh)"/>
<circle cx="372.76" cy="23.7" r="3.51" fill="url(#sh)"/>
<circle cx="398.65" cy="42.4" r="3.73" fill="url(#sh)"/>
<circle cx="391.8" cy="38.99" r="2.28" fill="url(#sh)"/>
<circle cx="407.56" cy="27.86" r="3.38" fill="url(#sh)"/>
<circle cx="406.27" cy="18.33" r="3" fill="url(#sh)"/>
<circle cx="384.02" cy="38.75" r="3.77" fill="url(#sh)"/>
<circle cx="387.83" cy="11.67" r="2.65" fill="url(#sh)"/>
<circle cx="403.29" cy="40.56" r="2.02" fill="url(#sh)"/>
<circle cx="389.52" cy="36.36" r="2.29" fill="url(#sh)"/>
<circle cx="407.39" cy="10.07" r="2.13" fill="url(#sh)"/>
<circle cx="389.45" cy="32.23" r="3.08" fill="url(#sh)"/>
<circle cx="405.5" cy="18.51" r="3.61" fill="url(#sh)"/>
<circle cx="406.33" cy="43.04" r="1.43" fill="url(#sh)"/>
<circle cx="370.24" cy="18.81" r="2.54" fill="url(#sh)"/>
<circle cx="376.39" cy="23.41" r="3.41" fill="url(#sh)"/>
<circle cx="382.16" cy="44.61" r="2.63" fill="url(#sh)"/>
<circle cx="383.42" cy="22.42" r="3.55" fill="url(#sh)"/>
<circle cx="410.99" cy="23.91" r="3.16" fill="url(#sh)"/>
<circle cx="370.69" cy="9.78" r="2.15" fill="url(#sh)"/>
<circle cx="401.26" cy="23.77" r="2.34" fill="url(#sh)"/>
<circle cx="392.3" cy="17.11" r="3.01" fill="url(#sh)"/>
<circle cx="396.54" cy="5.98" r="2.23" fill="url(#sh)"/>
<circle cx="377.07" cy="13.79" r="2.19" fill="url(#sh)"/>
<circle cx="407.52" cy="14.3" r="3.29" fill="url(#sh)"/>
<circle cx="380.48" cy="35.41" r="3.78" fill="url(#sh)"/>
<circle cx="379.43" cy="14.3" r="2.56" fill="url(#sh)"/>
<circle cx="405.95" cy="22.28" r="2.74" fill="url(#sh)"/>
<circle cx="399.25" cy="30.43" r="2.98" fill="url(#sh)"/>
<circle cx="398.8" cy="21.99" r="3.34" fill="url(#sh)"/>
<circle cx="379.18" cy="43.6" r="3.11" fill="url(#sh)"/>
<circle cx="379.62" cy="25.67" r="3.77" fill="url(#sh)"/>
<circle cx="390.59" cy="43.61" r="3.65" fill="url(#sh)"/>
<circle cx="376.92" cy="4.91" r="1.27" fill="url(#sh)"/>
<circle cx="385.32" cy="12.92" r="2.55" fill="url(#sh)"/>
<circle cx="397.05" cy="47.44" r="2.34" fill="url(#sh)"/>
<circle cx="382.33" cy="39.28" r="3.7" fill="url(#sh)"/>
<circle cx="379.38" cy="48.5" r="2.72" fill="url(#sh)"/>
<circle cx="372.52" cy="34.53" r="2.25" fill="url(#sh)"/>
<circle cx="403.23" cy="11.91" r="3.12" fill="url(#sh)"/>
<circle cx="412.29" cy="14.33" r="1.91" fill="url(#sh)"/>
<circle cx="399.5" cy="9.52" r="3.76" fill="url(#sh)"/>
<circle cx="366.15" cy="33.71" r="2.14" fill="url(#sh)"/>
<circle cx="390.79" cy="25.62" r="2.23" fill="url(#sh)"/>
<circle cx="408.99" cy="14.07" r="2.27" fill="url(#sh)"/>
<circle cx="381.24" cy="32.84" r="2.75" fill="url(#sh)"/>
<circle cx="399.52" cy="17.23" r="2.71" fill="url(#sh)"/>
<circle cx="403.47" cy="10.28" r="2.09" fill="url(#sh)"/>
<circle cx="385.6" cy="10.95" r="2.19" fill="url(#sh)"/>
<circle cx="372.96" cy="11.13" r="2.86" fill="url(#sh)"/>
<circle cx="402.9" cy="12.81" r="2.77" fill="url(#sh)"/>
<circle cx="377.83" cy="27.49" r="2.33" fill="url(#sh)"/>
<circle cx="383" cy="16.7" r="2.05" fill="url(#sh)"/>
<circle cx="385.84" cy="40.18" r="3.17" fill="url(#sh)"/>
<circle cx="397.96" cy="48.76" r="2.92" fill="url(#sh)"/>
<circle cx="400.02" cy="28.27" r="2.77" fill="url(#sh)"/>
<circle cx="401.42" cy="52.32" r="3.69" fill="url(#sh)"/>
<circle cx="408.31" cy="25.69" r="2.7" fill="url(#sh)"/>
<circle cx="381.8" cy="39.85" r="3.48" fill="url(#sh)"/>
<circle cx="394.93" cy="12.7" r="2.91" fill="url(#sh)"/>
<circle cx="374.05" cy="14.24" r="3.8" fill="url(#sh)"/>
<circle cx="401.4" cy="22.81" r="2.16" fill="url(#sh)"/>
<circle cx="366.06" cy="34.54" r="3.13" fill="url(#sh)"/>
<circle cx="395.91" cy="52" r="2.43" fill="url(#sh)"/>
<circle cx="387.54" cy="26.4" r="2.38" fill="url(#sh)"/>
<circle cx="382.84" cy="16.41" r="2.45" fill="url(#sh)"/>
<circle cx="380.33" cy="54.89" r="3.58" fill="url(#sh)"/>
<circle cx="387.81" cy="19.08" r="2.74" fill="url(#sh)"/>
<circle cx="390.58" cy="10.37" r="2.31" fill="url(#sh)"/>
<circle cx="395.54" cy="27.18" r="3.19" fill="url(#sh)"/>
<circle cx="402.64" cy="51.39" r="2.85" fill="url(#sh)"/>
<circle cx="383.28" cy="11.26" r="2.68" fill="url(#sh)"/>
<circle cx="395.16" cy="18.74" r="2.6" fill="url(#sh)"/>
<circle cx="384.94" cy="16.48" r="2.11" fill="url(#sh)"/>
<circle cx="411.83" cy="17.3" r="2.01" fill="url(#sh)"/>
<circle cx="398.16" cy="25.86" r="3.61" fill="url(#sh)"/>
<circle cx="386.29" cy="25.65" r="3.64" fill="url(#sh)"/>
<circle cx="371.97" cy="16.35" r="2.06" fill="url(#sh)"/>
<circle cx="404.04" cy="38.04" r="2.78" fill="url(#sh)"/>
<circle cx="385.06" cy="13.13" r="2.3" fill="url(#sh)"/>
<circle cx="392.34" cy="44.91" r="3.75" fill="url(#sh)"/>
<circle cx="397.54" cy="20.47" r="2.17" fill="url(#sh)"/>
<circle cx="377.28" cy="38.64" r="2.05" fill="url(#sh)"/>
<circle cx="379.09" cy="49.07" r="2.31" fill="url(#sh)"/>
<circle cx="400.8" cy="51.11" r="3.45" fill="url(#sh)"/>
<circle cx="373.49" cy="55.42" r="3.03" fill="url(#sh)"/>
<circle cx="369.59" cy="31.74" r="3.45" fill="url(#sh)"/>
<circle cx="389.56" cy="23.45" r="2.79" fill="url(#sh)"/>
<circle cx="393.11" cy="37.22" r="3.37" fill="url(#sh)"/>
<circle cx="389.1" cy="53.68" r="2.44" fill="url(#sh)"/>
<circle cx="398.82" cy="56.04" r="3.72" fill="url(#sh)"/>
<circle cx="390.53" cy="47.5" r="3.79" fill="url(#sh)"/>
<circle cx="394.27" cy="13.03" r="2.88" fill="url(#sh)"/>
<circle cx="387.76" cy="55.5" r="2.33" fill="url(#sh)"/>
<circle cx="382.78" cy="9.59" r="2.39" fill="url(#sh)"/>
<circle cx="398.26" cy="39.05" r="2.56" fill="url(#sh)"/>
<circle cx="380.94" cy="44.45" r="3.04" fill="url(#sh)"/>
<circle cx="395.08" cy="31.17" r="2.33" fill="url(#sh)"/>
<circle cx="368.83" cy="41.03" r="2.04" fill="url(#sh)"/>
<circle cx="403.23" cy="15.81" r="3.22" fill="url(#sh)"/>
<circle cx="371.2" cy="20.98" r="3.36" fill="url(#sh)"/>
<circle cx="402.7" cy="26.16" r="2.59" fill="url(#sh)"/>
<circle cx="373.56" cy="56.28" r="2.84" fill="url(#sh)"/>
<circle cx="381.49" cy="58.58" r="2.94" fill="url(#sh)"/>
<circle cx="376.97" cy="28.61" r="2.12" fill="url(#sh)"/>
<circle cx="399.04" cy="48.85" r="2.84" fill="url(#sh)"/>
<circle cx="380.99" cy="21.88" r="3.14" fill="url(#sh)"/>
<circle cx="380.16" cy="32.37" r="2.71" fill="url(#sh)"/>
<circle cx="379.96" cy="42.6" r="2" fill="url(#sh)"/>
<circle cx="397.09" cy="52.2" r="3.34" fill="url(#sh)"/>
<circle cx="403.61" cy="36.62" r="2.95" fill="url(#sh)"/>
<circle cx="385.82" cy="47.15" r="2.87" fill="url(#sh)"/>
<circle cx="371.48" cy="17.02" r="3.72" fill="url(#sh)"/>
<circle cx="374.9" cy="8.48" r="2.71" fill="url(#sh)"/>
<circle cx="381.23" cy="55.07" r="2.49" fill="url(#sh)"/>
<circle cx="393.66" cy="8.79" r="3.11" fill="url(#sh)"/>
<circle cx="403.07" cy="36.48" r="3.34" fill="url(#sh)"/>
<circle cx="397.93" cy="5.22" r="1.38" fill="url(#sh)"/>
<circle cx="372.58" cy="37.89" r="2.78" fill="url(#sh)"/>
<circle cx="370.44" cy="12.57" r="3.53" fill="url(#sh)"/>
<circle cx="397.98" cy="65.01" r="2.19" fill="url(#sh)"/>
<circle cx="388.79" cy="28.67" r="2.04" fill="url(#sh)"/>
<circle cx="404.52" cy="7.94" r="2.1" fill="url(#sh)"/>
<circle cx="374.78" cy="37.78" r="3.74" fill="url(#sh)"/>
<circle cx="379.27" cy="51.75" r="3.6" fill="url(#sh)"/>
<circle cx="404.82" cy="28.63" r="3.77" fill="url(#sh)"/>
<circle cx="379.74" cy="23.56" r="2.04" fill="url(#sh)"/>
<circle cx="388.44" cy="30.19" r="2.13" fill="url(#sh)"/>
<circle cx="377.18" cy="63.8" r="3.38" fill="url(#sh)"/>
<circle cx="403.69" cy="23.12" r="2.61" fill="url(#sh)"/>
<circle cx="367.26" cy="16.71" r="2.14" fill="url(#sh)"/>
<circle cx="380.66" cy="68.15" r="3.45" fill="url(#sh)"/>
<circle cx="370.44" cy="37.19" r="2.48" fill="url(#sh)"/>
<circle cx="383.1" cy="60.07" r="2.94" fill="url(#sh)"/>
<circle cx="392.96" cy="8.19" r="3.55" fill="url(#sh)"/>
<circle cx="406.03" cy="39.53" r="3.53" fill="url(#sh)"/>
<circle cx="393.07" cy="33.6" r="3.33" fill="url(#sh)"/>
<circle cx="396.72" cy="60.2" r="3.3" fill="url(#sh)"/>
<circle cx="396.61" cy="62.85" r="2.95" fill="url(#sh)"/>
<circle cx="371.78" cy="35.67" r="2.08" fill="url(#sh)"/>
<circle cx="375.97" cy="30.5" r="3.23" fill="url(#sh)"/>
<circle cx="377.57" cy="10.24" r="2.82" fill="url(#sh)"/>
<circle cx="376.02" cy="57.23" r="3.48" fill="url(#sh)"/>
<circle cx="383.49" cy="45.31" r="3.29" fill="url(#sh)"/>
<circle cx="375.17" cy="44.26" r="2.84" fill="url(#sh)"/>
<circle cx="384.86" cy="61.59" r="2.3" fill="url(#sh)"/>
<circle cx="391.36" cy="44.96" r="3.03" fill="url(#sh)"/>
<circle cx="403.13" cy="26.1" r="2.06" fill="url(#sh)"/>
<circle cx="380.91" cy="28.63" r="3.04" fill="url(#sh)"/>
<circle cx="380.42" cy="49.59" r="2.84" fill="url(#sh)"/>
<circle cx="394.05" cy="37.95" r="3.56" fill="url(#sh)"/>
<circle cx="376.46" cy="55.37" r="3.02" fill="url(#sh)"/>
<circle cx="408.37" cy="23.43" r="3.24" fill="url(#sh)"/>
<circle cx="398.44" cy="12.03" r="2.07" fill="url(#sh)"/>
<circle cx="395.44" cy="63.09" r="2.53" fill="url(#sh)"/>
<circle cx="391.31" cy="18.95" r="3.43" fill="url(#sh)"/>
<circle cx="397.28" cy="43.06" r="2.4" fill="url(#sh)"/>
<circle cx="364.99" cy="30.58" r="2.4" fill="url(#sh)"/>
<circle cx="406.76" cy="41.14" r="2.68" fill="url(#sh)"/>
<circle cx="409.52" cy="26.85" r="3.28" fill="url(#sh)"/>
<circle cx="371.19" cy="19.25" r="3.52" fill="url(#sh)"/>
<circle cx="389.74" cy="59.57" r="2.11" fill="url(#sh)"/>
<circle cx="396.42" cy="46.42" r="3.62" fill="url(#sh)"/>
<circle cx="384.48" cy="39.25" r="3" fill="url(#sh)"/>
<circle cx="380.41" cy="64.33" r="3.6" fill="url(#sh)"/>
<circle cx="390.94" cy="19.51" r="3.12" fill="url(#sh)"/>
<circle cx="386.22" cy="27.34" r="3.74" fill="url(#sh)"/>
<circle cx="395.78" cy="56.52" r="3.54" fill="url(#sh)"/>
<circle cx="381.72" cy="54.7" r="3.7" fill="url(#sh)"/>
<circle cx="369.14" cy="40.44" r="3.54" fill="url(#sh)"/>
<circle cx="381.32" cy="37.45" r="3.55" fill="url(#sh)"/>
<circle cx="379.2" cy="9.9" r="2.11" fill="url(#sh)"/>
<circle cx="386.15" cy="14.36" r="2.21" fill="url(#sh)"/>
<circle cx="378.14" cy="43.94" r="3.19" fill="url(#sh)"/>
<circle cx="399.35" cy="43.6" r="2.83" fill="url(#sh)"/>
<circle cx="396.08" cy="21.71" r="2.64" fill="url(#sh)"/>
<circle cx="366.11" cy="24" r="2.15" fill="url(#sh)"/>
<circle cx="409.09" cy="13.63" r="3.23" fill="url(#sh)"/>
<circle cx="391.42" cy="33.06" r="2.55" fill="url(#sh)"/>
<circle cx="403.16" cy="17.56" r="2.97" fill="url(#sh)"/>
<circle cx="391.54" cy="23.54" r="3.64" fill="url(#sh)"/>
<circle cx="369.94" cy="14.23" r="2.51" fill="url(#sh)"/>
<circle cx="377.86" cy="40.15" r="2.76" fill="url(#sh)"/>
<circle cx="403.47" cy="28.27" r="3.19" fill="url(#sh)"/>
<circle cx="406.11" cy="32.44" r="3" fill="url(#sh)"/>
<circle cx="370.74" cy="20.16" r="3.09" fill="url(#sh)"/>
<circle cx="371.79" cy="36.78" r="2.16" fill="url(#sh)"/>
<circle cx="380.81" cy="28.36" r="2.64" fill="url(#sh)"/>
<circle cx="386.42" cy="26.02" r="2.55" fill="url(#sh)"/>
<circle cx="385.97" cy="17.2" r="2.86" fill="url(#sh)"/>
<circle cx="410.31" cy="31.18" r="1.63" fill="url(#sh)"/>
<circle cx="375.35" cy="21" r="2.24" fill="url(#sh)"/>
<circle cx="394.65" cy="51.92" r="2.91" fill="url(#sh)"/>
<circle cx="383.74" cy="70.73" r="2.06" fill="url(#sh)"/>
<circle cx="404.95" cy="51.54" r="1.31" fill="url(#sh)"/>
<circle cx="375.01" cy="39.64" r="3.04" fill="url(#sh)"/>
<circle cx="380.96" cy="52.72" r="2" fill="url(#sh)"/>
<circle cx="387.06" cy="27.79" r="2.8" fill="url(#sh)"/>
<circle cx="380.87" cy="39.44" r="3.36" fill="url(#sh)"/>
<circle cx="391.7" cy="67.73" r="2.36" fill="url(#sh)"/>
<circle cx="398.32" cy="59.03" r="3.29" fill="url(#sh)"/>
<circle cx="397.9" cy="44.97" r="3.47" fill="url(#sh)"/>
<circle cx="394.7" cy="28.43" r="3.78" fill="url(#sh)"/>
<circle cx="378.16" cy="27.77" r="2.35" fill="url(#sh)"/>
<circle cx="397.26" cy="53.01" r="2.48" fill="url(#sh)"/>
<circle cx="392.34" cy="56.81" r="2.81" fill="url(#sh)"/>
<circle cx="408.62" cy="30.72" r="3.67" fill="url(#sh)"/>
<circle cx="378.55" cy="22.85" r="2.38" fill="url(#sh)"/>
<circle cx="385.85" cy="55.72" r="3.15" fill="url(#sh)"/>
<circle cx="407.39" cy="37.59" r="2.12" fill="url(#sh)"/>
<circle cx="374.76" cy="60.07" r="2.08" fill="url(#sh)"/>
<circle cx="374.01" cy="18.8" r="3.03" fill="url(#sh)"/>
<circle cx="395.46" cy="68.24" r="2.92" fill="url(#sh)"/>
<circle cx="400.26" cy="33.84" r="3.29" fill="url(#sh)"/>
<circle cx="397.41" cy="57.79" r="3.62" fill="url(#sh)"/>
<circle cx="382.56" cy="52.57" r="3.72" fill="url(#sh)"/>
<circle cx="373.45" cy="23.39" r="2.18" fill="url(#sh)"/>
<circle cx="392.75" cy="18.14" r="2.41" fill="url(#sh)"/>
<circle cx="394.34" cy="46.38" r="3.3" fill="url(#sh)"/>
<circle cx="378.09" cy="51.46" r="3.25" fill="url(#sh)"/>
<circle cx="386.07" cy="31.79" r="3.08" fill="url(#sh)"/>
<circle cx="405.14" cy="21.33" r="3.09" fill="url(#sh)"/>
<circle cx="383.44" cy="70.41" r="2.19" fill="url(#sh)"/>
<circle cx="385.12" cy="20.85" r="2.18" fill="url(#sh)"/>
<circle cx="380.75" cy="52.23" r="2.98" fill="url(#sh)"/>
<circle cx="371.41" cy="37.46" r="3.17" fill="url(#sh)"/>
<circle cx="403.99" cy="39.11" r="3.22" fill="url(#sh)"/>
<circle cx="364.27" cy="32.78" r="1.47" fill="url(#sh)"/>
<circle cx="376.31" cy="40.66" r="2.28" fill="url(#sh)"/>
<circle cx="392.36" cy="62.5" r="3.56" fill="url(#sh)"/>
<circle cx="401.3" cy="32.61" r="2.67" fill="url(#sh)"/>
<circle cx="371.69" cy="29.93" r="2.32" fill="url(#sh)"/>
<circle cx="371.99" cy="57.45" r="1.4" fill="url(#sh)"/>
<circle cx="376.08" cy="26.2" r="2.97" fill="url(#sh)"/>
<circle cx="370.23" cy="30.99" r="2.66" fill="url(#sh)"/>
<circle cx="402.76" cy="26.85" r="3.05" fill="url(#sh)"/>
<circle cx="407.15" cy="23.18" r="3.18" fill="url(#sh)"/>
<circle cx="395.81" cy="64.92" r="2.58" fill="url(#sh)"/>
<circle cx="386.64" cy="66.64" r="2.95" fill="url(#sh)"/>
<circle cx="371.27" cy="36.42" r="3.21" fill="url(#sh)"/>
<circle cx="398.16" cy="63.79" r="2.07" fill="url(#sh)"/>
<circle cx="405.61" cy="28.93" r="3.67" fill="url(#sh)"/>
<circle cx="403.7" cy="31.96" r="3.7" fill="url(#sh)"/>
<circle cx="372.07" cy="22.42" r="2.78" fill="url(#sh)"/>
<circle cx="407.97" cy="28.6" r="3.02" fill="url(#sh)"/>
<circle cx="379.84" cy="64.35" r="2.32" fill="url(#sh)"/>
<circle cx="404.47" cy="43.06" r="2.2" fill="url(#sh)"/>
<circle cx="372.48" cy="27.21" r="3.77" fill="url(#sh)"/>
<circle cx="381.99" cy="67.64" r="3.32" fill="url(#sh)"/>
<circle cx="373.46" cy="37.58" r="2.53" fill="url(#sh)"/>
<circle cx="381.98" cy="51.3" r="2.57" fill="url(#sh)"/>
<circle cx="389.25" cy="45.49" r="2.72" fill="url(#sh)"/>
<circle cx="377.04" cy="58.34" r="2.73" fill="url(#sh)"/>
<circle cx="392.04" cy="43.11" r="2.84" fill="url(#sh)"/>
<circle cx="385.59" cy="26.51" r="2.3" fill="url(#sh)"/>
<circle cx="372.82" cy="36.6" r="2.21" fill="url(#sh)"/>
<circle cx="404.29" cy="37.49" r="3.62" fill="url(#sh)"/>
<circle cx="404.15" cy="28.31" r="2.52" fill="url(#sh)"/>
<circle cx="377.28" cy="41.45" r="2.85" fill="url(#sh)"/>
<circle cx="396.22" cy="44.09" r="3.34" fill="url(#sh)"/>
<circle cx="377.39" cy="53.39" r="3.73" fill="url(#sh)"/>
<circle cx="386.36" cy="33.67" r="2.44" fill="url(#sh)"/>
<circle cx="373.03" cy="27.52" r="2.65" fill="url(#sh)"/>
<circle cx="389.58" cy="37.23" r="2.54" fill="url(#sh)"/>
<circle cx="385.48" cy="56.93" r="3" fill="url(#sh)"/>
<circle cx="387.54" cy="60.03" r="2.23" fill="url(#sh)"/>
<circle cx="385.74" cy="48.99" r="2.23" fill="url(#sh)"/>
<circle cx="401.7" cy="58.51" r="3.59" fill="url(#sh)"/>
<circle cx="372.41" cy="37.74" r="3.32" fill="url(#sh)"/>
<circle cx="400.27" cy="46.2" r="2.09" fill="url(#sh)"/>
<circle cx="377.87" cy="62.34" r="3.15" fill="url(#sh)"/>
<circle cx="383.28" cy="35.31" r="2.52" fill="url(#sh)"/>
<circle cx="381.65" cy="61.17" r="2.18" fill="url(#sh)"/>
<circle cx="391.15" cy="53.57" r="3.11" fill="url(#sh)"/>
<circle cx="401.57" cy="63.34" r="3.14" fill="url(#sh)"/>
<circle cx="382.31" cy="42.27" r="3.08" fill="url(#sh)"/>
<circle cx="402.01" cy="64.66" r="2.02" fill="url(#sh)"/>
<circle cx="387.04" cy="60.17" r="3.57" fill="url(#sh)"/>
<circle cx="391.4" cy="37.77" r="3.29" fill="url(#sh)"/>
<circle cx="397.85" cy="52.55" r="2.8" fill="url(#sh)"/>
<circle cx="392.34" cy="51.35" r="2.56" fill="url(#sh)"/>
<circle cx="404.22" cy="46.79" r="1.79" fill="url(#sh)"/>
<circle cx="378.83" cy="58.75" r="3.48" fill="url(#sh)"/>
<circle cx="401.35" cy="50.66" r="3.71" fill="url(#sh)"/>
<circle cx="395.29" cy="64.11" r="2.55" fill="url(#sh)"/>
<circle cx="407.75" cy="39.93" r="2.51" fill="url(#sh)"/>
<circle cx="396.19" cy="41.12" r="2.95" fill="url(#sh)"/>
<circle cx="406.44" cy="39.51" r="2" fill="url(#sh)"/>
<circle cx="392.59" cy="72.01" r="3.1" fill="url(#sh)"/>
<circle cx="394.09" cy="73.91" r="1.91" fill="url(#sh)"/>
<circle cx="399.16" cy="58.35" r="3.45" fill="url(#sh)"/>
<circle cx="372.69" cy="48.32" r="2.62" fill="url(#sh)"/>
<circle cx="393.77" cy="46.07" r="2.97" fill="url(#sh)"/>
<circle cx="401.94" cy="51.7" r="2.46" fill="url(#sh)"/>
<circle cx="377.1" cy="45.47" r="2.21" fill="url(#sh)"/>
<circle cx="399.54" cy="69.05" r="2.23" fill="url(#sh)"/>
<circle cx="381.72" cy="58.61" r="3.03" fill="url(#sh)"/>
<circle cx="401.2" cy="56.45" r="2.37" fill="url(#sh)"/>
<circle cx="383.2" cy="65.61" r="3.68" fill="url(#sh)"/>
<circle cx="378.62" cy="66.88" r="3.42" fill="url(#sh)"/>
<circle cx="381.57" cy="54.48" r="3.17" fill="url(#sh)"/>
<circle cx="375.49" cy="49.5" r="2.49" fill="url(#sh)"/>
<circle cx="401.04" cy="63.56" r="3.27" fill="url(#sh)"/>
<circle cx="391.63" cy="53.3" r="2.12" fill="url(#sh)"/>
<circle cx="385.47" cy="66.14" r="3.4" fill="url(#sh)"/>
<circle cx="388.9" cy="42.29" r="3.08" fill="url(#sh)"/>
<circle cx="382.56" cy="65.35" r="3.5" fill="url(#sh)"/>
<circle cx="375.95" cy="66.15" r="3.19" fill="url(#sh)"/>
<circle cx="405.96" cy="42.38" r="1.57" fill="url(#sh)"/>
<circle cx="370.76" cy="45.23" r="1.73" fill="url(#sh)"/>
<circle cx="400.1" cy="70.54" r="1.57" fill="url(#sh)"/>
<circle cx="395.5" cy="71.22" r="2.51" fill="url(#sh)"/>
<circle cx="384.04" cy="59.76" r="3.18" fill="url(#sh)"/>
<circle cx="396.49" cy="60.71" r="3.58" fill="url(#sh)"/>
<circle cx="380.27" cy="50.79" r="3.44" fill="url(#sh)"/>
<circle cx="398.44" cy="47.17" r="2.56" fill="url(#sh)"/>
<circle cx="382.62" cy="57.85" r="3.74" fill="url(#sh)"/>
<circle cx="389.98" cy="52.12" r="3.04" fill="url(#sh)"/>
<circle cx="374.3" cy="61.58" r="2.11" fill="url(#sh)"/>
<circle cx="401.92" cy="50.29" r="3.6" fill="url(#sh)"/>
<circle cx="382.65" cy="60.76" r="2.56" fill="url(#sh)"/>
<circle cx="381.44" cy="68.15" r="2.11" fill="url(#sh)"/>
<circle cx="392.2" cy="53.6" r="3.3" fill="url(#sh)"/>
<circle cx="394.7" cy="57.21" r="2.34" fill="url(#sh)"/>
<circle cx="397.46" cy="53.98" r="3.09" fill="url(#sh)"/>
<circle cx="385.16" cy="63.15" r="3.65" fill="url(#sh)"/>
<circle cx="384.14" cy="65.75" r="2.24" fill="url(#sh)"/>
<circle cx="389.87" cy="67.88" r="2.83" fill="url(#sh)"/>
<circle cx="392.86" cy="68.01" r="3.53" fill="url(#sh)"/>
<circle cx="384.97" cy="70.34" r="2.51" fill="url(#sh)"/>
<circle cx="401.8" cy="63.45" r="2.17" fill="url(#sh)"/>
<circle cx="392.94" cy="72.26" r="3.37" fill="url(#sh)"/>
<circle cx="376.89" cy="61.05" r="2.6" fill="url(#sh)"/>
<circle cx="386.21" cy="67.91" r="2.3" fill="url(#sh)"/>
<circle cx="392.4" cy="67.92" r="2.52" fill="url(#sh)"/>
<circle cx="399.3" cy="71.1" r="2.09" fill="url(#sh)"/>
<circle cx="388.46" cy="72.17" r="2.78" fill="url(#sh)"/>
<circle cx="390.4" cy="58.91" r="1.3" fill="#1a1ad0"/>
<circle cx="390.71" cy="57.25" r="1.08" fill="#1a1ad0"/>
<circle cx="384.25" cy="57.38" r="1.11" fill="#1a1ad0"/>
<circle cx="386.98" cy="43.9" r="1.23" fill="#1a1ad0"/>
<circle cx="395.95" cy="42.34" r="1.34" fill="#1a1ad0"/>
<circle cx="394.16" cy="46.04" r="0.71" fill="#1a1ad0"/>
<circle cx="392.15" cy="42.91" r="0.82" fill="#1a1ad0"/>
<circle cx="390.67" cy="55.1" r="1.25" fill="#1a1ad0"/>
<circle cx="391.94" cy="61.49" r="1.02" fill="#1a1ad0"/>
<circle cx="395.24" cy="55.63" r="0.88" fill="#1a1ad0"/>
<circle cx="399.32" cy="63.65" r="0.9" fill="#1a1ad0"/>
<circle cx="385.28" cy="50.25" r="0.75" fill="#1a1ad0"/>
<circle cx="397.62" cy="53.81" r="1.25" fill="#1a1ad0"/>
<circle cx="388.89" cy="71.66" r="1.25" fill="#1a1ad0"/>
<circle cx="400.94" cy="56.04" r="1.34" fill="#1a1ad0"/>
<circle cx="389.14" cy="43.34" r="1.11" fill="#1a1ad0"/>
<circle cx="397.91" cy="49.63" r="0.76" fill="#1a1ad0"/>
<circle cx="387.65" cy="71.85" r="1.19" fill="#1a1ad0"/>
<circle cx="382.71" cy="48.88" r="0.77" fill="#1a1ad0"/>
<circle cx="384.09" cy="58.9" r="0.99" fill="#1a1ad0"/>
<circle cx="384.39" cy="64.42" r="0.79" fill="#1a1ad0"/>
<circle cx="394.81" cy="44.73" r="0.97" fill="#1a1ad0"/>
<circle cx="384.9" cy="49.63" r="1.33" fill="#1a1ad0"/>
<circle cx="398.48" cy="50.73" r="1.28" fill="#1a1ad0"/>
<circle cx="384.85" cy="53.62" r="1.26" fill="#1a1ad0"/>
<circle cx="394.76" cy="44.21" r="1.34" fill="#1a1ad0"/>
<circle cx="384.9" cy="49.26" r="1.2" fill="#1a1ad0"/>
<circle cx="387.57" cy="50.48" r="0.75" fill="#1a1ad0"/>
<circle cx="382.07" cy="59.65" r="0.86" fill="#1a1ad0"/>
<circle cx="393.83" cy="52.89" r="0.99" fill="#1a1ad0"/>
<circle cx="402.06" cy="56.48" r="1.07" fill="#1a1ad0"/>
<circle cx="399.93" cy="46.85" r="0.8" fill="#1a1ad0"/>
<circle cx="385.74" cy="47.07" r="1.18" fill="#1a1ad0"/>
<circle cx="393.88" cy="54.49" r="0.77" fill="#1a1ad0"/>
</g></g>
<text x="0" y="12.3" font-weight="bold" font-size="8">a</text>
<defs><linearGradient id="cb" x1="0" y1="0" x2="0" y2="1"><stop offset="0" stop-color="#e2001a"/><stop offset="0.2" stop-color="#e3101f"/><stop offset="0.5" stop-color="#ffffff"/><stop offset="0.78" stop-color="#2a2a90"/><stop offset="1" stop-color="#1a1a80"/></linearGradient></defs>
<rect x="19.8" y="13.6" width="6.9" height="59.2" fill="url(#cb)"/>
<text x="23.2" y="10.3" text-anchor="middle" font-size="7.8">-5.0</text>
<text x="23.2" y="84.6" text-anchor="middle" font-size="7.8">5.0</text>
<text x="87.7" y="88.5" text-anchor="middle" font-size="8.5">Spy</text>
<text x="87.7" y="101" text-anchor="middle" font-size="8.5">(3O39)</text>
<text x="181.7" y="88.5" text-anchor="middle" font-size="8.5">Im7</text>
<text x="181.7" y="101" text-anchor="middle" font-size="8.5">(1AYI)</text>
<text x="280.2" y="88.6" text-anchor="middle" font-size="8.5">α-LA</text>
<text x="280.2" y="98.2" text-anchor="middle" font-size="8.5">(1F6R)</text>
<text x="389.7" y="87.8" text-anchor="middle" font-size="8.5">ADH</text>
<text x="389.7" y="97.4" text-anchor="middle" font-size="8.5">(4W6Z)</text>
<text x="0" y="155.2" font-weight="bold">b</text>
<text transform="translate(9.9 180.7) rotate(-90)" text-anchor="middle" font-size="8.3">Relative Activity<tspan dy="2.7" font-size="6.4">mutant/wt</tspan></text>
<text transform="translate(28.6 181.4) rotate(-90)" text-anchor="middle" font-size="8.9">(α-LA agg. Prev)</text>
<line x1="56.3" y1="152.5" x2="56.3" y2="214.05" stroke="#000" stroke-width="1"/>
<line x1="52.1" y1="213.6" x2="56.3" y2="213.6" stroke="#000" stroke-width="1"/>
<text x="45.4" y="216.5" text-anchor="end">0.0</text>
<line x1="52.1" y1="201.38" x2="56.3" y2="201.38" stroke="#000" stroke-width="1"/>
<text x="45.4" y="204.28" text-anchor="end">1.0</text>
<line x1="52.1" y1="189.16" x2="56.3" y2="189.16" stroke="#000" stroke-width="1"/>
<text x="45.4" y="192.06" text-anchor="end">2.0</text>
<line x1="52.1" y1="176.94" x2="56.3" y2="176.94" stroke="#000" stroke-width="1"/>
<text x="45.4" y="179.84" text-anchor="end">3.0</text>
<line x1="52.1" y1="164.72" x2="56.3" y2="164.72" stroke="#000" stroke-width="1"/>
<text x="45.4" y="167.62" text-anchor="end">4.0</text>
<line x1="52.1" y1="152.5" x2="56.3" y2="152.5" stroke="#000" stroke-width="1"/>
<text x="45.4" y="155.4" text-anchor="end">5.0</text>
<rect x="65" y="202" width="17.6" height="11.6" fill="#d6d6d6"/>
<rect x="90.9" y="199.2" width="17.6" height="14.4" fill="#e6007e"/>
<rect x="116.8" y="179" width="17.6" height="34.6" fill="#00bc00"/>
<rect x="142.7" y="172" width="17.6" height="41.6" fill="#ff8000"/>
<rect x="168.6" y="170" width="17.6" height="43.6" fill="#009fe3"/>
<rect x="194.5" y="186.4" width="17.6" height="27.2" fill="#ae08e4"/>
<line x1="73.8" y1="199.26" x2="73.8" y2="201.34" stroke="#000" stroke-width="1"/>
<line x1="70.1" y1="199.26" x2="77.5" y2="199.26" stroke="#000" stroke-width="1"/>
<line x1="70.1" y1="201.34" x2="77.5" y2="201.34" stroke="#000" stroke-width="1"/>
<circle cx="67.3" cy="200.9" r="2" fill="none" stroke="#111" stroke-width="1.15"/>
<circle cx="73.9" cy="199.1" r="2" fill="none" stroke="#111" stroke-width="1.15"/>
<circle cx="80.6" cy="200.9" r="2" fill="none" stroke="#111" stroke-width="1.15"/>
<line x1="99.7" y1="198.31" x2="99.7" y2="199.69" stroke="#000" stroke-width="1"/>
<line x1="96" y1="198.31" x2="103.4" y2="198.31" stroke="#000" stroke-width="1"/>
<line x1="96" y1="199.69" x2="103.4" y2="199.69" stroke="#000" stroke-width="1"/>
<circle cx="93.3" cy="199.4" r="2" fill="none" stroke="#111" stroke-width="1.15"/>
<circle cx="99.5" cy="198.2" r="2" fill="none" stroke="#111" stroke-width="1.15"/>
<circle cx="104.9" cy="199.4" r="2" fill="none" stroke="#111" stroke-width="1.15"/>
<line x1="125.6" y1="176.7" x2="125.6" y2="180.8" stroke="#000" stroke-width="1"/>
<line x1="121.9" y1="176.7" x2="129.3" y2="176.7" stroke="#000" stroke-width="1"/>
<line x1="121.9" y1="180.8" x2="129.3" y2="180.8" stroke="#000" stroke-width="1"/>
<circle cx="121.3" cy="177.3" r="2" fill="none" stroke="#111" stroke-width="1.15"/>
<circle cx="129.5" cy="177.3" r="2" fill="none" stroke="#111" stroke-width="1.15"/>
<circle cx="121.3" cy="181.9" r="2" fill="none" stroke="#111" stroke-width="1.15"/>
<line x1="151.5" y1="168.6" x2="151.5" y2="176.1" stroke="#000" stroke-width="1"/>
<line x1="147.8" y1="168.6" x2="155.2" y2="168.6" stroke="#000" stroke-width="1"/>
<line x1="147.8" y1="176.1" x2="155.2" y2="176.1" stroke="#000" stroke-width="1"/>
<circle cx="147" cy="169.1" r="2" fill="none" stroke="#111" stroke-width="1.15"/>
<circle cx="155.2" cy="171.1" r="2" fill="none" stroke="#111" stroke-width="1.15"/>
<circle cx="151.1" cy="176.7" r="2" fill="none" stroke="#111" stroke-width="1.15"/>
<line x1="177.4" y1="163.8" x2="177.4" y2="175.6" stroke="#000" stroke-width="1"/>
<line x1="173.7" y1="163.8" x2="181.1" y2="163.8" stroke="#000" stroke-width="1"/>
<line x1="173.7" y1="175.6" x2="181.1" y2="175.6" stroke="#000" stroke-width="1"/>
<circle cx="172.7" cy="165.6" r="2" fill="none" stroke="#111" stroke-width="1.15"/>
<circle cx="180.9" cy="168.5" r="2" fill="none" stroke="#111" stroke-width="1.15"/>
<circle cx="176.8" cy="175.1" r="2" fill="none" stroke="#111" stroke-width="1.15"/>
<line x1="203.3" y1="185.42" x2="203.3" y2="187.12" stroke="#000" stroke-width="1"/>
<line x1="199.6" y1="185.42" x2="207" y2="185.42" stroke="#000" stroke-width="1"/>
<line x1="199.6" y1="187.12" x2="207" y2="187.12" stroke="#000" stroke-width="1"/>
<circle cx="197.1" cy="186.9" r="2" fill="none" stroke="#111" stroke-width="1.15"/>
<circle cx="202.8" cy="185.3" r="2" fill="none" stroke="#111" stroke-width="1.15"/>
<circle cx="209.4" cy="186.6" r="2" fill="none" stroke="#111" stroke-width="1.15"/>
<line x1="52.1" y1="213.6" x2="220.5" y2="213.6" stroke="#000" stroke-width="1"/>
<line x1="73.8" y1="213.6" x2="73.8" y2="217.6" stroke="#000" stroke-width="1"/>
<text x="73.8" y="226.9" text-anchor="middle">WT</text>
<line x1="99.7" y1="213.6" x2="99.7" y2="217.6" stroke="#000" stroke-width="1"/>
<text x="99.7" y="226.9" text-anchor="middle">D26E</text>
<line x1="125.6" y1="213.6" x2="125.6" y2="217.6" stroke="#000" stroke-width="1"/>
<text x="125.6" y="226.9" text-anchor="middle">D26A</text>
<line x1="151.5" y1="213.6" x2="151.5" y2="217.6" stroke="#000" stroke-width="1"/>
<text x="151.5" y="226.9" text-anchor="middle">D26K</text>
<line x1="177.4" y1="213.6" x2="177.4" y2="217.6" stroke="#000" stroke-width="1"/>
<text x="177.4" y="226.9" text-anchor="middle">D26R</text>
<line x1="203.3" y1="213.6" x2="203.3" y2="217.6" stroke="#000" stroke-width="1"/>
<text x="193.4" y="226.9">Spy<tspan dy="3.6" font-size="6.2">29-124</tspan></text>
<text transform="translate(102.7 188.8) rotate(-90)"><tspan font-style="italic">P</tspan> = 0.9881</text>
<text transform="translate(130.3 171.1) rotate(-90)"><tspan font-style="italic">P</tspan> &lt; 0.0001</text>
<text transform="translate(157.4 161.7) rotate(-90)"><tspan font-style="italic">P</tspan> &lt; 0.0001</text>
<text transform="translate(181 155.1) rotate(-90)"><tspan font-style="italic">P</tspan> &lt; 0.0001</text>
<text transform="translate(204.9 177.8) rotate(-90)"><tspan font-style="italic">P</tspan> = 0.0011</text>
<text x="226.6" y="155.1" font-weight="bold">d</text>
<text transform="translate(228.2 182.5) rotate(-90)" text-anchor="middle"><tspan font-style="italic">k</tspan><tspan dy="2.4" font-size="6">off</tspan><tspan dy="-2.4"> (s</tspan><tspan dy="-3" font-size="6">-1</tspan><tspan dy="3">)</tspan></text>
<line x1="255.9" y1="152.3" x2="255.9" y2="213.85" stroke="#000" stroke-width="1"/>
<line x1="251.2" y1="213.4" x2="255.9" y2="213.4" stroke="#000" stroke-width="1"/>
<text x="250.3" y="217" text-anchor="end">0.00</text>
<line x1="251.2" y1="201.18" x2="255.9" y2="201.18" stroke="#000" stroke-width="1"/>
<text x="250.3" y="204.78" text-anchor="end">0.05</text>
<line x1="251.2" y1="188.96" x2="255.9" y2="188.96" stroke="#000" stroke-width="1"/>
<text x="250.3" y="192.56" text-anchor="end">0.10</text>
<line x1="251.2" y1="176.74" x2="255.9" y2="176.74" stroke="#000" stroke-width="1"/>
<text x="250.3" y="180.34" text-anchor="end">0.15</text>
<line x1="251.2" y1="164.52" x2="255.9" y2="164.52" stroke="#000" stroke-width="1"/>
<text x="250.3" y="168.12" text-anchor="end">0.20</text>
<line x1="251.2" y1="152.3" x2="255.9" y2="152.3" stroke="#000" stroke-width="1"/>
<text x="250.3" y="155.9" text-anchor="end">0.25</text>
<rect x="264.35" y="170.1" width="17.3" height="43.3" fill="#d6d6d6"/>
<rect x="290.25" y="165.9" width="17.3" height="47.5" fill="#e6007e"/>
<rect x="316.15" y="192.3" width="17.3" height="21.1" fill="#00bc00"/>
<rect x="342.05" y="194.4" width="17.3" height="19" fill="#ff8000"/>
<rect x="367.95" y="193.7" width="17.3" height="19.7" fill="#009fe3"/>
<rect x="393.85" y="193" width="17.3" height="20.4" fill="#ae08e4"/>
<line x1="273" y1="158.5" x2="273" y2="179" stroke="#000" stroke-width="1"/>
<line x1="269.3" y1="158.5" x2="276.7" y2="158.5" stroke="#000" stroke-width="1"/>
<line x1="269.3" y1="179" x2="276.7" y2="179" stroke="#000" stroke-width="1"/>
<circle cx="268.6" cy="174.5" r="2" fill="none" stroke="#111" stroke-width="1.15"/>
<circle cx="277.7" cy="174.5" r="2" fill="none" stroke="#111" stroke-width="1.15"/>
<circle cx="273" cy="158.5" r="2" fill="none" stroke="#111" stroke-width="1.15"/>
<line x1="298.9" y1="158.8" x2="298.9" y2="172" stroke="#000" stroke-width="1"/>
<line x1="295.2" y1="158.8" x2="302.6" y2="158.8" stroke="#000" stroke-width="1"/>
<line x1="295.2" y1="172" x2="302.6" y2="172" stroke="#000" stroke-width="1"/>
<circle cx="294.4" cy="169.1" r="2" fill="none" stroke="#111" stroke-width="1.15"/>
<circle cx="299.4" cy="169.6" r="2" fill="none" stroke="#111" stroke-width="1.15"/>
<circle cx="303.8" cy="168.4" r="2" fill="none" stroke="#111" stroke-width="1.15"/>
<circle cx="298.9" cy="158.8" r="2" fill="none" stroke="#111" stroke-width="1.15"/>
<line x1="324.8" y1="191" x2="324.8" y2="195" stroke="#000" stroke-width="1"/>
<line x1="321.1" y1="191" x2="328.5" y2="191" stroke="#000" stroke-width="1"/>
<line x1="321.1" y1="195" x2="328.5" y2="195" stroke="#000" stroke-width="1"/>
<circle cx="318.6" cy="194.7" r="2" fill="none" stroke="#111" stroke-width="1.15"/>
<circle cx="325.3" cy="191.3" r="2" fill="none" stroke="#111" stroke-width="1.15"/>
<circle cx="331.4" cy="191.3" r="2" fill="none" stroke="#111" stroke-width="1.15"/>
<line x1="350.7" y1="189.9" x2="350.7" y2="199.9" stroke="#000" stroke-width="1"/>
<line x1="347" y1="189.9" x2="354.4" y2="189.9" stroke="#000" stroke-width="1"/>
<line x1="347" y1="199.9" x2="354.4" y2="199.9" stroke="#000" stroke-width="1"/>
<circle cx="346.6" cy="191.6" r="2" fill="none" stroke="#111" stroke-width="1.15"/>
<circle cx="354.2" cy="191.6" r="2" fill="none" stroke="#111" stroke-width="1.15"/>
<circle cx="350.3" cy="200.5" r="2" fill="none" stroke="#111" stroke-width="1.15"/>
<line x1="376.6" y1="189.6" x2="376.6" y2="198.6" stroke="#000" stroke-width="1"/>
<line x1="372.9" y1="189.6" x2="380.3" y2="189.6" stroke="#000" stroke-width="1"/>
<line x1="372.9" y1="198.6" x2="380.3" y2="198.6" stroke="#000" stroke-width="1"/>
<circle cx="372.7" cy="191" r="2" fill="none" stroke="#111" stroke-width="1.15"/>
<circle cx="380.2" cy="191" r="2" fill="none" stroke="#111" stroke-width="1.15"/>
<circle cx="376.1" cy="199.2" r="2" fill="none" stroke="#111" stroke-width="1.15"/>
<line x1="402.5" y1="191.64" x2="402.5" y2="192.1" stroke="#000" stroke-width="1"/>
<line x1="398.8" y1="191.64" x2="406.2" y2="191.64" stroke="#000" stroke-width="1"/>
<line x1="398.8" y1="192.1" x2="406.2" y2="192.1" stroke="#000" stroke-width="1"/>
<circle cx="396" cy="192" r="2" fill="none" stroke="#111" stroke-width="1.15"/>
<circle cx="402.1" cy="191.6" r="2" fill="none" stroke="#111" stroke-width="1.15"/>
<circle cx="408.3" cy="192" r="2" fill="none" stroke="#111" stroke-width="1.15"/>
<line x1="251.2" y1="213.4" x2="420" y2="213.4" stroke="#000" stroke-width="1"/>
<line x1="273" y1="213.4" x2="273" y2="217.4" stroke="#000" stroke-width="1"/>
<text x="273" y="226.7" text-anchor="middle">WT</text>
<line x1="298.9" y1="213.4" x2="298.9" y2="217.4" stroke="#000" stroke-width="1"/>
<text x="298.9" y="226.7" text-anchor="middle">D26E</text>
<line x1="324.8" y1="213.4" x2="324.8" y2="217.4" stroke="#000" stroke-width="1"/>
<text x="324.8" y="226.7" text-anchor="middle">D26A</text>
<line x1="350.7" y1="213.4" x2="350.7" y2="217.4" stroke="#000" stroke-width="1"/>
<text x="350.7" y="226.7" text-anchor="middle">D26K</text>
<line x1="376.6" y1="213.4" x2="376.6" y2="217.4" stroke="#000" stroke-width="1"/>
<text x="376.6" y="226.7" text-anchor="middle">D26R</text>
<line x1="402.5" y1="213.4" x2="402.5" y2="217.4" stroke="#000" stroke-width="1"/>
<text x="396.1" y="226.7">Spy<tspan dy="3.6" font-size="6.2">29-124</tspan></text>
<text transform="translate(302.9 156.8) rotate(-90)"><tspan font-style="italic">P</tspan> = 0.9250</text>
<text transform="translate(329.6 185.2) rotate(-90)"><tspan font-style="italic">P</tspan> = 0.0027</text>
<text transform="translate(355.9 185.2) rotate(-90)"><tspan font-style="italic">P</tspan> = 0.0011</text>
<text transform="translate(380.3 185.2) rotate(-90)"><tspan font-style="italic">P</tspan> = 0.0015</text>
<text transform="translate(404.9 185.2) rotate(-90)"><tspan font-style="italic">P</tspan> = 0.0030</text>
<text x="0" y="281.7" font-weight="bold">c</text>
<text transform="translate(30 309.2) rotate(-90)" text-anchor="middle"><tspan font-style="italic">K</tspan><tspan dy="2.4" font-size="6">d</tspan><tspan dy="-2.4"> (μM)</tspan></text>
<line x1="57.3" y1="278.5" x2="57.3" y2="340.15" stroke="#000" stroke-width="1"/>
<line x1="52.9" y1="339.7" x2="57.3" y2="339.7" stroke="#000" stroke-width="1"/>
<text x="49.4" y="343.2" text-anchor="end">0.0</text>
<line x1="52.9" y1="327.46" x2="57.3" y2="327.46" stroke="#000" stroke-width="1"/>
<text x="49.4" y="330.96" text-anchor="end">0.2</text>
<line x1="52.9" y1="315.22" x2="57.3" y2="315.22" stroke="#000" stroke-width="1"/>
<text x="49.4" y="318.72" text-anchor="end">0.4</text>
<line x1="52.9" y1="302.98" x2="57.3" y2="302.98" stroke="#000" stroke-width="1"/>
<text x="49.4" y="306.48" text-anchor="end">0.6</text>
<line x1="52.9" y1="290.74" x2="57.3" y2="290.74" stroke="#000" stroke-width="1"/>
<text x="49.4" y="294.24" text-anchor="end">0.8</text>
<line x1="52.9" y1="278.5" x2="57.3" y2="278.5" stroke="#000" stroke-width="1"/>
<text x="49.4" y="282" text-anchor="end">1.0</text>
<rect x="66.15" y="299.8" width="17.3" height="39.9" fill="#d6d6d6"/>
<rect x="91.9" y="300.8" width="17.3" height="38.9" fill="#e6007e"/>
<rect x="117.65" y="323.2" width="17.3" height="16.5" fill="#00bc00"/>
<rect x="143.4" y="324" width="17.3" height="15.7" fill="#ff8000"/>
<rect x="169.15" y="322.4" width="17.3" height="17.3" fill="#009fe3"/>
<rect x="194.9" y="320" width="17.3" height="19.7" fill="#ae08e4"/>
<line x1="74.8" y1="293" x2="74.8" y2="307.1" stroke="#000" stroke-width="1"/>
<line x1="71.1" y1="293" x2="78.5" y2="293" stroke="#000" stroke-width="1"/>
<line x1="71.1" y1="307.1" x2="78.5" y2="307.1" stroke="#000" stroke-width="1"/>
<circle cx="70.6" cy="304.4" r="2" fill="none" stroke="#111" stroke-width="1.15"/>
<circle cx="78.6" cy="304.4" r="2" fill="none" stroke="#111" stroke-width="1.15"/>
<circle cx="74.6" cy="291.5" r="2" fill="none" stroke="#111" stroke-width="1.15"/>
<line x1="100.55" y1="296.3" x2="100.55" y2="303" stroke="#000" stroke-width="1"/>
<line x1="96.85" y1="296.3" x2="104.25" y2="296.3" stroke="#000" stroke-width="1"/>
<line x1="96.85" y1="303" x2="104.25" y2="303" stroke="#000" stroke-width="1"/>
<circle cx="96.5" cy="302.2" r="2" fill="none" stroke="#111" stroke-width="1.15"/>
<circle cx="100.5" cy="297.5" r="2" fill="none" stroke="#111" stroke-width="1.15"/>
<circle cx="104.4" cy="301.5" r="2" fill="none" stroke="#111" stroke-width="1.15"/>
<line x1="126.3" y1="319.8" x2="126.3" y2="325.5" stroke="#000" stroke-width="1"/>
<line x1="122.6" y1="319.8" x2="130" y2="319.8" stroke="#000" stroke-width="1"/>
<line x1="122.6" y1="325.5" x2="130" y2="325.5" stroke="#000" stroke-width="1"/>
<circle cx="122.6" cy="320.8" r="2" fill="none" stroke="#111" stroke-width="1.15"/>
<circle cx="130.1" cy="320.8" r="2" fill="none" stroke="#111" stroke-width="1.15"/>
<circle cx="126.1" cy="326" r="2" fill="none" stroke="#111" stroke-width="1.15"/>
<line x1="152.05" y1="317.7" x2="152.05" y2="330" stroke="#000" stroke-width="1"/>
<line x1="148.35" y1="317.7" x2="155.75" y2="317.7" stroke="#000" stroke-width="1"/>
<line x1="148.35" y1="330" x2="155.75" y2="330" stroke="#000" stroke-width="1"/>
<circle cx="148.2" cy="319.4" r="2" fill="none" stroke="#111" stroke-width="1.15"/>
<circle cx="156.1" cy="319.4" r="2" fill="none" stroke="#111" stroke-width="1.15"/>
<circle cx="152.1" cy="331.7" r="2" fill="none" stroke="#111" stroke-width="1.15"/>
<line x1="177.8" y1="317" x2="177.8" y2="327" stroke="#000" stroke-width="1"/>
<line x1="174.1" y1="317" x2="181.5" y2="317" stroke="#000" stroke-width="1"/>
<line x1="174.1" y1="327" x2="181.5" y2="327" stroke="#000" stroke-width="1"/>
<circle cx="173.8" cy="318.4" r="2" fill="none" stroke="#111" stroke-width="1.15"/>
<circle cx="181.7" cy="318.4" r="2" fill="none" stroke="#111" stroke-width="1.15"/>
<circle cx="177.7" cy="327.7" r="2" fill="none" stroke="#111" stroke-width="1.15"/>
<line x1="203.55" y1="319.45" x2="203.55" y2="320.15" stroke="#000" stroke-width="1"/>
<line x1="199.85" y1="319.45" x2="207.25" y2="319.45" stroke="#000" stroke-width="1"/>
<line x1="199.85" y1="320.15" x2="207.25" y2="320.15" stroke="#000" stroke-width="1"/>
<circle cx="197.5" cy="320" r="2" fill="none" stroke="#111" stroke-width="1.15"/>
<circle cx="204" cy="319.4" r="2" fill="none" stroke="#111" stroke-width="1.15"/>
<circle cx="210.3" cy="320" r="2" fill="none" stroke="#111" stroke-width="1.15"/>
<line x1="52.9" y1="339.7" x2="221.3" y2="339.7" stroke="#000" stroke-width="1"/>
<line x1="74.8" y1="339.7" x2="74.8" y2="343.7" stroke="#000" stroke-width="1"/>
<text x="74.8" y="352.4" text-anchor="middle">WT</text>
<line x1="100.55" y1="339.7" x2="100.55" y2="343.7" stroke="#000" stroke-width="1"/>
<text x="100.55" y="352.4" text-anchor="middle">D26E</text>
<line x1="126.3" y1="339.7" x2="126.3" y2="343.7" stroke="#000" stroke-width="1"/>
<text x="126.3" y="352.4" text-anchor="middle">D26A</text>
<line x1="152.05" y1="339.7" x2="152.05" y2="343.7" stroke="#000" stroke-width="1"/>
<text x="152.05" y="352.4" text-anchor="middle">D26K</text>
<line x1="177.8" y1="339.7" x2="177.8" y2="343.7" stroke="#000" stroke-width="1"/>
<text x="177.8" y="352.4" text-anchor="middle">D26R</text>
<line x1="203.55" y1="339.7" x2="203.55" y2="343.7" stroke="#000" stroke-width="1"/>
<text x="194.45" y="352.4">Spy<tspan dy="3.6" font-size="6.2">29-124</tspan></text>
<text transform="translate(102.5 293.5) rotate(-90)"><tspan font-style="italic">P</tspan> &gt; 0.9999</text>
<text transform="translate(130 314.8) rotate(-90)"><tspan font-style="italic">P</tspan> = 0.0009</text>
<text transform="translate(158 314.2) rotate(-90)"><tspan font-style="italic">P</tspan> = 0.0006</text>
<text transform="translate(182.3 311.9) rotate(-90)"><tspan font-style="italic">P</tspan> = 0.0011</text>
<text transform="translate(206.2 311.9) rotate(-90)"><tspan font-style="italic">P</tspan> = 0.0029</text>
<text x="225.6" y="277.9" font-weight="bold">e</text>
<text transform="translate(230.8 308.3) rotate(-90)" text-anchor="middle" font-size="7.8"><tspan font-style="italic">k</tspan><tspan dy="2.4" font-size="6">on</tspan><tspan dy="-2.4"> (x10</tspan><tspan dy="-3" font-size="6">5</tspan><tspan dy="3"> M</tspan><tspan dy="-3" font-size="6">-1</tspan><tspan dy="3">s</tspan><tspan dy="-3" font-size="6">-1</tspan><tspan dy="3">)</tspan></text>
<line x1="255.9" y1="277.3" x2="255.9" y2="338.75" stroke="#000" stroke-width="1"/>
<line x1="251.1" y1="338.3" x2="255.9" y2="338.3" stroke="#000" stroke-width="1"/>
<text x="247.7" y="341.7" text-anchor="end">0.0</text>
<line x1="251.1" y1="323.05" x2="255.9" y2="323.05" stroke="#000" stroke-width="1"/>
<text x="247.7" y="326.45" text-anchor="end">1.0</text>
<line x1="251.1" y1="307.8" x2="255.9" y2="307.8" stroke="#000" stroke-width="1"/>
<text x="247.7" y="311.2" text-anchor="end">2.0</text>
<line x1="251.1" y1="292.55" x2="255.9" y2="292.55" stroke="#000" stroke-width="1"/>
<text x="247.7" y="295.95" text-anchor="end">3.0</text>
<line x1="251.1" y1="277.3" x2="255.9" y2="277.3" stroke="#000" stroke-width="1"/>
<text x="247.7" y="280.7" text-anchor="end">4.0</text>
<rect x="264.4" y="297.1" width="17.4" height="41.2" fill="#d6d6d6"/>
<rect x="290.2" y="291.8" width="17.4" height="46.5" fill="#e6007e"/>
<rect x="316" y="289.5" width="17.4" height="48.8" fill="#00bc00"/>
<rect x="341.8" y="290.2" width="17.4" height="48.1" fill="#ff8000"/>
<rect x="367.6" y="294.7" width="17.4" height="43.6" fill="#009fe3"/>
<rect x="393.4" y="296.8" width="17.4" height="41.5" fill="#ae08e4"/>
<line x1="273.1" y1="295.42" x2="273.1" y2="296.92" stroke="#000" stroke-width="1"/>
<line x1="269.4" y1="295.42" x2="276.8" y2="295.42" stroke="#000" stroke-width="1"/>
<line x1="269.4" y1="296.92" x2="276.8" y2="296.92" stroke="#000" stroke-width="1"/>
<circle cx="267" cy="296.6" r="2" fill="none" stroke="#111" stroke-width="1.15"/>
<circle cx="273.5" cy="295.3" r="2" fill="none" stroke="#111" stroke-width="1.15"/>
<circle cx="280" cy="296.6" r="2" fill="none" stroke="#111" stroke-width="1.15"/>
<line x1="298.9" y1="289.79" x2="298.9" y2="293.48" stroke="#000" stroke-width="1"/>
<line x1="295.2" y1="289.79" x2="302.6" y2="289.79" stroke="#000" stroke-width="1"/>
<line x1="295.2" y1="293.48" x2="302.6" y2="293.48" stroke="#000" stroke-width="1"/>
<circle cx="293" cy="292.7" r="2" fill="none" stroke="#111" stroke-width="1.15"/>
<circle cx="298.7" cy="289.5" r="2" fill="none" stroke="#111" stroke-width="1.15"/>
<circle cx="305.3" cy="292.7" r="2" fill="none" stroke="#111" stroke-width="1.15"/>
<line x1="324.7" y1="284.6" x2="324.7" y2="292.5" stroke="#000" stroke-width="1"/>
<line x1="321" y1="284.6" x2="328.4" y2="284.6" stroke="#000" stroke-width="1"/>
<line x1="321" y1="292.5" x2="328.4" y2="292.5" stroke="#000" stroke-width="1"/>
<circle cx="321.2" cy="291.8" r="2" fill="none" stroke="#111" stroke-width="1.15"/>
<circle cx="324.6" cy="284.6" r="2" fill="none" stroke="#111" stroke-width="1.15"/>
<circle cx="329.5" cy="291.8" r="2" fill="none" stroke="#111" stroke-width="1.15"/>
<line x1="350.5" y1="280.3" x2="350.5" y2="297" stroke="#000" stroke-width="1"/>
<line x1="346.8" y1="280.3" x2="354.2" y2="280.3" stroke="#000" stroke-width="1"/>
<line x1="346.8" y1="297" x2="354.2" y2="297" stroke="#000" stroke-width="1"/>
<circle cx="346.8" cy="296.1" r="2" fill="none" stroke="#111" stroke-width="1.15"/>
<circle cx="350.2" cy="280.3" r="2" fill="none" stroke="#111" stroke-width="1.15"/>
<circle cx="355.4" cy="296.1" r="2" fill="none" stroke="#111" stroke-width="1.15"/>
<line x1="376.3" y1="291" x2="376.3" y2="297.5" stroke="#000" stroke-width="1"/>
<line x1="372.6" y1="291" x2="380" y2="291" stroke="#000" stroke-width="1"/>
<line x1="372.6" y1="297.5" x2="380" y2="297.5" stroke="#000" stroke-width="1"/>
<circle cx="372.2" cy="291.7" r="2" fill="none" stroke="#111" stroke-width="1.15"/>
<circle cx="379.8" cy="295.3" r="2" fill="none" stroke="#111" stroke-width="1.15"/>
<circle cx="373.7" cy="296.8" r="2" fill="none" stroke="#111" stroke-width="1.15"/>
<line x1="402.1" y1="295.49" x2="402.1" y2="297.91" stroke="#000" stroke-width="1"/>
<line x1="398.4" y1="295.49" x2="405.8" y2="295.49" stroke="#000" stroke-width="1"/>
<line x1="398.4" y1="297.91" x2="405.8" y2="297.91" stroke="#000" stroke-width="1"/>
<circle cx="396.3" cy="297.4" r="2" fill="none" stroke="#111" stroke-width="1.15"/>
<circle cx="402.4" cy="295.3" r="2" fill="none" stroke="#111" stroke-width="1.15"/>
<circle cx="408.4" cy="297.4" r="2" fill="none" stroke="#111" stroke-width="1.15"/>
<line x1="251.1" y1="338.3" x2="420" y2="338.3" stroke="#000" stroke-width="1"/>
<line x1="273.1" y1="338.3" x2="273.1" y2="342.3" stroke="#000" stroke-width="1"/>
<text x="273.1" y="351.7" text-anchor="middle">WT</text>
<line x1="298.9" y1="338.3" x2="298.9" y2="342.3" stroke="#000" stroke-width="1"/>
<text x="298.9" y="351.7" text-anchor="middle">D26E</text>
<line x1="324.7" y1="338.3" x2="324.7" y2="342.3" stroke="#000" stroke-width="1"/>
<text x="324.7" y="351.7" text-anchor="middle">D26A</text>
<line x1="350.5" y1="338.3" x2="350.5" y2="342.3" stroke="#000" stroke-width="1"/>
<text x="350.5" y="351.7" text-anchor="middle">D26K</text>
<line x1="376.3" y1="338.3" x2="376.3" y2="342.3" stroke="#000" stroke-width="1"/>
<text x="376.3" y="351.7" text-anchor="middle">D26R</text>
<line x1="402.1" y1="338.3" x2="402.1" y2="342.3" stroke="#000" stroke-width="1"/>
<text x="395.7" y="351.7">Spy<tspan dy="3.6" font-size="6.2">29-124</tspan></text>
<text transform="translate(302.5 283.2) rotate(-90)"><tspan font-style="italic">P</tspan> = 0.7654</text>
<text transform="translate(327.5 278.8) rotate(-90)"><tspan font-style="italic">P</tspan> = 0.3825</text>
<text transform="translate(353.4 277.2) rotate(-90)"><tspan font-style="italic">P</tspan> = 0.5116</text>
<text transform="translate(379.6 286.3) rotate(-90)"><tspan font-style="italic">P</tspan> = 0.9959</text>
<text transform="translate(405.3 289.3) rotate(-90)"><tspan font-style="italic">P</tspan> &gt; 0.9999</text>
<text x="438.7" y="12.4" font-weight="bold" font-size="8.7">f</text>
<line x1="477.6" y1="10.2" x2="477.6" y2="123.4" stroke="#000" stroke-width="1"/>
<line x1="475.3" y1="10.2" x2="477.6" y2="10.2" stroke="#000" stroke-width="1"/>
<line x1="473.6" y1="119.7" x2="477.6" y2="119.7" stroke="#000" stroke-width="1"/>
<text x="470.6" y="122.6" text-anchor="end">0.00</text>
<line x1="473.6" y1="94.9" x2="477.6" y2="94.9" stroke="#000" stroke-width="1"/>
<text x="470.6" y="97.8" text-anchor="end">0.05</text>
<line x1="473.6" y1="70.1" x2="477.6" y2="70.1" stroke="#000" stroke-width="1"/>
<text x="470.6" y="73" text-anchor="end">0.10</text>
<line x1="473.6" y1="45.3" x2="477.6" y2="45.3" stroke="#000" stroke-width="1"/>
<text x="470.6" y="48.2" text-anchor="end">0.15</text>
<line x1="473.6" y1="20.5" x2="477.6" y2="20.5" stroke="#000" stroke-width="1"/>
<text x="470.6" y="23.4" text-anchor="end">0.20</text>
<line x1="477.1" y1="120.7" x2="608.1" y2="120.7" stroke="#333" stroke-width="1"/>
<line x1="477.6" y1="120.7" x2="477.6" y2="123.2" stroke="#000" stroke-width="1"/>
<text x="477.6" y="134.7" text-anchor="middle">0</text>
<line x1="499.33" y1="120.7" x2="499.33" y2="123.2" stroke="#000" stroke-width="1"/>
<text x="499.33" y="134.7" text-anchor="middle">100</text>
<line x1="521.06" y1="120.7" x2="521.06" y2="123.2" stroke="#000" stroke-width="1"/>
<text x="521.06" y="134.7" text-anchor="middle">200</text>
<line x1="542.79" y1="120.7" x2="542.79" y2="123.2" stroke="#000" stroke-width="1"/>
<text x="542.79" y="134.7" text-anchor="middle">300</text>
<line x1="564.52" y1="120.7" x2="564.52" y2="123.2" stroke="#000" stroke-width="1"/>
<text x="564.52" y="134.7" text-anchor="middle">400</text>
<line x1="586.25" y1="120.7" x2="586.25" y2="123.2" stroke="#000" stroke-width="1"/>
<text x="586.25" y="134.7" text-anchor="middle">500</text>
<line x1="607.98" y1="120.7" x2="607.98" y2="123.2" stroke="#000" stroke-width="1"/>
<text x="607.98" y="134.7" text-anchor="middle">600</text>
<text x="553.2" y="147" text-anchor="middle">Time (min)</text>
<text transform="translate(447 64.5) rotate(-90)" text-anchor="middle" font-size="7.9">A<tspan dy="2.6" font-size="6">320 nm</tspan><tspan dy="-2.6"> (arb. units)</tspan></text>
<text x="485.3" y="18">[α-LA] = 50 μM</text>
<text x="485.3" y="28.9">[Spy<tspan dy="3.2" font-size="6.4">29-124</tspan><tspan dy="-3.2">] = 3.6 μM</tspan></text>
<text x="611.4" y="16.4">[Nt-pep]</text>
<line x1="611.4" y1="20.4" x2="643.8" y2="20.4" stroke="#000" stroke-width="0.8"/>
<text x="638.3" y="29.6" text-anchor="end">125 μM</text>
<text x="638.3" y="37.4" text-anchor="end">100 μM</text>
<text x="638.3" y="46" text-anchor="end">50 μM</text>
<text x="635.5" y="57" text-anchor="end">0 μM</text>
<text x="612.4" y="82.7">no Spy<tspan dy="3.4" font-size="6.2">29-124</tspan></text>
<path d="M477.8 119.2C479.83 118.82 486.57 117.6 490 116.9C493.43 116.2 495.67 115.67 498.4 115C501.13 114.33 503.37 113.93 506.4 112.9C509.43 111.87 513.38 110.57 516.6 108.8C519.82 107.03 522.85 104.52 525.7 102.3C528.55 100.08 530.08 98.33 533.7 95.5C537.32 92.67 542.83 88.45 547.4 85.3C551.97 82.15 556.33 79.4 561.1 76.6C565.87 73.8 571 70.93 576 68.5C581 66.07 585.85 64.12 591.1 62C596.35 59.88 604.77 56.83 607.5 55.8" fill="none" stroke="#f01010" stroke-width="2.5" stroke-linecap="round"/>
<path d="M477.8 119.2C479.83 118.83 486.63 117.6 490 117C493.37 116.4 495.27 116.32 498 115.6C500.73 114.88 503.3 114.22 506.4 112.7C509.5 111.18 513.38 109.08 516.6 106.5C519.82 103.92 522.85 100.45 525.7 97.2C528.55 93.95 529.9 91.45 533.7 87C537.5 82.55 543.5 75.47 548.5 70.5C553.5 65.53 558.88 60.78 563.7 57.2C568.52 53.62 572.83 51.17 577.4 49C581.97 46.83 586.08 45.57 591.1 44.2C596.12 42.83 604.77 41.37 607.5 40.8" fill="none" stroke="#1010f0" stroke-width="2.5" stroke-linecap="round"/>
<path d="M477.8 119.2C479.83 118.83 486.63 117.63 490 117C493.37 116.37 495.27 116.17 498 115.4C500.73 114.63 503.3 114.05 506.4 112.4C509.5 110.75 513.38 108.38 516.6 105.5C519.82 102.62 522.85 98.68 525.7 95.1C528.55 91.52 529.9 88.77 533.7 84C537.5 79.23 543.5 71.77 548.5 66.5C553.5 61.23 558.88 56.12 563.7 52.4C568.52 48.68 572.83 46.48 577.4 44.2C581.97 41.92 586.08 40.25 591.1 38.7C596.12 37.15 604.77 35.53 607.5 34.9" fill="none" stroke="#ff10ff" stroke-width="2.5" stroke-linecap="round"/>
<path d="M477.8 117.8C479.18 117.32 483.02 115.8 486.1 114.9C489.18 114 492.92 113.75 496.3 112.4C499.68 111.05 503.02 109.28 506.4 106.8C509.78 104.32 513.38 101.05 516.6 97.5C519.82 93.95 522.85 89.33 525.7 85.5C528.55 81.67 530.08 78.75 533.7 74.5C537.32 70.25 542.4 64.6 547.4 60C552.4 55.4 558.7 50.33 563.7 46.9C568.7 43.47 572.83 41.57 577.4 39.4C581.97 37.23 586.08 35.5 591.1 33.9C596.12 32.3 604.77 30.48 607.5 29.8" fill="none" stroke="#8a8a10" stroke-width="2.5" stroke-linecap="round"/>
<path d="M477.6 119.4C479.02 119.12 483.32 118.27 486.1 117.7C488.88 117.13 492.15 116.82 494.3 116C496.45 115.18 498.22 113.33 499 112.8" fill="none" stroke="#000" stroke-width="2.3" stroke-linecap="round"/>
<circle cx="500.3" cy="110.4" r="1.2" fill="#000" stroke="none" stroke-width="0"/>
<circle cx="501.9" cy="106.3" r="1.2" fill="#000" stroke="none" stroke-width="0"/>
<circle cx="503.4" cy="103.3" r="1.2" fill="#000" stroke="none" stroke-width="0"/>
<circle cx="504.9" cy="98.7" r="1.2" fill="#000" stroke="none" stroke-width="0"/>
<circle cx="506.4" cy="94.6" r="1.2" fill="#000" stroke="none" stroke-width="0"/>
<circle cx="507.4" cy="90.1" r="1.2" fill="#000" stroke="none" stroke-width="0"/>
<circle cx="508.3" cy="86" r="1.2" fill="#000" stroke="none" stroke-width="0"/>
<circle cx="509.1" cy="81.2" r="1.2" fill="#000" stroke="none" stroke-width="0"/>
<circle cx="509.9" cy="76.3" r="1.2" fill="#000" stroke="none" stroke-width="0"/>
<circle cx="510.8" cy="71.4" r="1.2" fill="#000" stroke="none" stroke-width="0"/>
<circle cx="511.9" cy="68" r="1.2" fill="#000" stroke="none" stroke-width="0"/>
<circle cx="513" cy="64.7" r="1.2" fill="#000" stroke="none" stroke-width="0"/>
<circle cx="514.4" cy="61.8" r="1.2" fill="#000" stroke="none" stroke-width="0"/>
<circle cx="515.9" cy="59.1" r="1.2" fill="#000" stroke="none" stroke-width="0"/>
<circle cx="517.8" cy="57.4" r="1.2" fill="#000" stroke="none" stroke-width="0"/>
<polyline points="517.8,56.61 518.8,56.72 519.8,56.1 521.5,56.96 523.1,58.19 524.8,59.75 526.5,61.67 527.6,63.71 528.7,63.64 529.85,64.15 531,65.84 531.93,65.22 532.87,65.94 533.8,65.56 534.73,66.11 535.67,65.68 536.6,66.7 537.73,67.55 538.87,67.53 540,68.36 541.03,68.69 542.07,68.21 543.1,69.69 544.2,69.66 545.3,69.45 546.4,69.27 547.5,70.75 548.6,70.31 549.7,70.83 550.8,71.22 551.9,71.12 552.82,71.53 553.73,70.84 554.65,71.55 555.57,71.12 556.48,71.95 557.4,71.97 558.32,70.91 559.23,71.09 560.15,71.33 561.07,72.56 561.98,71.89 562.9,72.29 563.82,71.98 564.73,72.48 565.65,72.48 566.57,72.61 567.48,73.14 568.4,73.33 569.48,74.03 570.56,73.91 571.64,74.5 572.72,74.61 573.8,75.04 574.9,75.31 576,75.29 577.1,77.14 578.2,78.1 579.14,78.09 580.09,77.68 581.03,77.98 581.97,77.31 582.91,78.33 583.86,78.02 584.8,77.68 585.72,77.3 586.63,78.43 587.55,78.58 588.47,77.18 589.38,78.2 590.3,77.57 591.2,77.13 592.1,77.29 593,77.95 593.9,78.06 594.8,76.77 595.7,77.57 596.7,76.78 597.7,77.86 598.7,77.35 599.7,78.24 600.7,78.45 601.7,77.81 602.72,78.61 603.73,77.65 604.75,77.37 605.77,78.22 606.78,77.43 607.8,78.2" fill="none" stroke="#000" stroke-width="2.3" stroke-linejoin="round"/>
<text x="438.5" y="194.6" font-weight="bold" font-size="8.5">g</text>
<line x1="468.1" y1="202.7" x2="468.1" y2="338.95" stroke="#000" stroke-width="1"/>
<line x1="461.9" y1="338.5" x2="468.1" y2="338.5" stroke="#000" stroke-width="1"/>
<text x="458.9" y="341.4" text-anchor="end">0</text>
<line x1="461.9" y1="311.44" x2="468.1" y2="311.44" stroke="#000" stroke-width="1"/>
<text x="458.9" y="314.34" text-anchor="end">20</text>
<line x1="461.9" y1="284.38" x2="468.1" y2="284.38" stroke="#000" stroke-width="1"/>
<text x="458.9" y="287.28" text-anchor="end">40</text>
<line x1="461.9" y1="257.32" x2="468.1" y2="257.32" stroke="#000" stroke-width="1"/>
<text x="458.9" y="260.22" text-anchor="end">60</text>
<line x1="461.9" y1="230.26" x2="468.1" y2="230.26" stroke="#000" stroke-width="1"/>
<text x="458.9" y="233.16" text-anchor="end">80</text>
<line x1="461.9" y1="203.2" x2="468.1" y2="203.2" stroke="#000" stroke-width="1"/>
<text x="458.9" y="206.1" text-anchor="end">100</text>
<text transform="translate(434.8 271.4) rotate(-90)" text-anchor="middle">% Remaining Activity</text>
<text transform="translate(446 269.4) rotate(-90)" text-anchor="middle" font-size="8.4">(α-LA agg. Prev)</text>
<rect x="473.55" y="239.7" width="7.9" height="98.8" fill="#d6d6d6"/>
<rect x="485.25" y="235.5" width="7.9" height="103" fill="#009fe3"/>
<rect x="496.95" y="228.7" width="7.9" height="109.8" fill="#ff8000"/>
<rect x="513.75" y="244.5" width="7.9" height="94" fill="#d6d6d6"/>
<rect x="525.45" y="237.6" width="7.9" height="100.9" fill="#009fe3"/>
<rect x="537.15" y="231.4" width="7.9" height="107.1" fill="#ff8000"/>
<rect x="553.95" y="261.8" width="7.9" height="76.7" fill="#d6d6d6"/>
<rect x="565.65" y="249.5" width="7.9" height="89" fill="#009fe3"/>
<rect x="577.35" y="240.5" width="7.9" height="98" fill="#ff8000"/>
<rect x="594.15" y="270.9" width="7.9" height="67.6" fill="#d6d6d6"/>
<rect x="605.85" y="252.6" width="7.9" height="85.9" fill="#009fe3"/>
<rect x="617.55" y="246.9" width="7.9" height="91.6" fill="#ff8000"/>
<rect x="634.35" y="281" width="7.9" height="57.5" fill="#d6d6d6"/>
<rect x="646.05" y="260.9" width="7.9" height="77.6" fill="#009fe3"/>
<rect x="657.75" y="258.4" width="7.9" height="80.1" fill="#ff8000"/>
<line x1="477.5" y1="235.3" x2="477.5" y2="245.1" stroke="#000" stroke-width="1"/>
<line x1="475.25" y1="235.3" x2="479.75" y2="235.3" stroke="#000" stroke-width="1"/>
<line x1="475.25" y1="245.1" x2="479.75" y2="245.1" stroke="#000" stroke-width="1"/>
<circle cx="474.2" cy="235.5" r="2" fill="none" stroke="#111" stroke-width="1.15"/>
<circle cx="479.6" cy="236.9" r="2" fill="none" stroke="#111" stroke-width="1.15"/>
<circle cx="476.9" cy="245.1" r="2" fill="none" stroke="#111" stroke-width="1.15"/>
<line x1="489.2" y1="231.46" x2="489.2" y2="236.08" stroke="#000" stroke-width="1"/>
<line x1="486.95" y1="231.46" x2="491.45" y2="231.46" stroke="#000" stroke-width="1"/>
<line x1="486.95" y1="236.08" x2="491.45" y2="236.08" stroke="#000" stroke-width="1"/>
<circle cx="487.2" cy="231.6" r="2" fill="none" stroke="#111" stroke-width="1.15"/>
<circle cx="490.6" cy="233.5" r="2" fill="none" stroke="#111" stroke-width="1.15"/>
<circle cx="487.2" cy="236.2" r="2" fill="none" stroke="#111" stroke-width="1.15"/>
<line x1="500.9" y1="224.58" x2="500.9" y2="228.68" stroke="#000" stroke-width="1"/>
<line x1="498.65" y1="224.58" x2="503.15" y2="224.58" stroke="#000" stroke-width="1"/>
<line x1="498.65" y1="228.68" x2="503.15" y2="228.68" stroke="#000" stroke-width="1"/>
<circle cx="498.8" cy="224.6" r="2" fill="none" stroke="#111" stroke-width="1.15"/>
<circle cx="502.9" cy="226.6" r="2" fill="none" stroke="#111" stroke-width="1.15"/>
<circle cx="499.5" cy="228.7" r="2" fill="none" stroke="#111" stroke-width="1.15"/>
<line x1="517.7" y1="243.8" x2="517.7" y2="248.6" stroke="#000" stroke-width="1"/>
<line x1="515.45" y1="243.8" x2="519.95" y2="243.8" stroke="#000" stroke-width="1"/>
<line x1="515.45" y1="248.6" x2="519.95" y2="248.6" stroke="#000" stroke-width="1"/>
<circle cx="514.6" cy="243.8" r="2" fill="none" stroke="#111" stroke-width="1.15"/>
<circle cx="520" cy="243.8" r="2" fill="none" stroke="#111" stroke-width="1.15"/>
<circle cx="517.3" cy="248.6" r="2" fill="none" stroke="#111" stroke-width="1.15"/>
<line x1="529.4" y1="234.2" x2="529.4" y2="241.7" stroke="#000" stroke-width="1"/>
<line x1="527.15" y1="234.2" x2="531.65" y2="234.2" stroke="#000" stroke-width="1"/>
<line x1="527.15" y1="241.7" x2="531.65" y2="241.7" stroke="#000" stroke-width="1"/>
<circle cx="526.2" cy="234.2" r="2" fill="none" stroke="#111" stroke-width="1.15"/>
<circle cx="531.7" cy="234.2" r="2" fill="none" stroke="#111" stroke-width="1.15"/>
<circle cx="529.2" cy="241.7" r="2" fill="none" stroke="#111" stroke-width="1.15"/>
<line x1="541.1" y1="222.5" x2="541.1" y2="233.5" stroke="#000" stroke-width="1"/>
<line x1="538.85" y1="222.5" x2="543.35" y2="222.5" stroke="#000" stroke-width="1"/>
<line x1="538.85" y1="233.5" x2="543.35" y2="233.5" stroke="#000" stroke-width="1"/>
<circle cx="541.3" cy="222.5" r="2" fill="none" stroke="#111" stroke-width="1.15"/>
<circle cx="538.5" cy="234.2" r="2" fill="none" stroke="#111" stroke-width="1.15"/>
<circle cx="543.3" cy="232.1" r="2" fill="none" stroke="#111" stroke-width="1.15"/>
<line x1="557.9" y1="256.14" x2="557.9" y2="262.19" stroke="#000" stroke-width="1"/>
<line x1="555.65" y1="256.14" x2="560.15" y2="256.14" stroke="#000" stroke-width="1"/>
<line x1="555.65" y1="262.19" x2="560.15" y2="262.19" stroke="#000" stroke-width="1"/>
<circle cx="555.4" cy="256.9" r="2" fill="none" stroke="#111" stroke-width="1.15"/>
<circle cx="560.3" cy="258" r="2" fill="none" stroke="#111" stroke-width="1.15"/>
<circle cx="557.5" cy="262.6" r="2" fill="none" stroke="#111" stroke-width="1.15"/>
<line x1="569.6" y1="248.02" x2="569.6" y2="249.72" stroke="#000" stroke-width="1"/>
<line x1="567.35" y1="248.02" x2="571.85" y2="248.02" stroke="#000" stroke-width="1"/>
<line x1="567.35" y1="249.72" x2="571.85" y2="249.72" stroke="#000" stroke-width="1"/>
<circle cx="566.4" cy="249.2" r="2" fill="none" stroke="#111" stroke-width="1.15"/>
<circle cx="569.4" cy="247.9" r="2" fill="none" stroke="#111" stroke-width="1.15"/>
<circle cx="572.3" cy="249.5" r="2" fill="none" stroke="#111" stroke-width="1.15"/>
<line x1="581.3" y1="230.1" x2="581.3" y2="240.5" stroke="#000" stroke-width="1"/>
<line x1="579.05" y1="230.1" x2="583.55" y2="230.1" stroke="#000" stroke-width="1"/>
<line x1="579.05" y1="240.5" x2="583.55" y2="240.5" stroke="#000" stroke-width="1"/>
<circle cx="578.4" cy="241" r="2" fill="none" stroke="#111" stroke-width="1.15"/>
<circle cx="582.5" cy="237.2" r="2" fill="none" stroke="#111" stroke-width="1.15"/>
<circle cx="581.3" cy="230.1" r="2" fill="none" stroke="#111" stroke-width="1.15"/>
<line x1="598.1" y1="265.7" x2="598.1" y2="278.5" stroke="#000" stroke-width="1"/>
<line x1="595.85" y1="265.7" x2="600.35" y2="265.7" stroke="#000" stroke-width="1"/>
<line x1="595.85" y1="278.5" x2="600.35" y2="278.5" stroke="#000" stroke-width="1"/>
<circle cx="594.8" cy="265.7" r="2" fill="none" stroke="#111" stroke-width="1.15"/>
<circle cx="600.6" cy="266.4" r="2" fill="none" stroke="#111" stroke-width="1.15"/>
<circle cx="597.7" cy="278.5" r="2" fill="none" stroke="#111" stroke-width="1.15"/>
<line x1="609.8" y1="248.15" x2="609.8" y2="252.65" stroke="#000" stroke-width="1"/>
<line x1="607.55" y1="248.15" x2="612.05" y2="248.15" stroke="#000" stroke-width="1"/>
<line x1="607.55" y1="252.65" x2="612.05" y2="252.65" stroke="#000" stroke-width="1"/>
<circle cx="606.9" cy="251.7" r="2" fill="none" stroke="#111" stroke-width="1.15"/>
<circle cx="609.2" cy="247.8" r="2" fill="none" stroke="#111" stroke-width="1.15"/>
<circle cx="612.6" cy="251.7" r="2" fill="none" stroke="#111" stroke-width="1.15"/>
<line x1="621.5" y1="242.65" x2="621.5" y2="248.55" stroke="#000" stroke-width="1"/>
<line x1="619.25" y1="242.65" x2="623.75" y2="242.65" stroke="#000" stroke-width="1"/>
<line x1="619.25" y1="248.55" x2="623.75" y2="248.55" stroke="#000" stroke-width="1"/>
<circle cx="618.8" cy="243" r="2" fill="none" stroke="#111" stroke-width="1.15"/>
<circle cx="623.6" cy="245" r="2" fill="none" stroke="#111" stroke-width="1.15"/>
<circle cx="618.8" cy="248.8" r="2" fill="none" stroke="#111" stroke-width="1.15"/>
<line x1="638.3" y1="279.27" x2="638.3" y2="281.27" stroke="#000" stroke-width="1"/>
<line x1="636.05" y1="279.27" x2="640.55" y2="279.27" stroke="#000" stroke-width="1"/>
<line x1="636.05" y1="281.27" x2="640.55" y2="281.27" stroke="#000" stroke-width="1"/>
<circle cx="634.5" cy="281.4" r="2" fill="none" stroke="#111" stroke-width="1.15"/>
<circle cx="638" cy="279.5" r="2" fill="none" stroke="#111" stroke-width="1.15"/>
<circle cx="640.3" cy="279.9" r="2" fill="none" stroke="#111" stroke-width="1.15"/>
<line x1="650" y1="259.36" x2="650" y2="260.97" stroke="#000" stroke-width="1"/>
<line x1="647.75" y1="259.36" x2="652.25" y2="259.36" stroke="#000" stroke-width="1"/>
<line x1="647.75" y1="260.97" x2="652.25" y2="260.97" stroke="#000" stroke-width="1"/>
<circle cx="647.2" cy="260.9" r="2" fill="none" stroke="#111" stroke-width="1.15"/>
<circle cx="650.4" cy="259.3" r="2" fill="none" stroke="#111" stroke-width="1.15"/>
<circle cx="653" cy="260.3" r="2" fill="none" stroke="#111" stroke-width="1.15"/>
<line x1="661.7" y1="253.9" x2="661.7" y2="258.97" stroke="#000" stroke-width="1"/>
<line x1="659.45" y1="253.9" x2="663.95" y2="253.9" stroke="#000" stroke-width="1"/>
<line x1="659.45" y1="258.97" x2="663.95" y2="258.97" stroke="#000" stroke-width="1"/>
<circle cx="658.7" cy="254.5" r="2" fill="none" stroke="#111" stroke-width="1.15"/>
<circle cx="662.9" cy="255.5" r="2" fill="none" stroke="#111" stroke-width="1.15"/>
<circle cx="659.1" cy="259.3" r="2" fill="none" stroke="#111" stroke-width="1.15"/>
<line x1="461.9" y1="338.5" x2="671.1" y2="338.5" stroke="#000" stroke-width="1"/>
<line x1="489.2" y1="338.5" x2="489.2" y2="342.5" stroke="#000" stroke-width="1"/>
<text x="488.1" y="354.2" text-anchor="middle">50</text>
<line x1="529.4" y1="338.5" x2="529.4" y2="342.5" stroke="#000" stroke-width="1"/>
<text x="528.3" y="354.2" text-anchor="middle">75</text>
<line x1="569.6" y1="338.5" x2="569.6" y2="342.5" stroke="#000" stroke-width="1"/>
<text x="568.5" y="354.2" text-anchor="middle">100</text>
<line x1="609.8" y1="338.5" x2="609.8" y2="342.5" stroke="#000" stroke-width="1"/>
<text x="608.7" y="354.2" text-anchor="middle">125</text>
<line x1="650" y1="338.5" x2="650" y2="342.5" stroke="#000" stroke-width="1"/>
<text x="648.9" y="354.2" text-anchor="middle">150</text>
<text x="571.3" y="363.3" text-anchor="middle">[Nt-pep] (μM)</text>
<line x1="477.2" y1="193.5" x2="477.2" y2="226.5" stroke="#000" stroke-width="1"/>
<line x1="476.7" y1="193.5" x2="502.9" y2="193.5" stroke="#000" stroke-width="1"/>
<text x="473.2" y="191.6" font-size="8.1"><tspan font-style="italic">P</tspan> = 0.0124</text>
<line x1="476.7" y1="207" x2="489.7" y2="207" stroke="#000" stroke-width="1"/>
<text x="479.5" y="202.8" font-size="8.1"><tspan font-style="italic">P</tspan> = 0.2359</text>
<line x1="517.3" y1="208.3" x2="517.3" y2="242" stroke="#000" stroke-width="1"/>
<line x1="516.8" y1="208.3" x2="543.3" y2="208.3" stroke="#000" stroke-width="1"/>
<text x="526.6" y="206.3" font-size="8.1"><tspan font-style="italic">P</tspan> = 0.0093</text>
<line x1="516.8" y1="220" x2="529.8" y2="220" stroke="#000" stroke-width="1"/>
<text x="518.4" y="216.8" font-size="8.1"><tspan font-style="italic">P</tspan> = 0.0974</text>
<line x1="556.4" y1="220.3" x2="556.4" y2="250.3" stroke="#000" stroke-width="1"/>
<line x1="555.9" y1="220.3" x2="581.5" y2="220.3" stroke="#000" stroke-width="1"/>
<text x="566.2" y="218" font-size="8.1"><tspan font-style="italic">P</tspan> = 0.0005</text>
<line x1="555.9" y1="229.4" x2="571" y2="229.4" stroke="#000" stroke-width="1"/>
<text x="557.8" y="227.3" font-size="8.1"><tspan font-style="italic">P</tspan> = 0.0260</text>
<line x1="597.2" y1="229.6" x2="597.2" y2="259.3" stroke="#000" stroke-width="1"/>
<line x1="596.7" y1="229.6" x2="622" y2="229.6" stroke="#000" stroke-width="1"/>
<text x="606.3" y="227.3" font-size="8.1"><tspan font-style="italic">P</tspan> = 0.0009</text>
<line x1="596.7" y1="239.5" x2="610.9" y2="239.5" stroke="#000" stroke-width="1"/>
<text x="598.6" y="237.3" font-size="8.1"><tspan font-style="italic">P</tspan> = 0.0030</text>
<line x1="635.7" y1="239.8" x2="635.7" y2="272.8" stroke="#000" stroke-width="1"/>
<line x1="635.2" y1="239.8" x2="661" y2="239.8" stroke="#000" stroke-width="1"/>
<text x="643.9" y="237.1" font-size="8.1"><tspan font-style="italic">P</tspan> &lt; 0.0001</text>
<line x1="635.2" y1="251.5" x2="651" y2="251.5" stroke="#000" stroke-width="1"/>
<text x="637" y="247.8" font-size="8.1"><tspan font-style="italic">P</tspan> &lt; 0.0001</text>
<rect x="540.9" y="169.2" width="11.7" height="5" fill="#d6d6d6"/>
<text x="559.4" y="174.6">Nt-pep</text>
<rect x="540.9" y="181" width="11.7" height="5" fill="#009fe3"/>
<text x="559.4" y="186.4">Nt-pep D26R</text>
<rect x="540.9" y="191.4" width="11.7" height="5" fill="#ff8000"/>
<text x="559.4" y="196.8">Nt-pep D26K</text>
<text x="612.6" y="176.7">[α-LA] = 50 μM</text>
<text x="612.6" y="187.3">[Spy<tspan dy="3.2" font-size="6.4">29-124</tspan><tspan dy="-3.2">] = 3.6 μM</tspan></text>
</svg>
</body></html>
